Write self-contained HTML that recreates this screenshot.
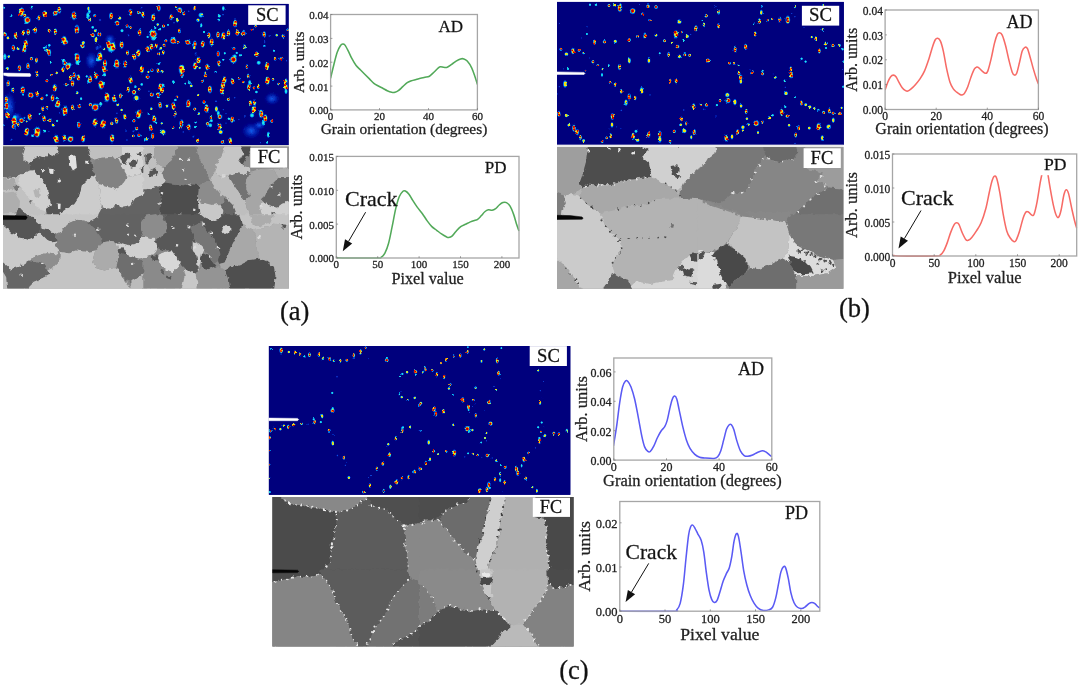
<!DOCTYPE html>
<html lang="en"><head><meta charset="utf-8"><title>Figure</title>
<style>html,body{margin:0;padding:0;background:#fff}body{width:1080px;height:686px;overflow:hidden}svg{display:block}text{font-family:'Liberation Serif', 'Times New Roman', serif;stroke:#222;stroke-width:.28px;stroke-linejoin:round}</style></head><body>
<svg width="1080" height="686" viewBox="0 0 1080 686">
<rect width="1080" height="686" fill="#fff"/>
<defs>
<radialGradient id="gh"><stop offset="0" stop-color="#960000"/><stop offset="0.28" stop-color="#e01000"/><stop offset="0.42" stop-color="#ff8000"/><stop offset="0.52" stop-color="#e8e820" stop-opacity="0.95"/><stop offset="0.66" stop-color="#30e8d8" stop-opacity="0.9"/><stop offset="0.82" stop-color="#0078ff" stop-opacity="0.7"/><stop offset="1" stop-color="#0010b0" stop-opacity="0"/></radialGradient>
<radialGradient id="gw"><stop offset="0" stop-color="#ff7000"/><stop offset="0.25" stop-color="#ffd800"/><stop offset="0.45" stop-color="#90ff60" stop-opacity="0.95"/><stop offset="0.65" stop-color="#00d0ff" stop-opacity="0.85"/><stop offset="0.82" stop-color="#0060f8" stop-opacity="0.6"/><stop offset="1" stop-color="#0010b0" stop-opacity="0"/></radialGradient>
<radialGradient id="gc"><stop offset="0" stop-color="#40f0d0"/><stop offset="0.35" stop-color="#00b8ff" stop-opacity="0.95"/><stop offset="0.7" stop-color="#0058f8" stop-opacity="0.65"/><stop offset="1" stop-color="#0010b0" stop-opacity="0"/></radialGradient>
<radialGradient id="ha"><stop offset="0" stop-color="#40ffd0"/><stop offset="0.45" stop-color="#10d8f0" stop-opacity="0.95"/><stop offset="0.7" stop-color="#0080ff" stop-opacity="0.75"/><stop offset="1" stop-color="#0010b0" stop-opacity="0"/></radialGradient>
<radialGradient id="yb"><stop offset="0" stop-color="#ffc000"/><stop offset="0.55" stop-color="#ffe400"/><stop offset="0.8" stop-color="#c8ff40" stop-opacity="0.9"/><stop offset="1" stop-color="#40ffc0" stop-opacity="0"/></radialGradient>
<radialGradient id="rd"><stop offset="0" stop-color="#900000"/><stop offset="0.55" stop-color="#e00800"/><stop offset="0.85" stop-color="#ff5000" stop-opacity="0.9"/><stop offset="1" stop-color="#ff9000" stop-opacity="0"/></radialGradient>
<radialGradient id="gb"><stop offset="0" stop-color="#1060f0" stop-opacity="0.95"/><stop offset="0.5" stop-color="#0838d0" stop-opacity="0.6"/><stop offset="1" stop-color="#0000a0" stop-opacity="0"/></radialGradient>
<filter id="bl" x="-5%" y="-5%" width="110%" height="110%"><feGaussianBlur stdDeviation="0.55"/></filter>
<filter id="bl2" x="-5%" y="-5%" width="110%" height="110%"><feGaussianBlur stdDeviation="0.35"/></filter>
<filter id="jag" x="-3%" y="-3%" width="106%" height="106%"><feTurbulence type="fractalNoise" baseFrequency="0.22" numOctaves="2" seed="7" result="n"/><feDisplacementMap in="SourceGraphic" in2="n" scale="4.5" xChannelSelector="R" yChannelSelector="G" result="d"/><feGaussianBlur in="d" stdDeviation="0.5"/></filter>
<filter id="dj" x="-2%" y="-2%" width="104%" height="104%"><feTurbulence type="fractalNoise" baseFrequency="0.35" numOctaves="2" seed="3" result="n"/><feDisplacementMap in="SourceGraphic" in2="n" scale="2.4" xChannelSelector="R" yChannelSelector="G" result="d"/><feGaussianBlur in="d" stdDeviation="0.55"/></filter>
</defs>
<clipPath id="ka1"><rect x="3.5" y="3.9" width="285.1" height="141.1"/></clipPath>
<rect x="3.5" y="3.9" width="285.1" height="141.1" fill="#00007d"/>
<g clip-path="url(#ka1)"><g filter="url(#dj)">
<rect x="0.5" y="0.9" width="291.1" height="147.1" fill="#00007d"/>
<ellipse cx="272.0" cy="98.7" rx="8.5" ry="7.0" fill="url(#gb)"/>
<ellipse cx="251.3" cy="130.7" rx="10.5" ry="9.0" fill="url(#gb)"/>
<ellipse cx="259.3" cy="125.3" rx="7.0" ry="5.0" fill="url(#gb)"/>
<ellipse cx="91.3" cy="60.7" rx="7.0" ry="10.0" fill="url(#gb)"/>
<ellipse cx="110.0" cy="39.3" rx="6.0" ry="6.0" fill="url(#gb)"/>
<ellipse cx="9.3" cy="106.0" rx="7.0" ry="16.0" fill="url(#gb)"/>
<ellipse cx="16.7" cy="116.7" rx="6.0" ry="5.0" fill="url(#gb)"/>
<ellipse cx="4.0" cy="7.6" rx="1.63" ry="1.63" fill="url(#ha)"/>
<ellipse cx="11.1" cy="15.6" rx="1.87" ry="1.87" fill="url(#ha)"/>
<ellipse cx="31.1" cy="7.1" rx="1.87" ry="1.87" fill="url(#ha)"/>
<ellipse cx="21.4" cy="11.9" rx="3.37" ry="5.75" fill="url(#ha)"/>
<ellipse cx="22.0" cy="10.0" rx="2.57" ry="2.57" fill="url(#ha)"/>
<ellipse cx="24.6" cy="15.4" rx="2.33" ry="2.33" fill="url(#ha)"/>
<ellipse cx="27.3" cy="19.9" rx="4.20" ry="4.20" fill="url(#ha)"/>
<ellipse cx="26.7" cy="22.0" rx="2.80" ry="2.80" fill="url(#ha)"/>
<ellipse cx="38.8" cy="17.9" rx="1.98" ry="3.38" fill="url(#ha)"/>
<ellipse cx="44.7" cy="14.2" rx="2.78" ry="4.74" fill="url(#ha)"/>
<ellipse cx="55.3" cy="13.2" rx="3.27" ry="3.27" fill="url(#ha)"/>
<ellipse cx="59.3" cy="10.0" rx="2.58" ry="4.40" fill="url(#ha)"/>
<ellipse cx="73.9" cy="15.6" rx="3.17" ry="5.41" fill="url(#ha)"/>
<ellipse cx="88.4" cy="8.6" rx="1.59" ry="2.71" fill="url(#ha)"/>
<ellipse cx="89.3" cy="11.6" rx="1.78" ry="3.04" fill="url(#ha)"/>
<ellipse cx="88.0" cy="15.3" rx="2.38" ry="4.06" fill="url(#ha)"/>
<ellipse cx="89.7" cy="20.2" rx="2.10" ry="2.10" fill="url(#ha)"/>
<ellipse cx="94.7" cy="15.6" rx="2.10" ry="2.10" fill="url(#ha)"/>
<ellipse cx="100.0" cy="20.0" rx="1.87" ry="1.87" fill="url(#gb)"/>
<ellipse cx="111.1" cy="15.9" rx="2.58" ry="4.40" fill="url(#ha)"/>
<ellipse cx="119.6" cy="18.2" rx="2.33" ry="2.33" fill="url(#ha)"/>
<ellipse cx="117.0" cy="23.2" rx="3.27" ry="3.27" fill="url(#ha)"/>
<ellipse cx="130.4" cy="12.3" rx="2.58" ry="4.40" fill="url(#ha)"/>
<ellipse cx="138.5" cy="12.7" rx="2.10" ry="2.10" fill="url(#ha)"/>
<ellipse cx="142.8" cy="14.4" rx="2.18" ry="3.72" fill="url(#ha)"/>
<ellipse cx="141.7" cy="7.6" rx="1.40" ry="1.40" fill="url(#gb)"/>
<ellipse cx="127.1" cy="26.3" rx="2.33" ry="2.33" fill="url(#ha)"/>
<ellipse cx="130.4" cy="27.5" rx="1.87" ry="1.87" fill="url(#ha)"/>
<ellipse cx="122.0" cy="30.7" rx="2.10" ry="2.10" fill="url(#ha)"/>
<ellipse cx="128.4" cy="35.3" rx="1.63" ry="1.63" fill="url(#gb)"/>
<ellipse cx="139.5" cy="32.3" rx="2.58" ry="4.40" fill="url(#ha)"/>
<ellipse cx="5.0" cy="34.4" rx="2.57" ry="2.57" fill="url(#ha)"/>
<ellipse cx="8.0" cy="37.9" rx="2.10" ry="2.10" fill="url(#ha)"/>
<ellipse cx="15.5" cy="35.7" rx="2.38" ry="4.06" fill="url(#ha)"/>
<ellipse cx="23.5" cy="33.0" rx="2.18" ry="3.72" fill="url(#ha)"/>
<ellipse cx="28.1" cy="32.0" rx="2.38" ry="4.06" fill="url(#ha)"/>
<ellipse cx="35.3" cy="30.2" rx="2.38" ry="4.06" fill="url(#ha)"/>
<ellipse cx="49.1" cy="30.5" rx="2.10" ry="2.10" fill="url(#ha)"/>
<ellipse cx="55.5" cy="31.4" rx="2.18" ry="3.72" fill="url(#ha)"/>
<ellipse cx="76.9" cy="29.2" rx="3.17" ry="5.41" fill="url(#ha)"/>
<ellipse cx="92.7" cy="27.3" rx="1.87" ry="1.87" fill="url(#ha)"/>
<ellipse cx="95.3" cy="30.7" rx="2.10" ry="2.10" fill="url(#ha)"/>
<ellipse cx="99.3" cy="34.2" rx="2.80" ry="2.80" fill="url(#ha)"/>
<ellipse cx="92.9" cy="35.3" rx="2.80" ry="2.80" fill="url(#ha)"/>
<ellipse cx="96.0" cy="39.7" rx="2.18" ry="3.72" fill="url(#ha)"/>
<ellipse cx="83.3" cy="42.7" rx="2.33" ry="2.33" fill="url(#ha)"/>
<ellipse cx="82.6" cy="46.2" rx="2.80" ry="2.80" fill="url(#ha)"/>
<ellipse cx="64.2" cy="40.5" rx="3.37" ry="5.75" fill="url(#ha)"/>
<ellipse cx="66.3" cy="42.0" rx="2.57" ry="2.57" fill="url(#ha)"/>
<ellipse cx="25.8" cy="43.5" rx="2.78" ry="4.74" fill="url(#ha)"/>
<ellipse cx="24.3" cy="50.1" rx="2.58" ry="4.40" fill="url(#ha)"/>
<ellipse cx="24.9" cy="46.6" rx="2.58" ry="4.40" fill="url(#ha)"/>
<ellipse cx="13.3" cy="48.0" rx="2.38" ry="4.06" fill="url(#ha)"/>
<ellipse cx="18.0" cy="48.6" rx="2.10" ry="2.10" fill="url(#ha)"/>
<ellipse cx="44.4" cy="47.3" rx="2.10" ry="2.10" fill="url(#ha)"/>
<ellipse cx="46.7" cy="50.4" rx="2.10" ry="2.10" fill="url(#ha)"/>
<ellipse cx="49.3" cy="45.3" rx="1.87" ry="1.87" fill="url(#ha)"/>
<ellipse cx="49.2" cy="52.4" rx="2.58" ry="4.40" fill="url(#ha)"/>
<ellipse cx="4.7" cy="56.7" rx="2.38" ry="4.06" fill="url(#ha)"/>
<ellipse cx="8.7" cy="56.5" rx="1.87" ry="1.87" fill="url(#ha)"/>
<ellipse cx="31.5" cy="58.7" rx="2.33" ry="2.33" fill="url(#ha)"/>
<ellipse cx="36.5" cy="60.3" rx="1.98" ry="3.38" fill="url(#ha)"/>
<ellipse cx="77.3" cy="57.7" rx="3.37" ry="5.75" fill="url(#ha)"/>
<ellipse cx="77.7" cy="62.7" rx="3.03" ry="3.03" fill="url(#ha)"/>
<ellipse cx="76.0" cy="54.7" rx="2.10" ry="2.10" fill="url(#ha)"/>
<ellipse cx="64.8" cy="62.8" rx="3.27" ry="3.27" fill="url(#ha)"/>
<ellipse cx="67.9" cy="66.4" rx="3.50" ry="3.50" fill="url(#ha)"/>
<ellipse cx="69.3" cy="64.7" rx="2.80" ry="2.80" fill="url(#ha)"/>
<ellipse cx="63.3" cy="60.7" rx="2.10" ry="2.10" fill="url(#ha)"/>
<ellipse cx="50.7" cy="62.7" rx="1.40" ry="1.40" fill="url(#ha)"/>
<ellipse cx="99.8" cy="56.5" rx="3.37" ry="5.75" fill="url(#ha)"/>
<ellipse cx="98.0" cy="59.3" rx="2.80" ry="2.80" fill="url(#ha)"/>
<ellipse cx="108.8" cy="44.4" rx="3.37" ry="5.75" fill="url(#ha)"/>
<ellipse cx="112.8" cy="46.7" rx="3.57" ry="6.09" fill="url(#ha)"/>
<ellipse cx="110.7" cy="49.3" rx="3.73" ry="3.73" fill="url(#ha)"/>
<ellipse cx="104.0" cy="49.0" rx="1.87" ry="1.87" fill="url(#ha)"/>
<ellipse cx="100.0" cy="46.7" rx="2.33" ry="2.33" fill="url(#gb)"/>
<ellipse cx="97.3" cy="48.0" rx="2.80" ry="2.80" fill="url(#gb)"/>
<ellipse cx="121.6" cy="44.9" rx="2.78" ry="4.74" fill="url(#ha)"/>
<ellipse cx="127.6" cy="52.7" rx="1.98" ry="3.38" fill="url(#ha)"/>
<ellipse cx="138.5" cy="53.1" rx="2.78" ry="4.74" fill="url(#ha)"/>
<ellipse cx="134.5" cy="57.0" rx="2.38" ry="4.06" fill="url(#ha)"/>
<ellipse cx="125.1" cy="63.9" rx="2.78" ry="4.74" fill="url(#ha)"/>
<ellipse cx="116.8" cy="63.7" rx="3.37" ry="5.75" fill="url(#ha)"/>
<ellipse cx="115.1" cy="64.7" rx="2.80" ry="2.80" fill="url(#ha)"/>
<ellipse cx="105.0" cy="63.4" rx="2.78" ry="4.74" fill="url(#ha)"/>
<ellipse cx="104.2" cy="69.3" rx="2.78" ry="4.74" fill="url(#ha)"/>
<ellipse cx="27.9" cy="66.0" rx="2.38" ry="4.06" fill="url(#ha)"/>
<ellipse cx="19.4" cy="68.1" rx="2.38" ry="4.06" fill="url(#ha)"/>
<ellipse cx="7.3" cy="68.5" rx="2.33" ry="2.33" fill="url(#ha)"/>
<ellipse cx="36.7" cy="72.2" rx="1.87" ry="1.87" fill="url(#ha)"/>
<ellipse cx="56.6" cy="72.9" rx="1.87" ry="1.87" fill="url(#ha)"/>
<ellipse cx="62.9" cy="69.7" rx="2.18" ry="3.72" fill="url(#ha)"/>
<ellipse cx="74.0" cy="73.2" rx="1.40" ry="1.40" fill="url(#ha)"/>
<ellipse cx="141.9" cy="69.4" rx="2.78" ry="4.74" fill="url(#ha)"/>
<ellipse cx="95.1" cy="72.5" rx="1.40" ry="1.40" fill="url(#ha)"/>
<ellipse cx="158.9" cy="8.2" rx="2.38" ry="4.06" fill="url(#ha)"/>
<ellipse cx="153.2" cy="17.4" rx="2.78" ry="4.74" fill="url(#ha)"/>
<ellipse cx="176.2" cy="7.0" rx="1.63" ry="1.63" fill="url(#ha)"/>
<ellipse cx="179.7" cy="9.9" rx="3.27" ry="3.27" fill="url(#ha)"/>
<ellipse cx="183.8" cy="13.9" rx="2.10" ry="2.10" fill="url(#ha)"/>
<ellipse cx="188.7" cy="11.3" rx="1.40" ry="1.40" fill="url(#gb)"/>
<ellipse cx="194.7" cy="8.2" rx="1.78" ry="3.04" fill="url(#ha)"/>
<ellipse cx="171.1" cy="17.2" rx="2.18" ry="3.72" fill="url(#ha)"/>
<ellipse cx="177.3" cy="20.1" rx="1.78" ry="3.04" fill="url(#ha)"/>
<ellipse cx="174.0" cy="22.7" rx="1.40" ry="1.40" fill="url(#gb)"/>
<ellipse cx="200.9" cy="15.1" rx="3.03" ry="3.03" fill="url(#ha)"/>
<ellipse cx="202.0" cy="14.4" rx="1.63" ry="1.63" fill="url(#ha)"/>
<ellipse cx="198.0" cy="20.2" rx="2.33" ry="2.33" fill="url(#ha)"/>
<ellipse cx="201.3" cy="25.3" rx="1.59" ry="2.71" fill="url(#ha)"/>
<ellipse cx="223.3" cy="8.4" rx="1.78" ry="3.04" fill="url(#ha)"/>
<ellipse cx="219.3" cy="16.0" rx="2.10" ry="2.10" fill="url(#ha)"/>
<ellipse cx="218.7" cy="20.0" rx="1.87" ry="1.87" fill="url(#ha)"/>
<ellipse cx="222.7" cy="14.7" rx="1.17" ry="1.17" fill="url(#gb)"/>
<ellipse cx="235.0" cy="23.3" rx="2.78" ry="4.74" fill="url(#ha)"/>
<ellipse cx="255.7" cy="26.1" rx="1.87" ry="1.87" fill="url(#ha)"/>
<ellipse cx="252.1" cy="29.4" rx="2.10" ry="2.10" fill="url(#ha)"/>
<ellipse cx="287.7" cy="29.8" rx="1.87" ry="1.87" fill="url(#ha)"/>
<ellipse cx="157.7" cy="24.4" rx="1.87" ry="1.87" fill="url(#ha)"/>
<ellipse cx="163.4" cy="26.3" rx="2.10" ry="2.10" fill="url(#ha)"/>
<ellipse cx="168.0" cy="24.9" rx="1.40" ry="1.40" fill="url(#ha)"/>
<ellipse cx="160.0" cy="29.3" rx="1.63" ry="1.63" fill="url(#ha)"/>
<ellipse cx="155.3" cy="28.0" rx="1.63" ry="1.63" fill="url(#ha)"/>
<ellipse cx="153.1" cy="33.8" rx="5.13" ry="5.13" fill="url(#ha)"/>
<ellipse cx="153.3" cy="38.0" rx="3.27" ry="3.27" fill="url(#ha)"/>
<ellipse cx="151.3" cy="32.0" rx="2.80" ry="2.80" fill="url(#ha)"/>
<ellipse cx="147.6" cy="36.9" rx="1.63" ry="1.63" fill="url(#ha)"/>
<ellipse cx="179.3" cy="31.0" rx="1.78" ry="3.04" fill="url(#ha)"/>
<ellipse cx="204.0" cy="32.0" rx="1.63" ry="1.63" fill="url(#ha)"/>
<ellipse cx="208.8" cy="35.3" rx="2.38" ry="4.06" fill="url(#ha)"/>
<ellipse cx="217.9" cy="34.9" rx="2.38" ry="4.06" fill="url(#ha)"/>
<ellipse cx="223.3" cy="35.8" rx="2.78" ry="4.74" fill="url(#ha)"/>
<ellipse cx="228.5" cy="33.1" rx="2.38" ry="4.06" fill="url(#ha)"/>
<ellipse cx="237.4" cy="32.7" rx="2.38" ry="4.06" fill="url(#ha)"/>
<ellipse cx="243.2" cy="33.4" rx="3.27" ry="3.27" fill="url(#ha)"/>
<ellipse cx="264.2" cy="34.5" rx="2.38" ry="4.06" fill="url(#ha)"/>
<ellipse cx="269.3" cy="36.0" rx="1.40" ry="1.40" fill="url(#gb)"/>
<ellipse cx="276.7" cy="35.2" rx="1.87" ry="1.87" fill="url(#ha)"/>
<ellipse cx="283.2" cy="35.9" rx="2.33" ry="2.33" fill="url(#ha)"/>
<ellipse cx="264.7" cy="42.0" rx="1.19" ry="2.03" fill="url(#gb)"/>
<ellipse cx="264.4" cy="46.0" rx="1.63" ry="1.63" fill="url(#ha)"/>
<ellipse cx="173.1" cy="40.8" rx="3.97" ry="3.97" fill="url(#ha)"/>
<ellipse cx="173.3" cy="38.7" rx="2.57" ry="2.57" fill="url(#ha)"/>
<ellipse cx="178.2" cy="42.6" rx="2.10" ry="2.10" fill="url(#ha)"/>
<ellipse cx="165.9" cy="40.7" rx="2.10" ry="2.10" fill="url(#ha)"/>
<ellipse cx="164.0" cy="45.1" rx="2.10" ry="2.10" fill="url(#ha)"/>
<ellipse cx="187.9" cy="42.3" rx="3.27" ry="3.27" fill="url(#ha)"/>
<ellipse cx="194.8" cy="43.8" rx="2.38" ry="4.06" fill="url(#ha)"/>
<ellipse cx="194.3" cy="47.9" rx="1.87" ry="1.87" fill="url(#ha)"/>
<ellipse cx="202.7" cy="44.1" rx="2.58" ry="4.40" fill="url(#ha)"/>
<ellipse cx="211.6" cy="42.1" rx="2.78" ry="4.74" fill="url(#ha)"/>
<ellipse cx="212.4" cy="43.6" rx="2.33" ry="2.33" fill="url(#ha)"/>
<ellipse cx="151.4" cy="47.0" rx="2.38" ry="4.06" fill="url(#ha)"/>
<ellipse cx="156.3" cy="45.7" rx="1.98" ry="3.38" fill="url(#ha)"/>
<ellipse cx="147.7" cy="49.1" rx="2.38" ry="4.06" fill="url(#ha)"/>
<ellipse cx="160.7" cy="48.4" rx="1.87" ry="1.87" fill="url(#ha)"/>
<ellipse cx="158.9" cy="53.8" rx="2.33" ry="2.33" fill="url(#ha)"/>
<ellipse cx="163.3" cy="52.4" rx="1.78" ry="3.04" fill="url(#ha)"/>
<ellipse cx="244.7" cy="46.8" rx="1.78" ry="3.04" fill="url(#ha)"/>
<ellipse cx="233.9" cy="48.5" rx="2.10" ry="2.10" fill="url(#ha)"/>
<ellipse cx="274.0" cy="50.7" rx="1.63" ry="1.63" fill="url(#ha)"/>
<ellipse cx="218.2" cy="53.8" rx="2.18" ry="3.72" fill="url(#ha)"/>
<ellipse cx="224.7" cy="53.3" rx="1.63" ry="1.63" fill="url(#ha)"/>
<ellipse cx="236.7" cy="52.9" rx="1.63" ry="1.63" fill="url(#ha)"/>
<ellipse cx="240.0" cy="55.3" rx="1.63" ry="1.63" fill="url(#ha)"/>
<ellipse cx="233.4" cy="59.7" rx="4.43" ry="4.43" fill="url(#ha)"/>
<ellipse cx="234.7" cy="56.4" rx="2.57" ry="2.57" fill="url(#ha)"/>
<ellipse cx="256.7" cy="54.3" rx="2.18" ry="3.72" fill="url(#ha)"/>
<ellipse cx="223.3" cy="59.6" rx="1.63" ry="1.63" fill="url(#ha)"/>
<ellipse cx="195.6" cy="54.0" rx="1.59" ry="2.71" fill="url(#gb)"/>
<ellipse cx="198.6" cy="60.4" rx="2.78" ry="4.74" fill="url(#ha)"/>
<ellipse cx="275.1" cy="59.2" rx="1.87" ry="1.87" fill="url(#ha)"/>
<ellipse cx="280.9" cy="58.8" rx="2.10" ry="2.10" fill="url(#ha)"/>
<ellipse cx="286.7" cy="60.7" rx="1.40" ry="1.40" fill="url(#gb)"/>
<ellipse cx="158.9" cy="63.6" rx="1.87" ry="1.87" fill="url(#ha)"/>
<ellipse cx="219.1" cy="63.3" rx="2.38" ry="4.06" fill="url(#ha)"/>
<ellipse cx="207.2" cy="67.0" rx="2.38" ry="4.06" fill="url(#ha)"/>
<ellipse cx="195.0" cy="65.9" rx="2.78" ry="4.74" fill="url(#ha)"/>
<ellipse cx="199.6" cy="67.9" rx="1.63" ry="1.63" fill="url(#ha)"/>
<ellipse cx="246.9" cy="66.7" rx="1.78" ry="3.04" fill="url(#ha)"/>
<ellipse cx="258.7" cy="62.7" rx="2.57" ry="2.57" fill="url(#ha)"/>
<ellipse cx="267.0" cy="66.0" rx="2.78" ry="4.74" fill="url(#ha)"/>
<ellipse cx="181.5" cy="69.6" rx="3.57" ry="6.09" fill="url(#ha)"/>
<ellipse cx="181.7" cy="67.3" rx="3.27" ry="3.27" fill="url(#ha)"/>
<ellipse cx="151.9" cy="70.4" rx="2.33" ry="2.33" fill="url(#ha)"/>
<ellipse cx="157.9" cy="70.5" rx="1.78" ry="3.04" fill="url(#ha)"/>
<ellipse cx="162.0" cy="71.7" rx="2.10" ry="2.10" fill="url(#ha)"/>
<ellipse cx="148.4" cy="71.9" rx="1.63" ry="1.63" fill="url(#ha)"/>
<ellipse cx="215.6" cy="72.0" rx="1.63" ry="1.63" fill="url(#ha)"/>
<ellipse cx="205.3" cy="72.7" rx="1.63" ry="1.63" fill="url(#ha)"/>
<ellipse cx="37.2" cy="75.4" rx="2.10" ry="2.10" fill="url(#ha)"/>
<ellipse cx="51.3" cy="75.1" rx="1.63" ry="1.63" fill="url(#ha)"/>
<ellipse cx="74.2" cy="75.3" rx="2.18" ry="3.72" fill="url(#ha)"/>
<ellipse cx="70.7" cy="78.0" rx="2.18" ry="3.72" fill="url(#ha)"/>
<ellipse cx="78.4" cy="77.5" rx="2.38" ry="4.06" fill="url(#ha)"/>
<ellipse cx="86.7" cy="76.4" rx="1.63" ry="1.63" fill="url(#ha)"/>
<ellipse cx="90.2" cy="79.2" rx="2.78" ry="4.74" fill="url(#ha)"/>
<ellipse cx="88.9" cy="81.3" rx="2.57" ry="2.57" fill="url(#ha)"/>
<ellipse cx="96.2" cy="76.1" rx="2.38" ry="4.06" fill="url(#ha)"/>
<ellipse cx="104.4" cy="74.7" rx="2.33" ry="2.33" fill="url(#ha)"/>
<ellipse cx="47.0" cy="80.8" rx="2.10" ry="2.10" fill="url(#ha)"/>
<ellipse cx="8.2" cy="83.4" rx="2.38" ry="4.06" fill="url(#ha)"/>
<ellipse cx="66.2" cy="84.8" rx="2.10" ry="2.10" fill="url(#ha)"/>
<ellipse cx="72.6" cy="83.5" rx="2.38" ry="4.06" fill="url(#ha)"/>
<ellipse cx="101.1" cy="84.8" rx="3.37" ry="5.75" fill="url(#ha)"/>
<ellipse cx="103.1" cy="83.6" rx="2.57" ry="2.57" fill="url(#ha)"/>
<ellipse cx="130.7" cy="80.2" rx="2.58" ry="4.40" fill="url(#ha)"/>
<ellipse cx="141.7" cy="84.4" rx="1.87" ry="1.87" fill="url(#ha)"/>
<ellipse cx="135.3" cy="86.7" rx="1.87" ry="1.87" fill="url(#ha)"/>
<ellipse cx="139.1" cy="89.2" rx="1.87" ry="1.87" fill="url(#ha)"/>
<ellipse cx="128.3" cy="89.7" rx="2.18" ry="3.72" fill="url(#ha)"/>
<ellipse cx="134.1" cy="92.4" rx="3.03" ry="3.03" fill="url(#ha)"/>
<ellipse cx="136.4" cy="98.1" rx="3.50" ry="3.50" fill="url(#ha)"/>
<ellipse cx="54.8" cy="87.8" rx="2.78" ry="4.74" fill="url(#ha)"/>
<ellipse cx="12.8" cy="90.1" rx="2.18" ry="3.72" fill="url(#ha)"/>
<ellipse cx="22.8" cy="90.0" rx="2.78" ry="4.74" fill="url(#ha)"/>
<ellipse cx="23.1" cy="94.7" rx="1.40" ry="1.40" fill="url(#ha)"/>
<ellipse cx="30.8" cy="95.3" rx="3.73" ry="3.73" fill="url(#ha)"/>
<ellipse cx="37.2" cy="94.4" rx="1.98" ry="3.38" fill="url(#ha)"/>
<ellipse cx="46.7" cy="95.3" rx="1.63" ry="1.63" fill="url(#ha)"/>
<ellipse cx="41.9" cy="98.5" rx="2.33" ry="2.33" fill="url(#ha)"/>
<ellipse cx="52.5" cy="97.9" rx="2.58" ry="4.40" fill="url(#ha)"/>
<ellipse cx="77.1" cy="92.7" rx="2.10" ry="2.10" fill="url(#ha)"/>
<ellipse cx="81.1" cy="98.7" rx="1.87" ry="1.87" fill="url(#ha)"/>
<ellipse cx="106.9" cy="97.3" rx="3.37" ry="5.75" fill="url(#ha)"/>
<ellipse cx="114.0" cy="98.4" rx="2.78" ry="4.74" fill="url(#ha)"/>
<ellipse cx="115.3" cy="100.7" rx="1.87" ry="1.87" fill="url(#ha)"/>
<ellipse cx="120.5" cy="95.9" rx="1.98" ry="3.38" fill="url(#ha)"/>
<ellipse cx="117.7" cy="104.7" rx="2.10" ry="2.10" fill="url(#ha)"/>
<ellipse cx="100.7" cy="104.0" rx="2.33" ry="2.33" fill="url(#ha)"/>
<ellipse cx="58.1" cy="103.9" rx="2.98" ry="5.08" fill="url(#ha)"/>
<ellipse cx="56.7" cy="105.3" rx="2.57" ry="2.57" fill="url(#ha)"/>
<ellipse cx="56.7" cy="98.0" rx="1.87" ry="1.87" fill="url(#ha)"/>
<ellipse cx="6.5" cy="99.5" rx="2.38" ry="4.06" fill="url(#ha)"/>
<ellipse cx="6.5" cy="105.8" rx="2.98" ry="5.08" fill="url(#ha)"/>
<ellipse cx="7.3" cy="115.4" rx="2.78" ry="4.74" fill="url(#ha)"/>
<ellipse cx="42.7" cy="108.6" rx="1.98" ry="3.38" fill="url(#ha)"/>
<ellipse cx="46.9" cy="107.4" rx="1.87" ry="1.87" fill="url(#ha)"/>
<ellipse cx="79.4" cy="106.1" rx="2.80" ry="2.80" fill="url(#ha)"/>
<ellipse cx="72.6" cy="107.4" rx="2.18" ry="3.72" fill="url(#ha)"/>
<ellipse cx="90.4" cy="104.5" rx="2.33" ry="2.33" fill="url(#ha)"/>
<ellipse cx="95.3" cy="107.2" rx="4.67" ry="4.67" fill="url(#ha)"/>
<ellipse cx="65.1" cy="110.7" rx="3.57" ry="6.09" fill="url(#ha)"/>
<ellipse cx="64.7" cy="114.0" rx="2.57" ry="2.57" fill="url(#ha)"/>
<ellipse cx="59.6" cy="112.9" rx="1.40" ry="1.40" fill="url(#gb)"/>
<ellipse cx="39.7" cy="114.0" rx="1.63" ry="1.63" fill="url(#ha)"/>
<ellipse cx="121.6" cy="110.0" rx="1.87" ry="1.87" fill="url(#ha)"/>
<ellipse cx="116.9" cy="113.3" rx="1.40" ry="1.40" fill="url(#gb)"/>
<ellipse cx="138.7" cy="114.2" rx="3.17" ry="5.41" fill="url(#ha)"/>
<ellipse cx="138.3" cy="116.7" rx="2.33" ry="2.33" fill="url(#ha)"/>
<ellipse cx="124.8" cy="116.8" rx="2.18" ry="3.72" fill="url(#ha)"/>
<ellipse cx="29.5" cy="117.0" rx="2.58" ry="4.40" fill="url(#ha)"/>
<ellipse cx="44.1" cy="118.6" rx="2.38" ry="4.06" fill="url(#ha)"/>
<ellipse cx="49.9" cy="120.3" rx="2.33" ry="2.33" fill="url(#ha)"/>
<ellipse cx="57.1" cy="120.9" rx="1.63" ry="1.63" fill="url(#ha)"/>
<ellipse cx="24.4" cy="117.7" rx="1.40" ry="1.40" fill="url(#ha)"/>
<ellipse cx="26.7" cy="121.5" rx="1.40" ry="1.40" fill="url(#ha)"/>
<ellipse cx="21.4" cy="120.3" rx="3.27" ry="3.27" fill="url(#ha)"/>
<ellipse cx="14.4" cy="121.3" rx="3.57" ry="6.09" fill="url(#ha)"/>
<ellipse cx="14.7" cy="117.3" rx="2.80" ry="2.80" fill="url(#ha)"/>
<ellipse cx="13.6" cy="126.6" rx="2.80" ry="2.80" fill="url(#ha)"/>
<ellipse cx="18.3" cy="124.3" rx="1.78" ry="3.04" fill="url(#ha)"/>
<ellipse cx="53.3" cy="125.0" rx="2.33" ry="2.33" fill="url(#ha)"/>
<ellipse cx="78.7" cy="125.0" rx="2.38" ry="4.06" fill="url(#ha)"/>
<ellipse cx="94.9" cy="122.5" rx="2.98" ry="5.08" fill="url(#ha)"/>
<ellipse cx="103.2" cy="124.0" rx="3.37" ry="5.75" fill="url(#ha)"/>
<ellipse cx="104.0" cy="125.3" rx="2.33" ry="2.33" fill="url(#ha)"/>
<ellipse cx="111.8" cy="123.4" rx="2.33" ry="2.33" fill="url(#ha)"/>
<ellipse cx="116.6" cy="120.7" rx="2.38" ry="4.06" fill="url(#ha)"/>
<ellipse cx="133.8" cy="120.7" rx="2.33" ry="2.33" fill="url(#ha)"/>
<ellipse cx="136.5" cy="128.7" rx="2.33" ry="2.33" fill="url(#ha)"/>
<ellipse cx="133.3" cy="131.3" rx="1.63" ry="1.63" fill="url(#gb)"/>
<ellipse cx="126.0" cy="131.1" rx="1.40" ry="1.40" fill="url(#gb)"/>
<ellipse cx="138.9" cy="135.4" rx="2.33" ry="2.33" fill="url(#ha)"/>
<ellipse cx="133.5" cy="135.9" rx="1.87" ry="1.87" fill="url(#ha)"/>
<ellipse cx="145.3" cy="139.3" rx="1.87" ry="1.87" fill="url(#ha)"/>
<ellipse cx="126.9" cy="140.0" rx="1.40" ry="1.40" fill="url(#gb)"/>
<ellipse cx="26.7" cy="131.9" rx="2.98" ry="5.08" fill="url(#ha)"/>
<ellipse cx="27.3" cy="130.0" rx="2.57" ry="2.57" fill="url(#ha)"/>
<ellipse cx="37.3" cy="132.0" rx="3.97" ry="6.77" fill="url(#ha)"/>
<ellipse cx="38.0" cy="130.0" rx="2.80" ry="2.80" fill="url(#ha)"/>
<ellipse cx="32.7" cy="135.6" rx="2.10" ry="2.10" fill="url(#ha)"/>
<ellipse cx="44.9" cy="131.1" rx="1.87" ry="1.87" fill="url(#ha)"/>
<ellipse cx="48.9" cy="131.6" rx="1.17" ry="1.17" fill="url(#gb)"/>
<ellipse cx="11.6" cy="139.6" rx="1.63" ry="1.63" fill="url(#gb)"/>
<ellipse cx="56.2" cy="139.0" rx="2.98" ry="5.08" fill="url(#ha)"/>
<ellipse cx="56.0" cy="137.3" rx="2.33" ry="2.33" fill="url(#ha)"/>
<ellipse cx="64.4" cy="137.9" rx="2.38" ry="4.06" fill="url(#ha)"/>
<ellipse cx="70.4" cy="139.1" rx="3.73" ry="3.73" fill="url(#ha)"/>
<ellipse cx="83.2" cy="138.9" rx="2.58" ry="4.40" fill="url(#ha)"/>
<ellipse cx="112.0" cy="138.2" rx="2.98" ry="5.08" fill="url(#ha)"/>
<ellipse cx="3.6" cy="125.3" rx="1.40" ry="1.40" fill="url(#ha)"/>
<ellipse cx="147.7" cy="76.6" rx="2.80" ry="2.80" fill="url(#ha)"/>
<ellipse cx="182.2" cy="75.1" rx="2.33" ry="2.33" fill="url(#ha)"/>
<ellipse cx="205.4" cy="75.4" rx="2.33" ry="2.33" fill="url(#ha)"/>
<ellipse cx="202.4" cy="81.4" rx="1.87" ry="1.87" fill="url(#ha)"/>
<ellipse cx="173.3" cy="81.7" rx="1.87" ry="1.87" fill="url(#ha)"/>
<ellipse cx="185.3" cy="83.6" rx="1.40" ry="1.40" fill="url(#ha)"/>
<ellipse cx="189.3" cy="82.7" rx="2.10" ry="2.10" fill="url(#ha)"/>
<ellipse cx="191.3" cy="86.0" rx="2.10" ry="2.10" fill="url(#ha)"/>
<ellipse cx="210.0" cy="89.5" rx="2.78" ry="4.74" fill="url(#ha)"/>
<ellipse cx="224.7" cy="80.0" rx="2.58" ry="4.40" fill="url(#ha)"/>
<ellipse cx="222.8" cy="85.2" rx="2.78" ry="4.74" fill="url(#ha)"/>
<ellipse cx="221.7" cy="90.8" rx="2.58" ry="4.40" fill="url(#ha)"/>
<ellipse cx="222.3" cy="92.7" rx="2.10" ry="2.10" fill="url(#ha)"/>
<ellipse cx="232.4" cy="81.4" rx="2.38" ry="4.06" fill="url(#ha)"/>
<ellipse cx="239.2" cy="78.4" rx="1.87" ry="1.87" fill="url(#ha)"/>
<ellipse cx="243.3" cy="81.9" rx="1.87" ry="1.87" fill="url(#ha)"/>
<ellipse cx="248.1" cy="76.0" rx="1.78" ry="3.04" fill="url(#ha)"/>
<ellipse cx="249.7" cy="82.7" rx="1.98" ry="3.38" fill="url(#ha)"/>
<ellipse cx="248.7" cy="87.0" rx="2.38" ry="4.06" fill="url(#ha)"/>
<ellipse cx="254.1" cy="87.9" rx="2.10" ry="2.10" fill="url(#ha)"/>
<ellipse cx="258.3" cy="86.5" rx="1.98" ry="3.38" fill="url(#ha)"/>
<ellipse cx="256.4" cy="92.0" rx="1.87" ry="1.87" fill="url(#ha)"/>
<ellipse cx="267.4" cy="80.8" rx="2.98" ry="5.08" fill="url(#ha)"/>
<ellipse cx="273.0" cy="79.4" rx="1.87" ry="1.87" fill="url(#ha)"/>
<ellipse cx="278.5" cy="84.0" rx="1.87" ry="1.87" fill="url(#ha)"/>
<ellipse cx="285.6" cy="81.7" rx="2.58" ry="4.40" fill="url(#ha)"/>
<ellipse cx="285.7" cy="86.4" rx="2.58" ry="4.40" fill="url(#ha)"/>
<ellipse cx="286.0" cy="91.3" rx="1.98" ry="3.38" fill="url(#ha)"/>
<ellipse cx="160.2" cy="86.6" rx="2.38" ry="4.06" fill="url(#ha)"/>
<ellipse cx="162.1" cy="90.0" rx="2.38" ry="4.06" fill="url(#ha)"/>
<ellipse cx="162.7" cy="85.3" rx="2.33" ry="2.33" fill="url(#ha)"/>
<ellipse cx="158.0" cy="94.5" rx="2.80" ry="2.80" fill="url(#ha)"/>
<ellipse cx="151.9" cy="94.6" rx="2.80" ry="2.80" fill="url(#ha)"/>
<ellipse cx="158.7" cy="97.3" rx="1.40" ry="1.40" fill="url(#ha)"/>
<ellipse cx="148.9" cy="91.3" rx="1.40" ry="1.40" fill="url(#gb)"/>
<ellipse cx="198.3" cy="95.0" rx="1.63" ry="1.63" fill="url(#ha)"/>
<ellipse cx="177.0" cy="96.9" rx="1.87" ry="1.87" fill="url(#ha)"/>
<ellipse cx="175.3" cy="100.0" rx="1.87" ry="1.87" fill="url(#ha)"/>
<ellipse cx="173.5" cy="105.8" rx="2.78" ry="4.74" fill="url(#ha)"/>
<ellipse cx="175.5" cy="114.2" rx="1.78" ry="3.04" fill="url(#ha)"/>
<ellipse cx="174.7" cy="116.9" rx="1.40" ry="1.40" fill="url(#gb)"/>
<ellipse cx="160.1" cy="105.1" rx="2.38" ry="4.06" fill="url(#ha)"/>
<ellipse cx="166.9" cy="106.1" rx="2.10" ry="2.10" fill="url(#ha)"/>
<ellipse cx="151.3" cy="108.7" rx="1.87" ry="1.87" fill="url(#ha)"/>
<ellipse cx="148.7" cy="114.0" rx="1.63" ry="1.63" fill="url(#ha)"/>
<ellipse cx="188.5" cy="103.5" rx="2.98" ry="5.08" fill="url(#ha)"/>
<ellipse cx="194.8" cy="109.0" rx="2.10" ry="2.10" fill="url(#ha)"/>
<ellipse cx="198.7" cy="113.6" rx="1.87" ry="1.87" fill="url(#ha)"/>
<ellipse cx="204.1" cy="102.3" rx="2.33" ry="2.33" fill="url(#ha)"/>
<ellipse cx="206.6" cy="108.7" rx="2.98" ry="5.08" fill="url(#ha)"/>
<ellipse cx="206.3" cy="106.0" rx="2.10" ry="2.10" fill="url(#ha)"/>
<ellipse cx="216.4" cy="101.3" rx="1.40" ry="1.40" fill="url(#gb)"/>
<ellipse cx="228.3" cy="99.6" rx="2.10" ry="2.10" fill="url(#ha)"/>
<ellipse cx="234.7" cy="97.7" rx="1.40" ry="1.40" fill="url(#gb)"/>
<ellipse cx="216.4" cy="109.0" rx="2.18" ry="3.72" fill="url(#ha)"/>
<ellipse cx="218.3" cy="113.3" rx="1.98" ry="3.38" fill="url(#ha)"/>
<ellipse cx="219.9" cy="116.7" rx="3.03" ry="3.03" fill="url(#ha)"/>
<ellipse cx="223.3" cy="109.7" rx="1.17" ry="1.17" fill="url(#gb)"/>
<ellipse cx="226.0" cy="113.7" rx="1.17" ry="1.17" fill="url(#gb)"/>
<ellipse cx="250.6" cy="103.0" rx="1.98" ry="3.38" fill="url(#ha)"/>
<ellipse cx="254.5" cy="102.4" rx="2.38" ry="4.06" fill="url(#ha)"/>
<ellipse cx="253.7" cy="109.7" rx="2.78" ry="4.74" fill="url(#ha)"/>
<ellipse cx="252.0" cy="115.3" rx="2.80" ry="2.80" fill="url(#ha)"/>
<ellipse cx="244.9" cy="116.9" rx="1.40" ry="1.40" fill="url(#gb)"/>
<ellipse cx="261.1" cy="113.9" rx="2.98" ry="5.08" fill="url(#ha)"/>
<ellipse cx="260.9" cy="111.3" rx="2.10" ry="2.10" fill="url(#ha)"/>
<ellipse cx="265.3" cy="118.1" rx="2.78" ry="4.74" fill="url(#ha)"/>
<ellipse cx="263.3" cy="122.7" rx="2.18" ry="3.72" fill="url(#ha)"/>
<ellipse cx="271.7" cy="121.2" rx="2.10" ry="2.10" fill="url(#ha)"/>
<ellipse cx="154.3" cy="118.9" rx="2.78" ry="4.74" fill="url(#ha)"/>
<ellipse cx="156.0" cy="123.1" rx="1.87" ry="1.87" fill="url(#ha)"/>
<ellipse cx="161.7" cy="123.3" rx="1.63" ry="1.63" fill="url(#ha)"/>
<ellipse cx="150.6" cy="127.5" rx="2.38" ry="4.06" fill="url(#ha)"/>
<ellipse cx="181.5" cy="123.3" rx="2.78" ry="4.74" fill="url(#ha)"/>
<ellipse cx="180.2" cy="127.8" rx="1.87" ry="1.87" fill="url(#ha)"/>
<ellipse cx="173.1" cy="127.6" rx="1.87" ry="1.87" fill="url(#ha)"/>
<ellipse cx="188.9" cy="127.0" rx="2.38" ry="4.06" fill="url(#ha)"/>
<ellipse cx="195.1" cy="127.1" rx="1.63" ry="1.63" fill="url(#ha)"/>
<ellipse cx="195.6" cy="122.3" rx="1.63" ry="1.63" fill="url(#ha)"/>
<ellipse cx="183.3" cy="132.0" rx="1.40" ry="1.40" fill="url(#gb)"/>
<ellipse cx="163.1" cy="132.1" rx="3.27" ry="3.27" fill="url(#ha)"/>
<ellipse cx="160.4" cy="129.7" rx="1.40" ry="1.40" fill="url(#ha)"/>
<ellipse cx="152.6" cy="135.8" rx="2.18" ry="3.72" fill="url(#ha)"/>
<ellipse cx="146.7" cy="139.4" rx="1.87" ry="1.87" fill="url(#ha)"/>
<ellipse cx="207.5" cy="123.8" rx="2.33" ry="2.33" fill="url(#ha)"/>
<ellipse cx="210.3" cy="125.3" rx="2.57" ry="2.57" fill="url(#ha)"/>
<ellipse cx="211.3" cy="120.7" rx="2.10" ry="2.10" fill="url(#ha)"/>
<ellipse cx="210.8" cy="117.2" rx="1.63" ry="1.63" fill="url(#ha)"/>
<ellipse cx="232.0" cy="119.7" rx="2.38" ry="4.06" fill="url(#ha)"/>
<ellipse cx="228.7" cy="118.7" rx="1.63" ry="1.63" fill="url(#ha)"/>
<ellipse cx="226.0" cy="123.1" rx="1.17" ry="1.17" fill="url(#gb)"/>
<ellipse cx="238.9" cy="119.6" rx="1.17" ry="1.17" fill="url(#gb)"/>
<ellipse cx="219.4" cy="126.7" rx="2.78" ry="4.74" fill="url(#ha)"/>
<ellipse cx="220.7" cy="132.1" rx="2.80" ry="2.80" fill="url(#ha)"/>
<ellipse cx="193.3" cy="136.7" rx="1.63" ry="1.63" fill="url(#gb)"/>
<ellipse cx="197.6" cy="140.7" rx="1.78" ry="3.04" fill="url(#ha)"/>
<ellipse cx="222.3" cy="142.1" rx="2.33" ry="2.33" fill="url(#ha)"/>
<ellipse cx="230.3" cy="140.6" rx="2.38" ry="4.06" fill="url(#ha)"/>
<ellipse cx="268.4" cy="134.7" rx="2.18" ry="3.72" fill="url(#ha)"/>
<ellipse cx="267.1" cy="142.7" rx="1.40" ry="1.40" fill="url(#ha)"/>
<ellipse cx="260.4" cy="142.7" rx="1.17" ry="1.17" fill="url(#gb)"/>
<ellipse cx="21.3" cy="12.0" rx="2.23" ry="4.03" fill="url(#yb)"/>
<ellipse cx="24.7" cy="15.3" rx="1.54" ry="1.63" fill="url(#yb)"/>
<ellipse cx="27.6" cy="20.0" rx="2.77" ry="2.94" fill="url(#yb)"/>
<ellipse cx="39.1" cy="17.7" rx="1.31" ry="2.37" fill="url(#yb)"/>
<ellipse cx="44.7" cy="14.3" rx="1.83" ry="3.32" fill="url(#yb)"/>
<ellipse cx="55.3" cy="12.9" rx="2.16" ry="2.29" fill="url(#yb)"/>
<ellipse cx="59.1" cy="9.7" rx="1.70" ry="3.08" fill="url(#yb)"/>
<ellipse cx="74.0" cy="15.3" rx="2.09" ry="3.79" fill="url(#yb)"/>
<ellipse cx="88.4" cy="8.4" rx="0.98" ry="1.68" fill="url(#yb)"/>
<ellipse cx="89.6" cy="20.0" rx="1.39" ry="1.47" fill="url(#yb)"/>
<ellipse cx="94.9" cy="16.0" rx="1.39" ry="1.47" fill="url(#yb)"/>
<ellipse cx="111.3" cy="16.0" rx="1.70" ry="3.08" fill="url(#yb)"/>
<ellipse cx="119.6" cy="18.0" rx="1.45" ry="1.45" fill="url(#yb)"/>
<ellipse cx="117.3" cy="23.3" rx="2.16" ry="2.29" fill="url(#yb)"/>
<ellipse cx="130.7" cy="12.7" rx="1.70" ry="3.08" fill="url(#yb)"/>
<ellipse cx="138.3" cy="12.4" rx="1.39" ry="1.47" fill="url(#yb)"/>
<ellipse cx="142.9" cy="14.3" rx="1.44" ry="2.61" fill="url(#yb)"/>
<ellipse cx="126.9" cy="26.0" rx="1.54" ry="1.63" fill="url(#yb)"/>
<ellipse cx="130.7" cy="27.6" rx="1.23" ry="1.31" fill="url(#yb)"/>
<ellipse cx="139.6" cy="32.7" rx="1.70" ry="3.08" fill="url(#yb)"/>
<ellipse cx="4.9" cy="34.7" rx="1.69" ry="1.80" fill="url(#yb)"/>
<ellipse cx="8.0" cy="37.7" rx="1.30" ry="1.30" fill="url(#yb)"/>
<ellipse cx="15.7" cy="35.3" rx="1.57" ry="2.84" fill="url(#yb)"/>
<ellipse cx="23.3" cy="32.7" rx="1.44" ry="2.61" fill="url(#yb)"/>
<ellipse cx="28.3" cy="32.0" rx="1.57" ry="2.84" fill="url(#yb)"/>
<ellipse cx="35.3" cy="30.0" rx="1.57" ry="2.84" fill="url(#yb)"/>
<ellipse cx="49.3" cy="30.7" rx="1.39" ry="1.47" fill="url(#yb)"/>
<ellipse cx="55.3" cy="31.6" rx="1.44" ry="2.61" fill="url(#yb)"/>
<ellipse cx="76.7" cy="29.3" rx="2.09" ry="3.79" fill="url(#yb)"/>
<ellipse cx="95.3" cy="30.7" rx="1.30" ry="1.30" fill="url(#yb)"/>
<ellipse cx="99.3" cy="34.0" rx="1.85" ry="1.96" fill="url(#yb)"/>
<ellipse cx="92.7" cy="35.1" rx="1.85" ry="1.96" fill="url(#yb)"/>
<ellipse cx="96.0" cy="40.0" rx="1.35" ry="2.31" fill="url(#yb)"/>
<ellipse cx="83.3" cy="42.7" rx="1.45" ry="1.45" fill="url(#yb)"/>
<ellipse cx="82.7" cy="46.0" rx="1.85" ry="1.96" fill="url(#yb)"/>
<ellipse cx="64.4" cy="40.7" rx="2.23" ry="4.03" fill="url(#yb)"/>
<ellipse cx="25.7" cy="43.3" rx="1.83" ry="3.32" fill="url(#yb)"/>
<ellipse cx="24.0" cy="50.0" rx="1.70" ry="3.08" fill="url(#yb)"/>
<ellipse cx="24.9" cy="46.7" rx="1.60" ry="2.73" fill="url(#yb)"/>
<ellipse cx="13.3" cy="48.0" rx="1.57" ry="2.84" fill="url(#yb)"/>
<ellipse cx="18.0" cy="48.4" rx="1.30" ry="1.30" fill="url(#yb)"/>
<ellipse cx="46.7" cy="50.3" rx="1.30" ry="1.30" fill="url(#yb)"/>
<ellipse cx="48.9" cy="52.7" rx="1.70" ry="3.08" fill="url(#yb)"/>
<ellipse cx="8.7" cy="56.7" rx="1.16" ry="1.16" fill="url(#yb)"/>
<ellipse cx="31.3" cy="58.7" rx="1.54" ry="1.63" fill="url(#yb)"/>
<ellipse cx="36.4" cy="60.0" rx="1.31" ry="2.37" fill="url(#yb)"/>
<ellipse cx="77.3" cy="58.0" rx="2.23" ry="4.03" fill="url(#yb)"/>
<ellipse cx="64.7" cy="62.7" rx="2.16" ry="2.29" fill="url(#yb)"/>
<ellipse cx="68.0" cy="66.7" rx="2.31" ry="2.45" fill="url(#yb)"/>
<ellipse cx="100.0" cy="56.7" rx="2.23" ry="4.03" fill="url(#yb)"/>
<ellipse cx="108.7" cy="44.7" rx="2.23" ry="4.03" fill="url(#yb)"/>
<ellipse cx="112.7" cy="46.7" rx="2.36" ry="4.26" fill="url(#yb)"/>
<ellipse cx="104.0" cy="48.7" rx="1.16" ry="1.16" fill="url(#yb)"/>
<ellipse cx="121.7" cy="44.7" rx="1.83" ry="3.32" fill="url(#yb)"/>
<ellipse cx="127.3" cy="52.7" rx="1.31" ry="2.37" fill="url(#yb)"/>
<ellipse cx="138.3" cy="53.3" rx="1.83" ry="3.32" fill="url(#yb)"/>
<ellipse cx="134.3" cy="56.7" rx="1.57" ry="2.84" fill="url(#yb)"/>
<ellipse cx="125.3" cy="64.0" rx="1.83" ry="3.32" fill="url(#yb)"/>
<ellipse cx="116.7" cy="63.3" rx="2.23" ry="4.03" fill="url(#yb)"/>
<ellipse cx="104.9" cy="63.3" rx="1.83" ry="3.32" fill="url(#yb)"/>
<ellipse cx="104.0" cy="69.3" rx="1.83" ry="3.32" fill="url(#yb)"/>
<ellipse cx="28.0" cy="66.0" rx="1.57" ry="2.84" fill="url(#yb)"/>
<ellipse cx="19.3" cy="68.3" rx="1.57" ry="2.84" fill="url(#yb)"/>
<ellipse cx="7.3" cy="68.7" rx="1.45" ry="1.45" fill="url(#yb)"/>
<ellipse cx="36.9" cy="72.0" rx="1.23" ry="1.31" fill="url(#yb)"/>
<ellipse cx="56.7" cy="72.7" rx="1.23" ry="1.31" fill="url(#yb)"/>
<ellipse cx="62.7" cy="70.0" rx="1.44" ry="2.61" fill="url(#yb)"/>
<ellipse cx="74.0" cy="73.3" rx="0.87" ry="0.87" fill="url(#yb)"/>
<ellipse cx="141.7" cy="69.3" rx="1.83" ry="3.32" fill="url(#yb)"/>
<ellipse cx="95.3" cy="72.7" rx="0.92" ry="0.98" fill="url(#yb)"/>
<ellipse cx="158.7" cy="8.0" rx="1.57" ry="2.84" fill="url(#yb)"/>
<ellipse cx="153.3" cy="17.7" rx="1.83" ry="3.32" fill="url(#yb)"/>
<ellipse cx="176.0" cy="6.7" rx="1.08" ry="1.14" fill="url(#yb)"/>
<ellipse cx="179.6" cy="10.3" rx="2.16" ry="2.29" fill="url(#yb)"/>
<ellipse cx="184.0" cy="13.7" rx="1.39" ry="1.47" fill="url(#yb)"/>
<ellipse cx="194.7" cy="8.0" rx="1.18" ry="2.13" fill="url(#yb)"/>
<ellipse cx="171.3" cy="16.9" rx="1.44" ry="2.61" fill="url(#yb)"/>
<ellipse cx="177.3" cy="20.0" rx="1.11" ry="1.89" fill="url(#yb)"/>
<ellipse cx="202.0" cy="14.3" rx="1.01" ry="1.01" fill="url(#yb)"/>
<ellipse cx="198.0" cy="20.0" rx="1.45" ry="1.45" fill="url(#yb)"/>
<ellipse cx="235.1" cy="23.3" rx="1.83" ry="3.32" fill="url(#yb)"/>
<ellipse cx="255.6" cy="26.3" rx="1.23" ry="1.31" fill="url(#yb)"/>
<ellipse cx="252.0" cy="29.7" rx="1.39" ry="1.47" fill="url(#yb)"/>
<ellipse cx="287.6" cy="30.0" rx="1.23" ry="1.31" fill="url(#yb)"/>
<ellipse cx="157.7" cy="24.7" rx="1.16" ry="1.16" fill="url(#yb)"/>
<ellipse cx="163.6" cy="26.0" rx="1.39" ry="1.47" fill="url(#yb)"/>
<ellipse cx="153.3" cy="34.0" rx="3.39" ry="3.59" fill="url(#yb)"/>
<ellipse cx="179.1" cy="30.7" rx="1.18" ry="2.13" fill="url(#yb)"/>
<ellipse cx="208.7" cy="35.3" rx="1.57" ry="2.84" fill="url(#yb)"/>
<ellipse cx="218.0" cy="34.7" rx="1.57" ry="2.84" fill="url(#yb)"/>
<ellipse cx="223.3" cy="36.0" rx="1.83" ry="3.32" fill="url(#yb)"/>
<ellipse cx="228.4" cy="33.3" rx="1.57" ry="2.84" fill="url(#yb)"/>
<ellipse cx="237.3" cy="32.7" rx="1.57" ry="2.84" fill="url(#yb)"/>
<ellipse cx="243.1" cy="33.7" rx="2.16" ry="2.29" fill="url(#yb)"/>
<ellipse cx="264.0" cy="34.7" rx="1.57" ry="2.84" fill="url(#yb)"/>
<ellipse cx="276.7" cy="35.3" rx="1.16" ry="1.16" fill="url(#yb)"/>
<ellipse cx="283.3" cy="36.0" rx="1.54" ry="1.63" fill="url(#yb)"/>
<ellipse cx="173.3" cy="40.9" rx="2.62" ry="2.78" fill="url(#yb)"/>
<ellipse cx="178.0" cy="42.3" rx="1.39" ry="1.47" fill="url(#yb)"/>
<ellipse cx="165.7" cy="40.9" rx="1.39" ry="1.47" fill="url(#yb)"/>
<ellipse cx="164.0" cy="45.3" rx="1.39" ry="1.47" fill="url(#yb)"/>
<ellipse cx="187.6" cy="42.3" rx="2.16" ry="2.29" fill="url(#yb)"/>
<ellipse cx="195.1" cy="44.0" rx="1.57" ry="2.84" fill="url(#yb)"/>
<ellipse cx="194.3" cy="48.0" rx="1.16" ry="1.16" fill="url(#yb)"/>
<ellipse cx="202.7" cy="44.0" rx="1.70" ry="3.08" fill="url(#yb)"/>
<ellipse cx="211.6" cy="42.0" rx="1.83" ry="3.32" fill="url(#yb)"/>
<ellipse cx="151.3" cy="46.7" rx="1.57" ry="2.84" fill="url(#yb)"/>
<ellipse cx="156.0" cy="45.7" rx="1.31" ry="2.37" fill="url(#yb)"/>
<ellipse cx="147.6" cy="49.3" rx="1.57" ry="2.84" fill="url(#yb)"/>
<ellipse cx="160.7" cy="48.4" rx="1.16" ry="1.16" fill="url(#yb)"/>
<ellipse cx="158.7" cy="53.7" rx="1.54" ry="1.63" fill="url(#yb)"/>
<ellipse cx="163.1" cy="52.4" rx="1.18" ry="2.13" fill="url(#yb)"/>
<ellipse cx="244.7" cy="46.7" rx="1.11" ry="1.89" fill="url(#yb)"/>
<ellipse cx="234.0" cy="48.9" rx="1.39" ry="1.47" fill="url(#yb)"/>
<ellipse cx="218.0" cy="54.0" rx="1.44" ry="2.61" fill="url(#yb)"/>
<ellipse cx="233.3" cy="59.6" rx="2.93" ry="3.10" fill="url(#yb)"/>
<ellipse cx="256.7" cy="54.3" rx="1.44" ry="2.61" fill="url(#yb)"/>
<ellipse cx="198.3" cy="60.4" rx="1.83" ry="3.32" fill="url(#yb)"/>
<ellipse cx="275.1" cy="59.3" rx="1.23" ry="1.31" fill="url(#yb)"/>
<ellipse cx="280.9" cy="59.1" rx="1.39" ry="1.47" fill="url(#yb)"/>
<ellipse cx="219.1" cy="63.3" rx="1.57" ry="2.84" fill="url(#yb)"/>
<ellipse cx="207.1" cy="67.1" rx="1.57" ry="2.84" fill="url(#yb)"/>
<ellipse cx="195.1" cy="66.0" rx="1.83" ry="3.32" fill="url(#yb)"/>
<ellipse cx="199.6" cy="67.6" rx="1.01" ry="1.01" fill="url(#yb)"/>
<ellipse cx="246.7" cy="66.7" rx="1.18" ry="2.13" fill="url(#yb)"/>
<ellipse cx="267.1" cy="66.0" rx="1.83" ry="3.32" fill="url(#yb)"/>
<ellipse cx="181.7" cy="69.3" rx="2.36" ry="4.26" fill="url(#yb)"/>
<ellipse cx="152.0" cy="70.0" rx="1.54" ry="1.63" fill="url(#yb)"/>
<ellipse cx="158.0" cy="70.7" rx="1.18" ry="2.13" fill="url(#yb)"/>
<ellipse cx="162.3" cy="71.3" rx="1.39" ry="1.47" fill="url(#yb)"/>
<ellipse cx="148.4" cy="72.0" rx="1.01" ry="1.01" fill="url(#yb)"/>
<ellipse cx="205.3" cy="72.7" rx="1.01" ry="1.01" fill="url(#yb)"/>
<ellipse cx="36.9" cy="75.3" rx="1.39" ry="1.47" fill="url(#yb)"/>
<ellipse cx="51.3" cy="75.1" rx="1.08" ry="1.14" fill="url(#yb)"/>
<ellipse cx="74.0" cy="75.3" rx="1.44" ry="2.61" fill="url(#yb)"/>
<ellipse cx="70.4" cy="77.7" rx="1.44" ry="2.61" fill="url(#yb)"/>
<ellipse cx="78.3" cy="77.7" rx="1.57" ry="2.84" fill="url(#yb)"/>
<ellipse cx="90.0" cy="79.3" rx="1.83" ry="3.32" fill="url(#yb)"/>
<ellipse cx="96.0" cy="76.0" rx="1.57" ry="2.84" fill="url(#yb)"/>
<ellipse cx="47.1" cy="80.7" rx="1.39" ry="1.47" fill="url(#yb)"/>
<ellipse cx="8.0" cy="83.1" rx="1.57" ry="2.84" fill="url(#yb)"/>
<ellipse cx="66.3" cy="84.4" rx="1.39" ry="1.47" fill="url(#yb)"/>
<ellipse cx="72.4" cy="83.6" rx="1.57" ry="2.84" fill="url(#yb)"/>
<ellipse cx="101.3" cy="84.7" rx="2.23" ry="4.03" fill="url(#yb)"/>
<ellipse cx="130.7" cy="80.0" rx="1.70" ry="3.08" fill="url(#yb)"/>
<ellipse cx="139.3" cy="89.3" rx="1.23" ry="1.31" fill="url(#yb)"/>
<ellipse cx="128.0" cy="89.3" rx="1.44" ry="2.61" fill="url(#yb)"/>
<ellipse cx="134.0" cy="92.0" rx="2.00" ry="2.12" fill="url(#yb)"/>
<ellipse cx="136.4" cy="98.0" rx="2.17" ry="2.17" fill="url(#yb)"/>
<ellipse cx="54.9" cy="88.0" rx="1.83" ry="3.32" fill="url(#yb)"/>
<ellipse cx="12.9" cy="90.3" rx="1.44" ry="2.61" fill="url(#yb)"/>
<ellipse cx="22.9" cy="90.3" rx="1.83" ry="3.32" fill="url(#yb)"/>
<ellipse cx="30.7" cy="95.1" rx="2.46" ry="2.61" fill="url(#yb)"/>
<ellipse cx="36.9" cy="94.0" rx="1.31" ry="2.37" fill="url(#yb)"/>
<ellipse cx="41.6" cy="98.3" rx="1.54" ry="1.63" fill="url(#yb)"/>
<ellipse cx="52.7" cy="98.0" rx="1.70" ry="3.08" fill="url(#yb)"/>
<ellipse cx="77.1" cy="92.7" rx="1.30" ry="1.30" fill="url(#yb)"/>
<ellipse cx="107.1" cy="96.9" rx="2.23" ry="4.03" fill="url(#yb)"/>
<ellipse cx="114.0" cy="98.0" rx="1.83" ry="3.32" fill="url(#yb)"/>
<ellipse cx="120.4" cy="96.0" rx="1.31" ry="2.37" fill="url(#yb)"/>
<ellipse cx="117.7" cy="104.7" rx="1.30" ry="1.30" fill="url(#yb)"/>
<ellipse cx="58.0" cy="103.6" rx="1.96" ry="3.55" fill="url(#yb)"/>
<ellipse cx="6.3" cy="99.3" rx="1.57" ry="2.84" fill="url(#yb)"/>
<ellipse cx="6.7" cy="106.0" rx="1.96" ry="3.55" fill="url(#yb)"/>
<ellipse cx="7.6" cy="115.3" rx="1.83" ry="3.32" fill="url(#yb)"/>
<ellipse cx="42.7" cy="108.7" rx="1.31" ry="2.37" fill="url(#yb)"/>
<ellipse cx="47.1" cy="107.3" rx="1.23" ry="1.31" fill="url(#yb)"/>
<ellipse cx="79.3" cy="106.0" rx="1.85" ry="1.96" fill="url(#yb)"/>
<ellipse cx="72.4" cy="107.6" rx="1.44" ry="2.61" fill="url(#yb)"/>
<ellipse cx="90.4" cy="104.9" rx="1.54" ry="1.63" fill="url(#yb)"/>
<ellipse cx="95.1" cy="107.6" rx="3.08" ry="3.27" fill="url(#yb)"/>
<ellipse cx="64.9" cy="111.1" rx="2.36" ry="4.26" fill="url(#yb)"/>
<ellipse cx="121.6" cy="110.0" rx="1.16" ry="1.16" fill="url(#yb)"/>
<ellipse cx="138.7" cy="114.0" rx="2.09" ry="3.79" fill="url(#yb)"/>
<ellipse cx="124.9" cy="116.7" rx="1.44" ry="2.61" fill="url(#yb)"/>
<ellipse cx="29.7" cy="116.7" rx="1.70" ry="3.08" fill="url(#yb)"/>
<ellipse cx="44.0" cy="118.7" rx="1.57" ry="2.84" fill="url(#yb)"/>
<ellipse cx="49.7" cy="120.7" rx="1.54" ry="1.63" fill="url(#yb)"/>
<ellipse cx="26.7" cy="121.3" rx="0.87" ry="0.87" fill="url(#yb)"/>
<ellipse cx="21.6" cy="120.7" rx="2.16" ry="2.29" fill="url(#yb)"/>
<ellipse cx="14.3" cy="121.3" rx="2.36" ry="4.26" fill="url(#yb)"/>
<ellipse cx="13.3" cy="126.7" rx="1.85" ry="1.96" fill="url(#yb)"/>
<ellipse cx="18.3" cy="124.7" rx="1.18" ry="2.13" fill="url(#yb)"/>
<ellipse cx="53.3" cy="124.9" rx="1.45" ry="1.45" fill="url(#yb)"/>
<ellipse cx="78.9" cy="124.9" rx="1.57" ry="2.84" fill="url(#yb)"/>
<ellipse cx="94.9" cy="122.3" rx="1.96" ry="3.55" fill="url(#yb)"/>
<ellipse cx="102.9" cy="124.0" rx="2.23" ry="4.03" fill="url(#yb)"/>
<ellipse cx="111.6" cy="123.6" rx="1.54" ry="1.63" fill="url(#yb)"/>
<ellipse cx="116.7" cy="120.4" rx="1.57" ry="2.84" fill="url(#yb)"/>
<ellipse cx="134.0" cy="120.9" rx="1.54" ry="1.63" fill="url(#yb)"/>
<ellipse cx="136.7" cy="128.4" rx="1.54" ry="1.63" fill="url(#yb)"/>
<ellipse cx="139.1" cy="135.1" rx="1.54" ry="1.63" fill="url(#yb)"/>
<ellipse cx="133.3" cy="136.0" rx="1.23" ry="1.31" fill="url(#yb)"/>
<ellipse cx="26.4" cy="132.0" rx="1.96" ry="3.55" fill="url(#yb)"/>
<ellipse cx="37.3" cy="132.4" rx="2.62" ry="4.74" fill="url(#yb)"/>
<ellipse cx="56.0" cy="139.3" rx="1.96" ry="3.55" fill="url(#yb)"/>
<ellipse cx="64.3" cy="138.0" rx="1.57" ry="2.84" fill="url(#yb)"/>
<ellipse cx="70.4" cy="139.3" rx="2.46" ry="2.61" fill="url(#yb)"/>
<ellipse cx="82.9" cy="138.7" rx="1.70" ry="3.08" fill="url(#yb)"/>
<ellipse cx="112.0" cy="138.3" rx="1.96" ry="3.55" fill="url(#yb)"/>
<ellipse cx="147.6" cy="76.9" rx="1.85" ry="1.96" fill="url(#yb)"/>
<ellipse cx="182.0" cy="75.1" rx="1.54" ry="1.63" fill="url(#yb)"/>
<ellipse cx="205.3" cy="75.6" rx="1.54" ry="1.63" fill="url(#yb)"/>
<ellipse cx="202.3" cy="81.3" rx="1.23" ry="1.31" fill="url(#yb)"/>
<ellipse cx="191.3" cy="85.7" rx="1.30" ry="1.30" fill="url(#yb)"/>
<ellipse cx="209.7" cy="89.3" rx="1.83" ry="3.32" fill="url(#yb)"/>
<ellipse cx="224.4" cy="80.0" rx="1.70" ry="3.08" fill="url(#yb)"/>
<ellipse cx="223.1" cy="85.3" rx="1.83" ry="3.32" fill="url(#yb)"/>
<ellipse cx="221.5" cy="90.7" rx="1.70" ry="3.08" fill="url(#yb)"/>
<ellipse cx="232.7" cy="81.7" rx="1.57" ry="2.84" fill="url(#yb)"/>
<ellipse cx="239.3" cy="78.0" rx="1.23" ry="1.31" fill="url(#yb)"/>
<ellipse cx="243.1" cy="81.7" rx="1.23" ry="1.31" fill="url(#yb)"/>
<ellipse cx="248.4" cy="76.4" rx="1.18" ry="2.13" fill="url(#yb)"/>
<ellipse cx="248.9" cy="87.3" rx="1.57" ry="2.84" fill="url(#yb)"/>
<ellipse cx="254.3" cy="88.0" rx="1.39" ry="1.47" fill="url(#yb)"/>
<ellipse cx="258.3" cy="86.3" rx="1.31" ry="2.37" fill="url(#yb)"/>
<ellipse cx="267.6" cy="80.7" rx="1.96" ry="3.55" fill="url(#yb)"/>
<ellipse cx="272.7" cy="79.1" rx="1.23" ry="1.31" fill="url(#yb)"/>
<ellipse cx="278.7" cy="84.0" rx="1.23" ry="1.31" fill="url(#yb)"/>
<ellipse cx="285.3" cy="82.0" rx="1.70" ry="3.08" fill="url(#yb)"/>
<ellipse cx="285.7" cy="86.7" rx="1.70" ry="3.08" fill="url(#yb)"/>
<ellipse cx="160.0" cy="86.7" rx="1.57" ry="2.84" fill="url(#yb)"/>
<ellipse cx="162.3" cy="90.3" rx="1.57" ry="2.84" fill="url(#yb)"/>
<ellipse cx="157.7" cy="94.7" rx="1.85" ry="1.96" fill="url(#yb)"/>
<ellipse cx="151.6" cy="94.7" rx="1.85" ry="1.96" fill="url(#yb)"/>
<ellipse cx="198.3" cy="95.1" rx="1.01" ry="1.01" fill="url(#yb)"/>
<ellipse cx="176.9" cy="96.9" rx="1.23" ry="1.31" fill="url(#yb)"/>
<ellipse cx="173.3" cy="106.0" rx="1.83" ry="3.32" fill="url(#yb)"/>
<ellipse cx="175.3" cy="114.0" rx="1.18" ry="2.13" fill="url(#yb)"/>
<ellipse cx="160.0" cy="104.9" rx="1.57" ry="2.84" fill="url(#yb)"/>
<ellipse cx="166.9" cy="106.3" rx="1.30" ry="1.30" fill="url(#yb)"/>
<ellipse cx="151.3" cy="108.9" rx="1.16" ry="1.16" fill="url(#yb)"/>
<ellipse cx="188.3" cy="103.6" rx="1.96" ry="3.55" fill="url(#yb)"/>
<ellipse cx="194.7" cy="109.3" rx="1.39" ry="1.47" fill="url(#yb)"/>
<ellipse cx="198.7" cy="113.7" rx="1.16" ry="1.16" fill="url(#yb)"/>
<ellipse cx="204.0" cy="102.0" rx="1.54" ry="1.63" fill="url(#yb)"/>
<ellipse cx="206.7" cy="108.4" rx="1.96" ry="3.55" fill="url(#yb)"/>
<ellipse cx="228.4" cy="99.3" rx="1.39" ry="1.47" fill="url(#yb)"/>
<ellipse cx="216.4" cy="108.9" rx="1.35" ry="2.31" fill="url(#yb)"/>
<ellipse cx="219.6" cy="116.9" rx="2.00" ry="2.12" fill="url(#yb)"/>
<ellipse cx="250.3" cy="103.1" rx="1.31" ry="2.37" fill="url(#yb)"/>
<ellipse cx="254.3" cy="102.3" rx="1.57" ry="2.84" fill="url(#yb)"/>
<ellipse cx="254.0" cy="110.0" rx="1.83" ry="3.32" fill="url(#yb)"/>
<ellipse cx="261.3" cy="114.0" rx="1.96" ry="3.55" fill="url(#yb)"/>
<ellipse cx="265.3" cy="118.3" rx="1.83" ry="3.32" fill="url(#yb)"/>
<ellipse cx="272.0" cy="121.3" rx="1.39" ry="1.47" fill="url(#yb)"/>
<ellipse cx="154.3" cy="118.7" rx="1.83" ry="3.32" fill="url(#yb)"/>
<ellipse cx="161.7" cy="123.6" rx="1.01" ry="1.01" fill="url(#yb)"/>
<ellipse cx="150.7" cy="127.6" rx="1.57" ry="2.84" fill="url(#yb)"/>
<ellipse cx="181.3" cy="123.3" rx="1.83" ry="3.32" fill="url(#yb)"/>
<ellipse cx="180.4" cy="127.6" rx="1.23" ry="1.31" fill="url(#yb)"/>
<ellipse cx="173.3" cy="127.3" rx="1.23" ry="1.31" fill="url(#yb)"/>
<ellipse cx="188.7" cy="127.3" rx="1.57" ry="2.84" fill="url(#yb)"/>
<ellipse cx="163.1" cy="132.0" rx="2.03" ry="2.03" fill="url(#yb)"/>
<ellipse cx="152.9" cy="136.0" rx="1.44" ry="2.61" fill="url(#yb)"/>
<ellipse cx="146.7" cy="139.3" rx="1.16" ry="1.16" fill="url(#yb)"/>
<ellipse cx="207.6" cy="123.6" rx="1.54" ry="1.63" fill="url(#yb)"/>
<ellipse cx="210.9" cy="117.3" rx="1.08" ry="1.14" fill="url(#yb)"/>
<ellipse cx="232.0" cy="119.3" rx="1.57" ry="2.84" fill="url(#yb)"/>
<ellipse cx="219.3" cy="126.7" rx="1.83" ry="3.32" fill="url(#yb)"/>
<ellipse cx="220.7" cy="132.0" rx="1.74" ry="1.74" fill="url(#yb)"/>
<ellipse cx="197.3" cy="140.7" rx="1.18" ry="2.13" fill="url(#yb)"/>
<ellipse cx="222.3" cy="142.0" rx="1.54" ry="1.63" fill="url(#yb)"/>
<ellipse cx="230.3" cy="140.9" rx="1.57" ry="2.84" fill="url(#yb)"/>
<ellipse cx="22.4" cy="10.2" rx="2.12" ry="1.52" fill="url(#rd)"/>
<ellipse cx="20.2" cy="14.0" rx="1.61" ry="1.55" fill="url(#rd)"/>
<ellipse cx="24.4" cy="15.2" rx="1.31" ry="1.31" fill="url(#rd)"/>
<ellipse cx="27.6" cy="20.0" rx="2.35" ry="2.35" fill="url(#rd)"/>
<ellipse cx="39.5" cy="16.6" rx="1.25" ry="0.97" fill="url(#rd)"/>
<ellipse cx="38.7" cy="18.9" rx="1.17" ry="0.87" fill="url(#rd)"/>
<ellipse cx="43.9" cy="13.0" rx="1.69" ry="1.44" fill="url(#rd)"/>
<ellipse cx="45.5" cy="15.7" rx="1.70" ry="1.57" fill="url(#rd)"/>
<ellipse cx="55.2" cy="12.9" rx="1.83" ry="1.83" fill="url(#rd)"/>
<ellipse cx="58.8" cy="8.4" rx="1.30" ry="1.15" fill="url(#rd)"/>
<ellipse cx="59.4" cy="10.9" rx="1.30" ry="1.22" fill="url(#rd)"/>
<ellipse cx="73.6" cy="13.7" rx="1.68" ry="1.62" fill="url(#rd)"/>
<ellipse cx="74.4" cy="16.8" rx="1.53" ry="1.68" fill="url(#rd)"/>
<ellipse cx="89.4" cy="20.1" rx="1.18" ry="1.18" fill="url(#rd)"/>
<ellipse cx="94.9" cy="15.9" rx="1.18" ry="1.18" fill="url(#rd)"/>
<ellipse cx="111.8" cy="14.8" rx="1.57" ry="1.20" fill="url(#rd)"/>
<ellipse cx="110.9" cy="17.5" rx="1.39" ry="1.27" fill="url(#rd)"/>
<ellipse cx="117.3" cy="23.3" rx="1.83" ry="1.83" fill="url(#rd)"/>
<ellipse cx="130.0" cy="11.3" rx="1.31" ry="1.45" fill="url(#rd)"/>
<ellipse cx="131.4" cy="14.2" rx="1.52" ry="1.30" fill="url(#rd)"/>
<ellipse cx="138.4" cy="12.3" rx="1.18" ry="1.18" fill="url(#rd)"/>
<ellipse cx="142.0" cy="13.3" rx="1.28" ry="0.93" fill="url(#rd)"/>
<ellipse cx="143.9" cy="15.3" rx="1.03" ry="0.94" fill="url(#rd)"/>
<ellipse cx="127.0" cy="25.8" rx="1.31" ry="1.31" fill="url(#rd)"/>
<ellipse cx="130.8" cy="27.4" rx="1.05" ry="1.05" fill="url(#rd)"/>
<ellipse cx="139.4" cy="31.5" rx="1.55" ry="1.40" fill="url(#rd)"/>
<ellipse cx="139.8" cy="34.2" rx="1.40" ry="1.37" fill="url(#rd)"/>
<ellipse cx="4.8" cy="34.8" rx="1.44" ry="1.44" fill="url(#rd)"/>
<ellipse cx="15.0" cy="33.9" rx="1.36" ry="1.13" fill="url(#rd)"/>
<ellipse cx="16.5" cy="36.6" rx="1.15" ry="1.37" fill="url(#rd)"/>
<ellipse cx="24.2" cy="31.6" rx="1.08" ry="0.94" fill="url(#rd)"/>
<ellipse cx="22.4" cy="33.7" rx="1.17" ry="1.23" fill="url(#rd)"/>
<ellipse cx="28.1" cy="30.7" rx="1.27" ry="1.27" fill="url(#rd)"/>
<ellipse cx="28.4" cy="33.3" rx="1.17" ry="1.27" fill="url(#rd)"/>
<ellipse cx="35.7" cy="28.8" rx="1.18" ry="1.34" fill="url(#rd)"/>
<ellipse cx="35.0" cy="31.4" rx="1.15" ry="1.11" fill="url(#rd)"/>
<ellipse cx="49.5" cy="30.8" rx="1.18" ry="1.18" fill="url(#rd)"/>
<ellipse cx="54.9" cy="30.4" rx="1.11" ry="0.94" fill="url(#rd)"/>
<ellipse cx="55.8" cy="32.7" rx="1.35" ry="0.97" fill="url(#rd)"/>
<ellipse cx="76.4" cy="28.1" rx="1.95" ry="1.75" fill="url(#rd)"/>
<ellipse cx="76.9" cy="31.2" rx="1.80" ry="1.52" fill="url(#rd)"/>
<ellipse cx="99.4" cy="34.2" rx="1.57" ry="1.57" fill="url(#rd)"/>
<ellipse cx="92.6" cy="34.9" rx="1.57" ry="1.57" fill="url(#rd)"/>
<ellipse cx="82.8" cy="45.9" rx="1.57" ry="1.57" fill="url(#rd)"/>
<ellipse cx="63.2" cy="39.4" rx="1.72" ry="1.63" fill="url(#rd)"/>
<ellipse cx="65.6" cy="42.7" rx="1.70" ry="1.44" fill="url(#rd)"/>
<ellipse cx="24.8" cy="41.8" rx="1.41" ry="1.27" fill="url(#rd)"/>
<ellipse cx="26.7" cy="44.4" rx="1.60" ry="1.30" fill="url(#rd)"/>
<ellipse cx="24.7" cy="48.9" rx="1.44" ry="1.13" fill="url(#rd)"/>
<ellipse cx="23.3" cy="51.5" rx="1.45" ry="1.07" fill="url(#rd)"/>
<ellipse cx="13.1" cy="46.9" rx="1.41" ry="1.28" fill="url(#rd)"/>
<ellipse cx="13.5" cy="49.2" rx="1.42" ry="1.26" fill="url(#rd)"/>
<ellipse cx="48.6" cy="51.7" rx="1.38" ry="1.47" fill="url(#rd)"/>
<ellipse cx="49.3" cy="54.1" rx="1.27" ry="1.41" fill="url(#rd)"/>
<ellipse cx="31.4" cy="58.9" rx="1.31" ry="1.31" fill="url(#rd)"/>
<ellipse cx="36.9" cy="58.9" rx="1.05" ry="1.02" fill="url(#rd)"/>
<ellipse cx="35.9" cy="60.8" rx="1.00" ry="0.97" fill="url(#rd)"/>
<ellipse cx="77.4" cy="56.1" rx="1.95" ry="1.94" fill="url(#rd)"/>
<ellipse cx="77.3" cy="59.4" rx="1.91" ry="1.45" fill="url(#rd)"/>
<ellipse cx="64.8" cy="62.8" rx="1.83" ry="1.83" fill="url(#rd)"/>
<ellipse cx="67.8" cy="66.8" rx="1.96" ry="1.96" fill="url(#rd)"/>
<ellipse cx="99.1" cy="55.0" rx="1.62" ry="1.59" fill="url(#rd)"/>
<ellipse cx="100.9" cy="58.3" rx="1.69" ry="1.49" fill="url(#rd)"/>
<ellipse cx="108.0" cy="43.1" rx="1.97" ry="1.85" fill="url(#rd)"/>
<ellipse cx="109.4" cy="46.0" rx="2.12" ry="1.80" fill="url(#rd)"/>
<ellipse cx="111.8" cy="45.0" rx="1.80" ry="1.60" fill="url(#rd)"/>
<ellipse cx="113.6" cy="48.2" rx="2.23" ry="1.74" fill="url(#rd)"/>
<ellipse cx="121.6" cy="43.3" rx="1.35" ry="1.31" fill="url(#rd)"/>
<ellipse cx="121.8" cy="45.8" rx="1.49" ry="1.41" fill="url(#rd)"/>
<ellipse cx="127.1" cy="51.6" rx="1.15" ry="0.92" fill="url(#rd)"/>
<ellipse cx="127.6" cy="53.8" rx="1.10" ry="1.09" fill="url(#rd)"/>
<ellipse cx="138.9" cy="52.2" rx="1.45" ry="1.47" fill="url(#rd)"/>
<ellipse cx="137.6" cy="54.5" rx="1.37" ry="1.53" fill="url(#rd)"/>
<ellipse cx="134.1" cy="55.6" rx="1.22" ry="1.03" fill="url(#rd)"/>
<ellipse cx="134.4" cy="57.8" rx="1.50" ry="1.19" fill="url(#rd)"/>
<ellipse cx="125.1" cy="62.7" rx="1.52" ry="1.57" fill="url(#rd)"/>
<ellipse cx="125.6" cy="65.5" rx="1.50" ry="1.18" fill="url(#rd)"/>
<ellipse cx="116.5" cy="61.8" rx="1.68" ry="1.69" fill="url(#rd)"/>
<ellipse cx="116.8" cy="65.3" rx="2.06" ry="1.58" fill="url(#rd)"/>
<ellipse cx="104.8" cy="62.0" rx="1.41" ry="1.47" fill="url(#rd)"/>
<ellipse cx="105.0" cy="64.8" rx="1.43" ry="1.33" fill="url(#rd)"/>
<ellipse cx="103.0" cy="67.9" rx="1.66" ry="1.44" fill="url(#rd)"/>
<ellipse cx="105.0" cy="70.6" rx="1.73" ry="1.35" fill="url(#rd)"/>
<ellipse cx="27.7" cy="64.7" rx="1.14" ry="0.99" fill="url(#rd)"/>
<ellipse cx="28.3" cy="67.2" rx="1.44" ry="0.99" fill="url(#rd)"/>
<ellipse cx="19.5" cy="67.1" rx="1.50" ry="1.00" fill="url(#rd)"/>
<ellipse cx="19.1" cy="69.3" rx="1.19" ry="1.29" fill="url(#rd)"/>
<ellipse cx="36.8" cy="71.8" rx="1.05" ry="1.05" fill="url(#rd)"/>
<ellipse cx="56.5" cy="72.5" rx="1.05" ry="1.05" fill="url(#rd)"/>
<ellipse cx="63.6" cy="68.9" rx="1.09" ry="1.17" fill="url(#rd)"/>
<ellipse cx="61.7" cy="71.0" rx="1.06" ry="1.21" fill="url(#rd)"/>
<ellipse cx="142.9" cy="67.8" rx="1.42" ry="1.18" fill="url(#rd)"/>
<ellipse cx="140.6" cy="70.6" rx="1.52" ry="1.29" fill="url(#rd)"/>
<ellipse cx="95.3" cy="72.5" rx="0.78" ry="0.78" fill="url(#rd)"/>
<ellipse cx="158.6" cy="6.9" rx="1.39" ry="1.27" fill="url(#rd)"/>
<ellipse cx="158.8" cy="8.9" rx="1.22" ry="1.22" fill="url(#rd)"/>
<ellipse cx="153.8" cy="16.5" rx="1.43" ry="1.22" fill="url(#rd)"/>
<ellipse cx="152.8" cy="19.2" rx="1.54" ry="1.32" fill="url(#rd)"/>
<ellipse cx="176.2" cy="6.4" rx="0.91" ry="0.91" fill="url(#rd)"/>
<ellipse cx="179.4" cy="10.3" rx="1.83" ry="1.83" fill="url(#rd)"/>
<ellipse cx="184.1" cy="13.6" rx="1.18" ry="1.18" fill="url(#rd)"/>
<ellipse cx="195.4" cy="7.1" rx="0.96" ry="0.82" fill="url(#rd)"/>
<ellipse cx="194.0" cy="9.0" rx="1.01" ry="0.86" fill="url(#rd)"/>
<ellipse cx="172.2" cy="15.8" rx="1.27" ry="1.23" fill="url(#rd)"/>
<ellipse cx="170.5" cy="18.1" rx="1.31" ry="1.15" fill="url(#rd)"/>
<ellipse cx="235.6" cy="21.9" rx="1.49" ry="1.45" fill="url(#rd)"/>
<ellipse cx="234.6" cy="25.0" rx="1.59" ry="1.49" fill="url(#rd)"/>
<ellipse cx="255.8" cy="26.5" rx="1.05" ry="1.05" fill="url(#rd)"/>
<ellipse cx="251.9" cy="30.0" rx="1.18" ry="1.18" fill="url(#rd)"/>
<ellipse cx="287.6" cy="29.8" rx="1.05" ry="1.05" fill="url(#rd)"/>
<ellipse cx="163.6" cy="25.9" rx="1.18" ry="1.18" fill="url(#rd)"/>
<ellipse cx="153.2" cy="34.1" rx="2.87" ry="2.87" fill="url(#rd)"/>
<ellipse cx="179.0" cy="29.8" rx="0.88" ry="1.02" fill="url(#rd)"/>
<ellipse cx="179.2" cy="31.7" rx="0.86" ry="1.03" fill="url(#rd)"/>
<ellipse cx="208.7" cy="34.1" rx="1.15" ry="1.16" fill="url(#rd)"/>
<ellipse cx="208.7" cy="36.3" rx="1.27" ry="1.04" fill="url(#rd)"/>
<ellipse cx="218.3" cy="33.8" rx="1.48" ry="1.33" fill="url(#rd)"/>
<ellipse cx="217.7" cy="35.6" rx="1.39" ry="1.04" fill="url(#rd)"/>
<ellipse cx="224.1" cy="34.3" rx="1.44" ry="1.44" fill="url(#rd)"/>
<ellipse cx="222.5" cy="37.2" rx="1.60" ry="1.18" fill="url(#rd)"/>
<ellipse cx="228.6" cy="32.3" rx="1.38" ry="1.08" fill="url(#rd)"/>
<ellipse cx="228.2" cy="34.4" rx="1.39" ry="1.00" fill="url(#rd)"/>
<ellipse cx="237.5" cy="31.4" rx="1.23" ry="1.11" fill="url(#rd)"/>
<ellipse cx="237.1" cy="33.9" rx="1.15" ry="1.37" fill="url(#rd)"/>
<ellipse cx="243.2" cy="33.7" rx="1.83" ry="1.83" fill="url(#rd)"/>
<ellipse cx="263.8" cy="33.4" rx="1.12" ry="1.17" fill="url(#rd)"/>
<ellipse cx="264.2" cy="35.9" rx="1.12" ry="0.99" fill="url(#rd)"/>
<ellipse cx="283.6" cy="35.9" rx="1.31" ry="1.31" fill="url(#rd)"/>
<ellipse cx="173.2" cy="41.1" rx="2.22" ry="2.22" fill="url(#rd)"/>
<ellipse cx="178.0" cy="42.4" rx="1.18" ry="1.18" fill="url(#rd)"/>
<ellipse cx="165.8" cy="41.1" rx="1.18" ry="1.18" fill="url(#rd)"/>
<ellipse cx="164.1" cy="45.4" rx="1.18" ry="1.18" fill="url(#rd)"/>
<ellipse cx="187.6" cy="42.4" rx="1.83" ry="1.83" fill="url(#rd)"/>
<ellipse cx="195.1" cy="42.7" rx="1.32" ry="1.14" fill="url(#rd)"/>
<ellipse cx="195.0" cy="45.2" rx="1.22" ry="0.99" fill="url(#rd)"/>
<ellipse cx="203.3" cy="42.7" rx="1.45" ry="1.20" fill="url(#rd)"/>
<ellipse cx="202.1" cy="45.0" rx="1.59" ry="1.35" fill="url(#rd)"/>
<ellipse cx="211.8" cy="40.4" rx="1.52" ry="1.52" fill="url(#rd)"/>
<ellipse cx="211.4" cy="43.3" rx="1.48" ry="1.22" fill="url(#rd)"/>
<ellipse cx="150.5" cy="45.7" rx="1.41" ry="1.06" fill="url(#rd)"/>
<ellipse cx="152.2" cy="47.9" rx="1.48" ry="1.37" fill="url(#rd)"/>
<ellipse cx="156.9" cy="44.6" rx="1.16" ry="1.13" fill="url(#rd)"/>
<ellipse cx="155.1" cy="46.7" rx="1.12" ry="0.85" fill="url(#rd)"/>
<ellipse cx="146.6" cy="48.3" rx="1.40" ry="1.36" fill="url(#rd)"/>
<ellipse cx="148.6" cy="50.4" rx="1.44" ry="1.00" fill="url(#rd)"/>
<ellipse cx="158.4" cy="54.0" rx="1.31" ry="1.31" fill="url(#rd)"/>
<ellipse cx="163.6" cy="51.5" rx="1.06" ry="0.86" fill="url(#rd)"/>
<ellipse cx="162.5" cy="53.1" rx="1.04" ry="0.97" fill="url(#rd)"/>
<ellipse cx="233.9" cy="49.0" rx="1.18" ry="1.18" fill="url(#rd)"/>
<ellipse cx="218.0" cy="52.8" rx="1.15" ry="1.17" fill="url(#rd)"/>
<ellipse cx="218.0" cy="54.9" rx="1.17" ry="1.13" fill="url(#rd)"/>
<ellipse cx="233.4" cy="59.5" rx="2.48" ry="2.48" fill="url(#rd)"/>
<ellipse cx="256.0" cy="53.0" rx="1.33" ry="0.95" fill="url(#rd)"/>
<ellipse cx="257.3" cy="55.4" rx="1.37" ry="1.02" fill="url(#rd)"/>
<ellipse cx="199.5" cy="59.2" rx="1.56" ry="1.15" fill="url(#rd)"/>
<ellipse cx="197.1" cy="61.5" rx="1.46" ry="1.18" fill="url(#rd)"/>
<ellipse cx="275.3" cy="59.3" rx="1.05" ry="1.05" fill="url(#rd)"/>
<ellipse cx="281.1" cy="59.3" rx="1.18" ry="1.18" fill="url(#rd)"/>
<ellipse cx="218.5" cy="62.3" rx="1.45" ry="1.37" fill="url(#rd)"/>
<ellipse cx="219.7" cy="64.2" rx="1.23" ry="1.07" fill="url(#rd)"/>
<ellipse cx="206.3" cy="65.9" rx="1.15" ry="1.02" fill="url(#rd)"/>
<ellipse cx="207.9" cy="68.1" rx="1.21" ry="1.11" fill="url(#rd)"/>
<ellipse cx="196.1" cy="64.7" rx="1.30" ry="1.54" fill="url(#rd)"/>
<ellipse cx="194.0" cy="67.1" rx="1.33" ry="1.48" fill="url(#rd)"/>
<ellipse cx="246.4" cy="65.8" rx="0.87" ry="0.77" fill="url(#rd)"/>
<ellipse cx="246.9" cy="67.4" rx="1.07" ry="0.90" fill="url(#rd)"/>
<ellipse cx="268.0" cy="64.4" rx="1.56" ry="1.58" fill="url(#rd)"/>
<ellipse cx="266.1" cy="67.6" rx="1.33" ry="1.31" fill="url(#rd)"/>
<ellipse cx="180.4" cy="67.7" rx="1.96" ry="1.55" fill="url(#rd)"/>
<ellipse cx="183.1" cy="71.3" rx="1.74" ry="1.80" fill="url(#rd)"/>
<ellipse cx="151.8" cy="70.2" rx="1.31" ry="1.31" fill="url(#rd)"/>
<ellipse cx="157.2" cy="69.9" rx="0.96" ry="0.96" fill="url(#rd)"/>
<ellipse cx="158.8" cy="71.4" rx="1.03" ry="0.97" fill="url(#rd)"/>
<ellipse cx="162.4" cy="71.4" rx="1.18" ry="1.18" fill="url(#rd)"/>
<ellipse cx="37.0" cy="75.5" rx="1.18" ry="1.18" fill="url(#rd)"/>
<ellipse cx="51.4" cy="75.2" rx="0.91" ry="0.91" fill="url(#rd)"/>
<ellipse cx="74.4" cy="74.0" rx="1.12" ry="1.22" fill="url(#rd)"/>
<ellipse cx="73.6" cy="76.3" rx="1.36" ry="1.19" fill="url(#rd)"/>
<ellipse cx="70.9" cy="76.5" rx="1.17" ry="0.94" fill="url(#rd)"/>
<ellipse cx="69.9" cy="78.8" rx="1.25" ry="1.08" fill="url(#rd)"/>
<ellipse cx="77.5" cy="76.8" rx="1.15" ry="0.98" fill="url(#rd)"/>
<ellipse cx="79.0" cy="78.8" rx="1.26" ry="1.37" fill="url(#rd)"/>
<ellipse cx="89.7" cy="78.2" rx="1.33" ry="1.33" fill="url(#rd)"/>
<ellipse cx="90.3" cy="80.8" rx="1.75" ry="1.24" fill="url(#rd)"/>
<ellipse cx="97.0" cy="74.9" rx="1.29" ry="1.33" fill="url(#rd)"/>
<ellipse cx="95.0" cy="77.2" rx="1.48" ry="1.13" fill="url(#rd)"/>
<ellipse cx="47.0" cy="80.8" rx="1.18" ry="1.18" fill="url(#rd)"/>
<ellipse cx="8.2" cy="81.9" rx="1.15" ry="1.01" fill="url(#rd)"/>
<ellipse cx="7.8" cy="84.5" rx="1.31" ry="1.34" fill="url(#rd)"/>
<ellipse cx="66.3" cy="84.3" rx="1.18" ry="1.18" fill="url(#rd)"/>
<ellipse cx="72.3" cy="82.2" rx="1.50" ry="1.34" fill="url(#rd)"/>
<ellipse cx="72.5" cy="84.9" rx="1.23" ry="1.34" fill="url(#rd)"/>
<ellipse cx="100.5" cy="82.8" rx="1.81" ry="1.75" fill="url(#rd)"/>
<ellipse cx="102.2" cy="86.5" rx="1.68" ry="1.87" fill="url(#rd)"/>
<ellipse cx="129.5" cy="78.8" rx="1.32" ry="1.39" fill="url(#rd)"/>
<ellipse cx="131.8" cy="81.3" rx="1.40" ry="1.26" fill="url(#rd)"/>
<ellipse cx="139.5" cy="89.4" rx="1.05" ry="1.05" fill="url(#rd)"/>
<ellipse cx="128.4" cy="88.4" rx="1.07" ry="1.00" fill="url(#rd)"/>
<ellipse cx="127.6" cy="90.6" rx="1.35" ry="1.03" fill="url(#rd)"/>
<ellipse cx="133.8" cy="92.1" rx="1.70" ry="1.70" fill="url(#rd)"/>
<ellipse cx="56.0" cy="86.7" rx="1.56" ry="1.26" fill="url(#rd)"/>
<ellipse cx="53.9" cy="89.3" rx="1.33" ry="1.56" fill="url(#rd)"/>
<ellipse cx="13.0" cy="89.4" rx="1.38" ry="0.96" fill="url(#rd)"/>
<ellipse cx="12.9" cy="91.3" rx="1.30" ry="0.90" fill="url(#rd)"/>
<ellipse cx="23.1" cy="89.0" rx="1.35" ry="1.53" fill="url(#rd)"/>
<ellipse cx="22.8" cy="91.7" rx="1.49" ry="1.25" fill="url(#rd)"/>
<ellipse cx="30.8" cy="95.1" rx="2.09" ry="2.09" fill="url(#rd)"/>
<ellipse cx="36.1" cy="93.0" rx="0.95" ry="1.14" fill="url(#rd)"/>
<ellipse cx="37.7" cy="95.1" rx="0.99" ry="0.88" fill="url(#rd)"/>
<ellipse cx="41.6" cy="98.3" rx="1.31" ry="1.31" fill="url(#rd)"/>
<ellipse cx="52.9" cy="96.5" rx="1.25" ry="1.45" fill="url(#rd)"/>
<ellipse cx="52.4" cy="99.2" rx="1.36" ry="1.11" fill="url(#rd)"/>
<ellipse cx="106.3" cy="95.0" rx="1.70" ry="1.57" fill="url(#rd)"/>
<ellipse cx="107.8" cy="98.4" rx="1.58" ry="1.67" fill="url(#rd)"/>
<ellipse cx="113.7" cy="96.6" rx="1.40" ry="1.21" fill="url(#rd)"/>
<ellipse cx="114.3" cy="99.7" rx="1.36" ry="1.19" fill="url(#rd)"/>
<ellipse cx="120.6" cy="95.1" rx="1.16" ry="0.87" fill="url(#rd)"/>
<ellipse cx="120.2" cy="96.9" rx="1.13" ry="0.91" fill="url(#rd)"/>
<ellipse cx="58.7" cy="102.0" rx="1.41" ry="1.60" fill="url(#rd)"/>
<ellipse cx="57.3" cy="104.8" rx="1.85" ry="1.27" fill="url(#rd)"/>
<ellipse cx="6.6" cy="98.3" rx="1.41" ry="1.02" fill="url(#rd)"/>
<ellipse cx="5.9" cy="100.7" rx="1.14" ry="1.32" fill="url(#rd)"/>
<ellipse cx="6.8" cy="104.8" rx="1.73" ry="1.60" fill="url(#rd)"/>
<ellipse cx="6.5" cy="107.1" rx="1.70" ry="1.58" fill="url(#rd)"/>
<ellipse cx="6.5" cy="113.9" rx="1.46" ry="1.17" fill="url(#rd)"/>
<ellipse cx="8.7" cy="116.8" rx="1.61" ry="1.26" fill="url(#rd)"/>
<ellipse cx="43.0" cy="107.8" rx="1.11" ry="0.83" fill="url(#rd)"/>
<ellipse cx="42.4" cy="109.7" rx="1.20" ry="0.96" fill="url(#rd)"/>
<ellipse cx="46.8" cy="107.4" rx="1.05" ry="1.05" fill="url(#rd)"/>
<ellipse cx="79.4" cy="106.2" rx="1.57" ry="1.57" fill="url(#rd)"/>
<ellipse cx="72.2" cy="106.3" rx="1.06" ry="1.21" fill="url(#rd)"/>
<ellipse cx="72.6" cy="108.5" rx="1.16" ry="0.99" fill="url(#rd)"/>
<ellipse cx="90.5" cy="105.0" rx="1.31" ry="1.31" fill="url(#rd)"/>
<ellipse cx="95.3" cy="107.5" rx="2.61" ry="2.61" fill="url(#rd)"/>
<ellipse cx="64.6" cy="109.4" rx="1.71" ry="1.89" fill="url(#rd)"/>
<ellipse cx="65.3" cy="113.0" rx="2.14" ry="1.65" fill="url(#rd)"/>
<ellipse cx="139.9" cy="112.1" rx="1.79" ry="1.83" fill="url(#rd)"/>
<ellipse cx="137.4" cy="115.6" rx="1.56" ry="1.66" fill="url(#rd)"/>
<ellipse cx="124.0" cy="115.5" rx="1.20" ry="1.17" fill="url(#rd)"/>
<ellipse cx="125.9" cy="117.5" rx="1.32" ry="0.93" fill="url(#rd)"/>
<ellipse cx="29.0" cy="115.4" rx="1.59" ry="1.38" fill="url(#rd)"/>
<ellipse cx="30.4" cy="117.8" rx="1.48" ry="1.40" fill="url(#rd)"/>
<ellipse cx="43.1" cy="117.3" rx="1.27" ry="1.31" fill="url(#rd)"/>
<ellipse cx="44.9" cy="119.6" rx="1.20" ry="1.33" fill="url(#rd)"/>
<ellipse cx="49.8" cy="120.5" rx="1.31" ry="1.31" fill="url(#rd)"/>
<ellipse cx="21.7" cy="120.7" rx="1.83" ry="1.83" fill="url(#rd)"/>
<ellipse cx="13.7" cy="119.7" rx="2.21" ry="1.78" fill="url(#rd)"/>
<ellipse cx="14.8" cy="123.3" rx="2.25" ry="1.54" fill="url(#rd)"/>
<ellipse cx="13.5" cy="126.6" rx="1.57" ry="1.57" fill="url(#rd)"/>
<ellipse cx="18.0" cy="123.7" rx="1.04" ry="0.90" fill="url(#rd)"/>
<ellipse cx="18.6" cy="125.4" rx="0.90" ry="0.86" fill="url(#rd)"/>
<ellipse cx="79.0" cy="124.0" rx="1.24" ry="1.22" fill="url(#rd)"/>
<ellipse cx="78.9" cy="126.1" rx="1.29" ry="0.98" fill="url(#rd)"/>
<ellipse cx="96.0" cy="121.1" rx="1.83" ry="1.27" fill="url(#rd)"/>
<ellipse cx="93.8" cy="123.6" rx="1.70" ry="1.32" fill="url(#rd)"/>
<ellipse cx="104.1" cy="122.2" rx="1.98" ry="1.87" fill="url(#rd)"/>
<ellipse cx="101.7" cy="125.6" rx="2.04" ry="1.48" fill="url(#rd)"/>
<ellipse cx="111.7" cy="123.4" rx="1.31" ry="1.31" fill="url(#rd)"/>
<ellipse cx="116.8" cy="119.3" rx="1.31" ry="1.26" fill="url(#rd)"/>
<ellipse cx="116.5" cy="121.7" rx="1.19" ry="1.05" fill="url(#rd)"/>
<ellipse cx="133.8" cy="120.8" rx="1.31" ry="1.31" fill="url(#rd)"/>
<ellipse cx="136.7" cy="128.2" rx="1.31" ry="1.31" fill="url(#rd)"/>
<ellipse cx="139.1" cy="135.0" rx="1.31" ry="1.31" fill="url(#rd)"/>
<ellipse cx="133.5" cy="136.0" rx="1.05" ry="1.05" fill="url(#rd)"/>
<ellipse cx="27.3" cy="130.6" rx="1.49" ry="1.28" fill="url(#rd)"/>
<ellipse cx="25.5" cy="133.6" rx="1.77" ry="1.47" fill="url(#rd)"/>
<ellipse cx="38.1" cy="130.4" rx="2.22" ry="1.78" fill="url(#rd)"/>
<ellipse cx="36.6" cy="134.6" rx="1.92" ry="1.88" fill="url(#rd)"/>
<ellipse cx="54.7" cy="138.2" rx="1.69" ry="1.44" fill="url(#rd)"/>
<ellipse cx="57.3" cy="140.7" rx="1.67" ry="1.39" fill="url(#rd)"/>
<ellipse cx="63.3" cy="136.5" rx="1.30" ry="1.04" fill="url(#rd)"/>
<ellipse cx="65.3" cy="139.5" rx="1.50" ry="1.12" fill="url(#rd)"/>
<ellipse cx="70.6" cy="139.5" rx="2.09" ry="2.09" fill="url(#rd)"/>
<ellipse cx="84.0" cy="137.3" rx="1.54" ry="1.08" fill="url(#rd)"/>
<ellipse cx="81.9" cy="140.2" rx="1.28" ry="1.19" fill="url(#rd)"/>
<ellipse cx="111.4" cy="136.5" rx="1.57" ry="1.43" fill="url(#rd)"/>
<ellipse cx="112.6" cy="139.6" rx="1.60" ry="1.38" fill="url(#rd)"/>
<ellipse cx="147.8" cy="77.0" rx="1.57" ry="1.57" fill="url(#rd)"/>
<ellipse cx="182.0" cy="74.9" rx="1.31" ry="1.31" fill="url(#rd)"/>
<ellipse cx="205.6" cy="75.4" rx="1.31" ry="1.31" fill="url(#rd)"/>
<ellipse cx="202.3" cy="81.2" rx="1.05" ry="1.05" fill="url(#rd)"/>
<ellipse cx="209.5" cy="88.1" rx="1.45" ry="1.24" fill="url(#rd)"/>
<ellipse cx="209.9" cy="91.0" rx="1.69" ry="1.15" fill="url(#rd)"/>
<ellipse cx="225.5" cy="78.5" rx="1.31" ry="1.42" fill="url(#rd)"/>
<ellipse cx="223.3" cy="81.4" rx="1.39" ry="1.16" fill="url(#rd)"/>
<ellipse cx="222.6" cy="83.7" rx="1.55" ry="1.33" fill="url(#rd)"/>
<ellipse cx="223.6" cy="86.5" rx="1.32" ry="1.18" fill="url(#rd)"/>
<ellipse cx="221.8" cy="89.3" rx="1.40" ry="1.30" fill="url(#rd)"/>
<ellipse cx="221.2" cy="91.9" rx="1.62" ry="1.39" fill="url(#rd)"/>
<ellipse cx="232.0" cy="80.6" rx="1.38" ry="1.24" fill="url(#rd)"/>
<ellipse cx="233.3" cy="82.7" rx="1.46" ry="1.20" fill="url(#rd)"/>
<ellipse cx="239.3" cy="78.2" rx="1.05" ry="1.05" fill="url(#rd)"/>
<ellipse cx="242.9" cy="81.8" rx="1.05" ry="1.05" fill="url(#rd)"/>
<ellipse cx="248.1" cy="75.7" rx="0.87" ry="0.93" fill="url(#rd)"/>
<ellipse cx="248.7" cy="77.2" rx="1.08" ry="0.80" fill="url(#rd)"/>
<ellipse cx="249.6" cy="85.9" rx="1.36" ry="1.12" fill="url(#rd)"/>
<ellipse cx="248.3" cy="88.5" rx="1.13" ry="0.98" fill="url(#rd)"/>
<ellipse cx="254.2" cy="87.9" rx="1.18" ry="1.18" fill="url(#rd)"/>
<ellipse cx="257.5" cy="85.5" rx="0.97" ry="1.01" fill="url(#rd)"/>
<ellipse cx="259.0" cy="87.4" rx="1.18" ry="0.89" fill="url(#rd)"/>
<ellipse cx="268.6" cy="78.9" rx="1.78" ry="1.71" fill="url(#rd)"/>
<ellipse cx="266.6" cy="81.9" rx="1.80" ry="1.31" fill="url(#rd)"/>
<ellipse cx="272.7" cy="79.3" rx="1.05" ry="1.05" fill="url(#rd)"/>
<ellipse cx="278.6" cy="84.0" rx="1.05" ry="1.05" fill="url(#rd)"/>
<ellipse cx="284.6" cy="80.6" rx="1.60" ry="1.44" fill="url(#rd)"/>
<ellipse cx="286.1" cy="83.5" rx="1.36" ry="1.09" fill="url(#rd)"/>
<ellipse cx="284.9" cy="85.2" rx="1.26" ry="1.34" fill="url(#rd)"/>
<ellipse cx="286.6" cy="88.1" rx="1.37" ry="1.43" fill="url(#rd)"/>
<ellipse cx="161.0" cy="85.2" rx="1.42" ry="1.00" fill="url(#rd)"/>
<ellipse cx="159.0" cy="87.7" rx="1.13" ry="1.28" fill="url(#rd)"/>
<ellipse cx="162.8" cy="89.2" rx="1.34" ry="1.26" fill="url(#rd)"/>
<ellipse cx="161.7" cy="91.6" rx="1.50" ry="1.19" fill="url(#rd)"/>
<ellipse cx="157.9" cy="94.9" rx="1.57" ry="1.57" fill="url(#rd)"/>
<ellipse cx="151.6" cy="94.6" rx="1.57" ry="1.57" fill="url(#rd)"/>
<ellipse cx="176.8" cy="96.9" rx="1.05" ry="1.05" fill="url(#rd)"/>
<ellipse cx="172.7" cy="104.4" rx="1.67" ry="1.37" fill="url(#rd)"/>
<ellipse cx="174.0" cy="107.5" rx="1.52" ry="1.18" fill="url(#rd)"/>
<ellipse cx="176.1" cy="112.9" rx="0.95" ry="0.77" fill="url(#rd)"/>
<ellipse cx="174.6" cy="114.7" rx="1.08" ry="0.98" fill="url(#rd)"/>
<ellipse cx="159.6" cy="103.5" rx="1.33" ry="1.06" fill="url(#rd)"/>
<ellipse cx="160.4" cy="105.8" rx="1.24" ry="1.01" fill="url(#rd)"/>
<ellipse cx="188.4" cy="102.0" rx="1.46" ry="1.71" fill="url(#rd)"/>
<ellipse cx="188.2" cy="105.0" rx="1.61" ry="1.58" fill="url(#rd)"/>
<ellipse cx="194.6" cy="109.2" rx="1.18" ry="1.18" fill="url(#rd)"/>
<ellipse cx="204.1" cy="101.8" rx="1.31" ry="1.31" fill="url(#rd)"/>
<ellipse cx="207.8" cy="106.9" rx="1.85" ry="1.39" fill="url(#rd)"/>
<ellipse cx="205.5" cy="110.0" rx="1.83" ry="1.31" fill="url(#rd)"/>
<ellipse cx="228.6" cy="99.4" rx="1.18" ry="1.18" fill="url(#rd)"/>
<ellipse cx="219.7" cy="116.8" rx="1.70" ry="1.70" fill="url(#rd)"/>
<ellipse cx="249.5" cy="102.1" rx="1.19" ry="1.03" fill="url(#rd)"/>
<ellipse cx="251.0" cy="104.3" rx="1.12" ry="1.08" fill="url(#rd)"/>
<ellipse cx="254.3" cy="100.9" rx="1.49" ry="1.33" fill="url(#rd)"/>
<ellipse cx="254.2" cy="103.3" rx="1.22" ry="1.09" fill="url(#rd)"/>
<ellipse cx="255.0" cy="108.6" rx="1.39" ry="1.60" fill="url(#rd)"/>
<ellipse cx="253.0" cy="111.3" rx="1.53" ry="1.20" fill="url(#rd)"/>
<ellipse cx="261.1" cy="112.5" rx="1.71" ry="1.26" fill="url(#rd)"/>
<ellipse cx="261.6" cy="115.5" rx="1.53" ry="1.42" fill="url(#rd)"/>
<ellipse cx="265.0" cy="116.8" rx="1.44" ry="1.39" fill="url(#rd)"/>
<ellipse cx="265.6" cy="119.9" rx="1.48" ry="1.59" fill="url(#rd)"/>
<ellipse cx="272.0" cy="121.1" rx="1.18" ry="1.18" fill="url(#rd)"/>
<ellipse cx="154.7" cy="117.6" rx="1.35" ry="1.15" fill="url(#rd)"/>
<ellipse cx="153.8" cy="120.0" rx="1.74" ry="1.58" fill="url(#rd)"/>
<ellipse cx="150.3" cy="126.6" rx="1.28" ry="1.27" fill="url(#rd)"/>
<ellipse cx="151.1" cy="128.9" rx="1.49" ry="1.00" fill="url(#rd)"/>
<ellipse cx="181.3" cy="122.0" rx="1.31" ry="1.60" fill="url(#rd)"/>
<ellipse cx="181.4" cy="124.4" rx="1.49" ry="1.44" fill="url(#rd)"/>
<ellipse cx="180.6" cy="127.6" rx="1.05" ry="1.05" fill="url(#rd)"/>
<ellipse cx="173.5" cy="127.1" rx="1.05" ry="1.05" fill="url(#rd)"/>
<ellipse cx="188.2" cy="126.3" rx="1.21" ry="1.06" fill="url(#rd)"/>
<ellipse cx="189.2" cy="128.8" rx="1.40" ry="1.12" fill="url(#rd)"/>
<ellipse cx="153.0" cy="134.7" rx="1.31" ry="1.21" fill="url(#rd)"/>
<ellipse cx="152.9" cy="137.0" rx="1.03" ry="0.95" fill="url(#rd)"/>
<ellipse cx="207.7" cy="123.7" rx="1.31" ry="1.31" fill="url(#rd)"/>
<ellipse cx="210.8" cy="117.6" rx="0.91" ry="0.91" fill="url(#rd)"/>
<ellipse cx="232.5" cy="117.9" rx="1.42" ry="1.36" fill="url(#rd)"/>
<ellipse cx="231.5" cy="120.5" rx="1.15" ry="1.21" fill="url(#rd)"/>
<ellipse cx="219.7" cy="125.4" rx="1.37" ry="1.32" fill="url(#rd)"/>
<ellipse cx="219.0" cy="128.3" rx="1.44" ry="1.53" fill="url(#rd)"/>
<ellipse cx="196.8" cy="139.7" rx="0.94" ry="0.88" fill="url(#rd)"/>
<ellipse cx="197.9" cy="141.5" rx="1.10" ry="0.96" fill="url(#rd)"/>
<ellipse cx="222.4" cy="142.1" rx="1.31" ry="1.31" fill="url(#rd)"/>
<ellipse cx="229.4" cy="139.8" rx="1.16" ry="1.34" fill="url(#rd)"/>
<ellipse cx="231.1" cy="142.4" rx="1.38" ry="1.04" fill="url(#rd)"/>
</g></g>
<polygon points="3.6,73.0 30.0,73.6 30.9,75.0 30.2,76.4 8.0,76.2 3.6,75.3" fill="#fff" stroke="#fff" stroke-width="0.5" stroke-linejoin="round"/>
<rect x="3.0" y="145.0" width="285.9" height="2.0" fill="#d2d2d2"/>
<clipPath id="ka2"><rect x="3.0" y="146.6" width="285.9" height="142.0"/></clipPath>
<g clip-path="url(#ka2)">
<rect x="1.0" y="144.6" width="289.9" height="146.0" fill="#8a8a8a"/>
<g filter="url(#jag)">
<polygon points="2.0,175.7 10.0,177.7 18.0,175.7 26.0,171.7 31.3,169.0 39.3,175.7 46.0,185.0 48.7,195.7 51.3,203.7 46.0,211.7 44.7,219.7 2.0,219.7" fill="#c2c2c2"/>
<polygon points="2.0,178.3 14.0,179.0 16.7,185.0 12.7,190.3 2.0,189.7" fill="#a8a8a8"/>
<polygon points="2.0,193.0 14.0,191.7 20.0,201.0 19.3,207.7 15.3,213.0 2.0,213.7" fill="#aeaeae"/>
<polygon points="20.7,175.0 31.3,169.7 39.3,175.9 46.0,185.0 48.7,195.7 50.7,203.7 46.0,211.7 36.7,207.7 28.7,198.3 22.0,189.0 18.0,182.3" fill="#d0d0d0"/>
<polygon points="33.3,190.3 40.0,189.0 40.7,195.7 35.3,197.7" fill="#b4b4b4"/>
<polygon points="14.0,185.0 19.6,186.3 18.0,190.6 14.7,189.7" fill="#777777"/>
<polygon points="28.4,199.4 32.9,200.7 30.3,203.9" fill="#6a6a6a"/>
<polygon points="2.0,145.0 26.0,145.0 22.0,157.0 28.7,163.7 31.3,169.0 26.0,171.7 18.0,175.7 10.0,177.7 2.0,177.0" fill="#6a6a6a"/>
<polygon points="26.0,145.0 55.3,145.0 59.3,153.0 55.3,155.7 48.7,154.3 44.7,158.3 38.0,157.0 32.7,159.7 28.7,163.7 22.0,157.0" fill="#c8c8c8"/>
<polygon points="55.3,145.0 88.0,145.0 90.0,155.7 92.7,169.0 95.3,174.6 87.3,179.9 82.0,185.0 79.3,195.7 74.0,203.7 66.0,209.0 60.7,213.0 55.3,216.7 48.7,215.9 46.0,211.7 51.3,203.7 48.7,195.7 46.0,185.0 39.3,175.7 31.3,169.0 28.7,163.7 32.7,159.7 38.0,157.0 44.7,158.3 48.7,154.3 55.3,155.7 59.3,153.0" fill="#555555"/>
<polygon points="69.7,155.7 75.6,155.4 76.9,167.7 72.9,170.6 70.0,165.0" fill="#e2e2e2"/>
<polygon points="41.7,168.7 44.9,169.1 44.7,172.6 42.1,172.3" fill="#e4e4e4"/>
<polygon points="49.1,168.7 53.6,169.1 53.3,173.9 49.5,173.7" fill="#e4e4e4"/>
<polygon points="57.7,179.4 60.9,179.8 60.7,182.6 58.1,182.3" fill="#e4e4e4"/>
<polygon points="85.1,160.7 88.3,161.1 88.0,163.9 85.5,163.7" fill="#e4e4e4"/>
<polygon points="57.7,203.4 60.7,203.8 60.4,209.3 58.1,209.0" fill="#e4e4e4"/>
<polygon points="87.3,145.0 125.3,145.0 122.0,155.7 118.0,158.3 108.7,157.0 99.3,158.3 94.0,159.9 90.0,155.7" fill="#c0c0c0"/>
<polygon points="94.0,159.9 99.3,158.3 108.7,157.0 118.0,158.3 122.0,167.7 127.6,177.0 122.0,185.0 116.7,189.3 106.0,186.6 98.0,183.9 95.3,174.6 92.7,169.0" fill="#828282"/>
<polygon points="122.0,145.0 148.7,145.0 148.7,173.7 146.0,173.3 127.3,177.0 122.0,167.7 118.0,158.3 122.0,155.7" fill="#d4d4d4"/>
<polygon points="119.3,157.3 127.3,151.4 130.3,155.7 124.9,165.3" fill="#555555"/>
<polygon points="128.7,162.3 136.9,159.4 135.6,166.3 130.0,167.9" fill="#555555"/>
<polygon points="136.4,153.0 142.3,151.4 140.9,158.3" fill="#555555"/>
<polygon points="140.7,167.7 146.7,162.1 146.7,173.3 142.0,174.6" fill="#555555"/>
<polygon points="95.3,174.6 98.0,183.9 100.7,190.3 99.3,198.3 102.0,205.0 100.7,210.3 95.3,219.7 42.0,219.7 48.7,215.9 55.3,216.7 60.7,213.0 66.0,209.0 74.0,203.7 79.3,195.7 82.0,185.0 87.3,179.9" fill="#cccccc"/>
<polygon points="98.0,183.9 106.0,186.6 116.7,189.3 122.0,185.0 127.6,177.0 146.0,173.3 148.7,173.7 148.7,192.3 135.3,198.3 130.0,206.3 122.0,207.7 116.7,205.0 111.3,209.0 103.3,207.7 102.0,205.0 99.3,198.3 100.7,190.3" fill="#d0d0d0"/>
<polygon points="148.7,192.3 135.3,198.3 130.0,206.3 122.0,207.7 116.7,205.0 111.3,209.0 103.3,207.7 100.7,210.3 95.3,219.7 148.7,219.7" fill="#646464"/>
<polygon points="19.3,207.7 29.3,219.7 15.3,219.7 15.3,213.0" fill="#5a5a5a"/>
<polygon points="143.3,145.0 155.3,145.0 154.0,158.3 158.0,165.0 163.3,167.9 162.0,171.7 152.7,171.7 146.0,163.7 143.3,163.7" fill="#c0c0c0"/>
<polygon points="145.3,154.3 150.7,153.0 152.0,158.3 147.3,163.7 145.3,162.3" fill="#585858"/>
<polygon points="154.0,145.0 178.7,145.0 175.3,153.0 170.0,162.3 163.3,167.9 158.0,165.0 154.0,158.3" fill="#a2a2a2"/>
<polygon points="178.0,145.0 197.3,145.0 196.7,149.0 199.3,158.3 204.7,169.0 210.0,179.9 199.3,185.3 190.0,183.9 183.3,185.3 175.3,183.9 164.7,182.6 162.0,171.7 163.3,167.9 170.0,162.3 175.3,153.0" fill="#7a7a7a"/>
<polygon points="196.7,145.0 226.7,145.0 222.0,154.3 218.0,162.3 214.0,171.7 210.0,179.9 204.7,169.0 199.3,158.3 196.7,149.0" fill="#9a9a9a"/>
<polygon points="226.0,145.0 242.0,145.0 244.7,154.3 239.3,158.3 242.0,165.0 250.0,167.7 250.3,171.7 244.7,174.6 236.7,173.3 228.7,175.9 222.0,177.3 214.0,171.7 218.0,162.3 222.0,154.3" fill="#c6c6c6"/>
<polygon points="239.3,145.0 250.7,145.0 250.3,153.0 246.0,158.3 242.3,165.0 238.0,159.9 244.7,155.7" fill="#505050"/>
<polygon points="143.3,163.7 146.0,163.7 152.7,171.7 162.0,171.7 164.7,182.6 159.3,186.6 146.0,189.3 143.3,189.3" fill="#c8c8c8"/>
<polygon points="149.7,170.3 155.6,167.4 158.3,174.3 148.9,177.3" fill="#555555"/>
<polygon points="164.7,182.6 175.3,183.9 183.3,185.3 190.0,183.9 199.3,185.3 198.0,198.3 198.7,209.0 200.7,219.7 159.3,219.7 160.7,202.3 159.3,189.0 159.3,186.6" fill="#4e4e4e"/>
<polygon points="143.3,189.3 146.0,189.3 159.3,186.6 159.3,189.0 160.7,202.3 159.3,219.7 143.3,219.7" fill="#646464"/>
<polygon points="199.3,185.3 210.0,179.9 215.3,187.7 222.0,195.7 226.0,198.3 220.7,205.0 212.7,210.3 207.3,209.0 202.0,203.7 198.0,198.3" fill="#8c8c8c"/>
<polygon points="210.0,179.9 214.0,171.7 222.0,177.3 228.7,175.9 234.0,185.0 239.3,193.0 244.7,201.0 247.3,209.0 250.7,219.7 236.7,219.7 232.7,205.0 226.0,198.3 222.0,195.7 215.3,187.7" fill="#bebebe"/>
<polygon points="228.7,175.9 236.7,173.3 244.7,174.6 250.3,171.7 247.3,179.7 246.0,187.7 250.0,195.7 244.7,201.0 239.3,193.0 234.0,185.0" fill="#727272"/>
<polygon points="250.3,171.7 260.7,169.0 274.0,170.3 279.3,177.0 271.3,185.0 266.0,193.0 262.0,201.0 259.3,207.7 264.0,219.7 250.7,219.7 247.3,209.0 244.7,201.0 250.0,195.7 246.0,187.7 247.3,179.7" fill="#a6a6a6"/>
<polygon points="260.7,169.0 292.7,167.9 292.7,177.3 279.3,177.0 274.0,170.3" fill="#b0b0b0"/>
<polygon points="279.3,177.0 292.7,177.3 292.7,200.3 282.0,203.7 276.7,207.7 268.7,205.0 262.0,201.0 266.0,193.0 271.3,185.0" fill="#666666"/>
<polygon points="262.0,201.0 268.7,205.0 276.7,207.7 282.0,203.7 292.7,200.3 292.7,219.7 264.0,219.7 259.3,207.7" fill="#d0d0d0"/>
<polygon points="220.7,205.0 226.0,198.3 232.7,205.0 236.7,219.7 220.0,219.7 223.3,211.7" fill="#666666"/>
<polygon points="198.0,198.3 202.0,203.7 207.3,209.0 212.7,210.3 220.7,205.0 223.3,211.7 220.7,219.7 200.7,219.7 198.7,209.0" fill="#c8c8c8"/>
<polygon points="271.3,211.7 276.9,214.3 272.7,217.7" fill="#585858"/>
<polygon points="179.7,158.7 182.1,159.0 181.9,161.1 179.9,161.0" fill="#dcdcdc"/>
<polygon points="187.7,158.5 190.1,158.7 189.9,160.9 187.9,160.7" fill="#dcdcdc"/>
<polygon points="181.9,168.1 184.3,168.3 184.0,170.5 182.0,170.3" fill="#dcdcdc"/>
<polygon points="183.5,178.7 185.9,179.0 185.6,181.1 183.6,181.0" fill="#dcdcdc"/>
<polygon points="189.1,183.3 191.5,183.5 191.2,185.7 189.2,185.5" fill="#dcdcdc"/>
<polygon points="160.8,192.1 163.2,192.3 162.9,194.5 160.9,194.3" fill="#dcdcdc"/>
<polygon points="158.1,202.5 160.5,202.7 160.3,204.9 158.3,204.7" fill="#dcdcdc"/>
<polygon points="193.1,208.6 195.5,208.9 195.2,211.0 193.2,210.9" fill="#dcdcdc"/>
<polygon points="179.2,213.4 181.6,213.7 181.3,215.8 179.3,215.7" fill="#dcdcdc"/>
<polygon points="270.4,186.2 272.8,186.5 272.5,188.6 270.5,188.5" fill="#dcdcdc"/>
<polygon points="278.1,193.4 280.5,193.7 280.3,195.8 278.3,195.7" fill="#dcdcdc"/>
<polygon points="259.7,205.4 262.1,205.7 261.9,207.8 259.9,207.7" fill="#dcdcdc"/>
<polygon points="222.1,175.3 224.5,175.5 224.3,177.7 222.3,177.5" fill="#dcdcdc"/>
<polygon points="2.0,224.3 6.0,227.7 11.3,233.0 19.3,237.0 27.3,239.7 34.0,237.0 39.3,231.7 42.0,234.3 47.3,239.7 52.7,242.3 56.7,241.0 55.3,245.0 60.7,251.7 55.3,254.6 46.0,253.3 36.7,255.9 28.7,259.9 19.3,266.6 11.3,269.3 2.0,261.7" fill="#cacaca"/>
<polygon points="2.0,218.1 15.3,218.1 15.3,214.3 28.7,214.3 32.7,218.1 40.7,225.0 39.3,231.7 34.0,237.0 27.3,239.7 19.3,237.0 11.3,233.0 6.0,227.7 2.0,224.3" fill="#555555"/>
<polygon points="32.0,214.3 98.7,214.3 98.0,217.0 90.0,221.0 76.7,219.7 67.3,223.7 60.7,231.7 55.3,234.3 48.7,230.3 42.0,229.0 40.7,225.0 32.7,218.1" fill="#c6c6c6"/>
<polygon points="40.7,225.0 42.0,229.0 48.7,230.3 55.3,234.3 56.7,241.0 52.7,242.3 47.3,239.7 42.0,234.3 39.3,231.7" fill="#5a5a5a"/>
<polygon points="60.7,231.7 67.3,223.7 76.7,219.7 87.3,222.3 95.3,229.0 100.7,237.0 102.0,242.6 95.3,250.6 87.3,251.9 76.7,250.6 68.7,253.3 60.7,251.9 55.3,245.0 56.7,241.0 55.3,234.3" fill="#7e7e7e"/>
<polygon points="90.0,221.0 98.0,217.0 98.7,214.3 148.7,214.3 148.7,230.3 142.0,237.0 136.7,243.7 128.7,245.3 119.3,242.6 108.7,241.3 102.0,242.6 100.7,237.0 95.3,229.0 87.3,222.3" fill="#626262"/>
<polygon points="28.7,259.9 36.7,255.9 46.0,253.3 55.3,254.6 60.7,251.9 60.7,257.0 58.0,262.3 52.7,267.7 47.3,270.6 42.0,262.6 35.3,261.3" fill="#8e8e8e"/>
<polygon points="2.0,261.7 11.3,269.3 19.3,266.6 28.7,259.9 35.3,261.3 42.0,262.6 47.3,270.6 50.0,274.3 42.0,278.3 32.7,282.3 28.0,289.7 7.3,289.7 6.0,277.0 2.0,270.3" fill="#666666"/>
<polygon points="60.7,251.9 68.7,253.3 76.7,250.6 87.3,251.9 95.3,250.6 92.7,259.7 95.3,267.7 103.3,270.6 114.0,267.9 119.3,270.3 122.0,277.0 127.3,283.7 130.7,289.7 28.0,289.7 32.7,282.3 42.0,278.3 50.0,274.3 47.3,270.6 52.7,267.7 58.0,262.3 60.7,257.0" fill="#c4c4c4"/>
<polygon points="2.0,270.3 6.0,277.0 7.3,289.7 2.0,289.7" fill="#c2c2c2"/>
<polygon points="95.3,250.6 102.0,242.6 108.7,241.3 116.7,243.7 119.3,251.7 118.0,259.7 116.7,266.6 114.0,267.9 103.3,270.6 95.3,267.7 92.7,259.7" fill="#ababab"/>
<polygon points="119.3,242.6 128.7,245.3 136.7,243.7 142.0,237.0 148.7,235.0 148.7,257.3 138.0,258.6 130.0,255.9 124.7,254.6 119.3,251.7 116.7,243.7" fill="#d0d0d0"/>
<polygon points="118.0,249.0 123.6,248.2 126.3,253.0 122.0,255.9 119.3,253.0" fill="#555555"/>
<polygon points="119.3,251.7 124.7,254.6 130.0,255.9 138.0,258.6 143.3,261.3 148.7,269.7 140.7,275.7 135.3,279.7 130.0,282.3 126.0,279.7 122.0,277.0 119.3,270.3 116.7,266.6 118.0,259.7" fill="#6e6e6e"/>
<polygon points="148.7,269.7 140.7,275.7 135.3,279.7 130.0,282.3 130.7,289.7 148.7,289.7" fill="#bbbbbb"/>
<polygon points="97.1,227.5 99.5,227.8 99.2,229.9 97.2,229.8" fill="#dcdcdc"/>
<polygon points="72.8,233.4 75.2,233.7 74.9,235.8 72.9,235.7" fill="#dcdcdc"/>
<polygon points="126.9,223.5 129.3,223.8 129.1,225.9 127.1,225.8" fill="#dcdcdc"/>
<polygon points="127.7,233.4 130.1,233.7 129.9,235.8 127.9,235.7" fill="#dcdcdc"/>
<polygon points="134.1,234.5 136.5,234.7 136.3,236.9 134.3,236.7" fill="#dcdcdc"/>
<polygon points="20.5,274.5 22.9,274.7 22.7,276.9 20.7,276.7" fill="#dcdcdc"/>
<polygon points="41.1,262.7 43.5,263.0 43.2,265.1 41.2,265.0" fill="#dcdcdc"/>
<polygon points="130.9,262.7 133.3,263.0 133.1,265.1 131.1,265.0" fill="#dcdcdc"/>
<polygon points="14.7,232.6 17.1,232.9 16.8,235.0 14.8,234.9" fill="#dcdcdc"/>
<polygon points="143.3,214.3 166.0,214.3 166.0,225.0 160.7,233.0 154.0,237.0 146.0,237.3 143.3,237.0" fill="#626262"/>
<polygon points="166.0,214.3 205.3,214.3 202.0,222.3 190.0,226.3 192.7,234.3 195.3,241.0 192.7,249.0 196.7,257.0 198.0,270.3 195.3,274.6 186.0,269.3 179.3,262.3 175.3,255.7 171.3,250.3 163.3,250.3 156.7,247.7 155.3,241.0 160.7,233.0 166.0,225.0" fill="#585858"/>
<polygon points="190.0,226.3 202.0,222.3 204.7,229.0 210.0,233.0 215.3,239.7 218.0,247.7 219.3,254.3 218.0,261.0 214.0,263.9 210.0,257.0 204.7,250.3 199.3,243.7 195.3,241.0 192.7,234.3" fill="#767676"/>
<polygon points="204.7,214.3 239.3,214.3 242.3,225.0 238.0,234.3 232.7,243.7 228.7,253.0 224.7,262.6 219.3,263.9 218.0,261.0 219.3,254.3 218.0,247.7 215.3,239.7 210.0,233.0 204.7,229.0 202.0,222.3" fill="#525252"/>
<polygon points="222.0,227.7 226.0,224.7 230.3,227.0 230.3,231.7 224.7,233.9 221.1,231.0" fill="#d2d2d2"/>
<polygon points="209.7,215.7 216.9,215.7 215.3,219.9 211.3,219.9" fill="#c8c8c8"/>
<polygon points="202.0,253.0 208.7,255.7 212.7,262.3 215.6,266.3 208.7,269.3 203.3,267.9 200.7,261.0" fill="#505050"/>
<polygon points="192.7,241.0 199.3,243.7 204.7,250.3 202.0,253.0 200.7,261.0 199.3,267.7 198.0,270.3 196.7,257.0 192.7,249.0" fill="#cfcfcf"/>
<polygon points="143.3,238.1 146.0,238.1 154.0,237.0 156.7,247.7 154.0,254.6 146.0,257.3 143.3,257.3" fill="#d0d0d0"/>
<polygon points="159.3,254.3 171.3,250.3 175.3,255.7 179.3,262.3 178.0,267.9 172.7,273.3 166.0,270.6 160.7,263.7 158.0,258.3" fill="#d8d8d8"/>
<polygon points="143.3,257.3 146.0,257.3 154.0,254.6 158.0,258.3 160.7,263.7 166.0,270.6 172.7,273.3 178.0,267.9 183.3,270.3 184.7,275.7 182.0,283.7 179.3,289.7 143.3,289.7" fill="#8a8a8a"/>
<polygon points="151.3,254.6 157.7,255.7 158.3,261.3 152.7,261.0" fill="#555555"/>
<polygon points="166.0,275.7 171.6,276.3 170.0,279.4 166.3,278.6" fill="#555555"/>
<polygon points="160.7,269.7 164.7,271.0 163.1,273.7 160.0,272.3" fill="#606060"/>
<polygon points="183.3,270.3 186.0,269.3 195.3,274.6 198.0,278.3 196.7,289.7 181.7,289.7 184.7,275.7" fill="#c8c8c8"/>
<polygon points="198.0,270.3 203.3,267.9 208.7,269.3 215.6,266.3 220.7,267.9 224.7,270.6 228.7,279.7 230.3,289.7 196.4,289.7 198.0,278.3 195.3,274.6" fill="#949494"/>
<polygon points="224.7,270.6 231.3,266.6 239.3,265.3 250.0,259.9 259.3,258.6 266.0,261.3 274.0,267.7 275.6,275.7 274.3,289.7 230.3,289.7 228.7,279.7" fill="#505050"/>
<polygon points="242.3,225.0 247.3,227.7 252.7,230.3 256.7,238.3 256.7,249.0 259.3,258.6 250.0,259.9 239.3,265.3 231.3,266.6 224.7,270.6 220.7,267.9 219.3,263.9 224.7,262.6 228.7,253.0 232.7,243.7 238.0,234.3" fill="#a8a8a8"/>
<polygon points="252.7,230.3 260.7,229.0 274.0,223.7 292.7,225.0 292.7,289.7 274.3,289.7 275.6,275.7 274.0,267.7 266.0,261.3 259.3,258.6 256.7,249.0 256.7,238.3" fill="#b4b4b4"/>
<polygon points="239.3,214.3 292.7,214.3 292.7,225.0 274.0,223.7 260.7,229.0 252.7,230.3 247.3,227.7 242.3,225.0" fill="#c4c4c4"/>
<polygon points="250.0,214.3 272.7,214.3 271.3,222.3 260.7,226.3 252.7,225.0" fill="#acacac"/>
<polygon points="280.4,224.3 287.6,225.0 284.7,228.7" fill="#555555"/>
<polygon points="172.0,226.3 174.7,226.6 174.4,229.0 172.1,228.9" fill="#dcdcdc"/>
<polygon points="187.6,225.8 190.3,226.1 190.0,228.5 187.7,228.3" fill="#dcdcdc"/>
<polygon points="202.3,222.6 204.9,222.9 204.7,225.3 202.4,225.1" fill="#dcdcdc"/>
<polygon points="209.7,231.4 212.4,231.7 212.1,234.1 209.9,233.9" fill="#dcdcdc"/>
<polygon points="163.6,229.0 166.3,229.3 166.0,231.7 163.7,231.5" fill="#dcdcdc"/>
<polygon points="175.6,243.9 178.3,244.2 178.0,246.6 175.7,246.5" fill="#dcdcdc"/>
<polygon points="216.7,246.6 219.3,246.9 219.1,249.3 216.8,249.1" fill="#dcdcdc"/>
<polygon points="208.9,255.1 211.6,255.4 211.3,257.8 209.1,257.7" fill="#dcdcdc"/>
<polygon points="258.3,235.9 260.9,236.2 260.7,238.6 258.4,238.5" fill="#dcdcdc"/>
<polygon points="192.9,246.1 195.6,246.3 195.3,248.7 193.1,248.6" fill="#dcdcdc"/>
<polygon points="141.0,222.0 146.0,215.5 155.0,214.0 163.0,217.0 167.0,224.0 166.0,232.0 160.0,238.0 150.0,239.0 143.0,236.0 141.0,229.0" fill="#8c8c8c"/>
<polygon points="199.0,206.0 204.0,203.0 212.0,205.0 219.0,204.0 222.0,210.0 221.0,218.0 214.0,221.0 206.0,219.0 200.0,214.0" fill="#c8c8c8"/>
</g>
<polygon points="3.0,215.4 26.0,215.9 27.2,217.6 26.0,219.4 3.0,219.6" fill="#060606" stroke="#060606" stroke-width="0.5" stroke-linejoin="round"/>
</g>
<rect x="248.2" y="5.3" width="37.4" height="19.6" fill="#fff"/>
<text x="256.0" y="20.8" font-size="18.5" fill="#111">SC</text>
<rect x="250.3" y="147.8" width="36.9" height="19.8" fill="#fff"/>
<text x="257.8" y="162.9" font-size="18.5" fill="#111">FC</text>
<clipPath id="kb1"><rect x="557.0" y="1.9" width="286.8" height="142.8"/></clipPath>
<rect x="557.0" y="1.9" width="286.8" height="142.8" fill="#00007d"/>
<g clip-path="url(#kb1)"><g filter="url(#dj)">
<rect x="554.0" y="-1.1" width="292.8" height="148.8" fill="#00007d"/>
<ellipse cx="590.0" cy="4.7" rx="1.65" ry="1.65" fill="url(#ha)"/>
<ellipse cx="596.0" cy="4.7" rx="1.86" ry="1.86" fill="url(#ha)"/>
<ellipse cx="609.0" cy="5.4" rx="2.07" ry="2.07" fill="url(#ha)"/>
<ellipse cx="614.3" cy="5.2" rx="1.86" ry="1.86" fill="url(#ha)"/>
<ellipse cx="619.9" cy="7.9" rx="2.99" ry="5.09" fill="url(#ha)"/>
<ellipse cx="632.7" cy="11.1" rx="3.72" ry="3.72" fill="url(#ha)"/>
<ellipse cx="639.7" cy="4.4" rx="1.24" ry="1.24" fill="url(#gb)"/>
<ellipse cx="648.0" cy="6.3" rx="2.48" ry="2.48" fill="url(#ha)"/>
<ellipse cx="656.1" cy="7.1" rx="2.48" ry="2.48" fill="url(#ha)"/>
<ellipse cx="642.7" cy="14.0" rx="2.07" ry="2.07" fill="url(#ha)"/>
<ellipse cx="649.5" cy="20.1" rx="1.65" ry="1.65" fill="url(#ha)"/>
<ellipse cx="679.3" cy="21.7" rx="2.89" ry="2.89" fill="url(#ha)"/>
<ellipse cx="696.0" cy="28.3" rx="2.28" ry="3.90" fill="url(#ha)"/>
<ellipse cx="676.0" cy="34.4" rx="2.99" ry="5.09" fill="url(#ha)"/>
<ellipse cx="681.8" cy="32.3" rx="1.45" ry="1.45" fill="url(#ha)"/>
<ellipse cx="687.3" cy="36.3" rx="2.27" ry="2.27" fill="url(#ha)"/>
<ellipse cx="683.7" cy="40.0" rx="1.86" ry="1.86" fill="url(#ha)"/>
<ellipse cx="690.7" cy="34.4" rx="1.24" ry="1.24" fill="url(#gb)"/>
<ellipse cx="586.7" cy="27.1" rx="1.24" ry="1.24" fill="url(#gb)"/>
<ellipse cx="586.9" cy="34.0" rx="1.45" ry="1.45" fill="url(#ha)"/>
<ellipse cx="581.3" cy="38.0" rx="1.03" ry="1.03" fill="url(#gb)"/>
<ellipse cx="594.5" cy="42.2" rx="1.93" ry="3.30" fill="url(#ha)"/>
<ellipse cx="604.4" cy="41.8" rx="2.27" ry="2.27" fill="url(#ha)"/>
<ellipse cx="615.3" cy="41.4" rx="2.27" ry="2.27" fill="url(#ha)"/>
<ellipse cx="629.3" cy="39.9" rx="2.27" ry="2.27" fill="url(#ha)"/>
<ellipse cx="637.4" cy="36.6" rx="2.07" ry="2.07" fill="url(#ha)"/>
<ellipse cx="644.9" cy="35.4" rx="2.11" ry="3.60" fill="url(#ha)"/>
<ellipse cx="656.0" cy="35.2" rx="2.07" ry="2.07" fill="url(#ha)"/>
<ellipse cx="664.4" cy="40.8" rx="2.07" ry="2.07" fill="url(#ha)"/>
<ellipse cx="672.0" cy="42.9" rx="1.65" ry="1.65" fill="url(#ha)"/>
<ellipse cx="677.5" cy="46.5" rx="2.48" ry="2.48" fill="url(#ha)"/>
<ellipse cx="560.9" cy="49.3" rx="2.07" ry="2.07" fill="url(#ha)"/>
<ellipse cx="566.4" cy="54.2" rx="2.48" ry="2.48" fill="url(#ha)"/>
<ellipse cx="572.8" cy="51.0" rx="2.28" ry="3.90" fill="url(#ha)"/>
<ellipse cx="579.1" cy="50.4" rx="2.07" ry="2.07" fill="url(#ha)"/>
<ellipse cx="583.7" cy="53.0" rx="1.86" ry="1.86" fill="url(#ha)"/>
<ellipse cx="592.9" cy="61.9" rx="2.07" ry="2.07" fill="url(#ha)"/>
<ellipse cx="597.8" cy="65.5" rx="1.86" ry="1.86" fill="url(#ha)"/>
<ellipse cx="602.7" cy="69.2" rx="1.65" ry="1.65" fill="url(#ha)"/>
<ellipse cx="608.7" cy="65.3" rx="1.45" ry="1.45" fill="url(#ha)"/>
<ellipse cx="619.5" cy="67.0" rx="2.28" ry="3.90" fill="url(#ha)"/>
<ellipse cx="629.3" cy="60.6" rx="2.11" ry="3.60" fill="url(#ha)"/>
<ellipse cx="648.9" cy="60.7" rx="1.93" ry="3.30" fill="url(#ha)"/>
<ellipse cx="659.7" cy="53.3" rx="1.45" ry="1.45" fill="url(#ha)"/>
<ellipse cx="668.7" cy="54.5" rx="1.93" ry="3.30" fill="url(#ha)"/>
<ellipse cx="679.3" cy="56.5" rx="2.48" ry="2.48" fill="url(#ha)"/>
<ellipse cx="684.8" cy="54.7" rx="2.07" ry="2.07" fill="url(#ha)"/>
<ellipse cx="689.6" cy="55.3" rx="2.07" ry="2.07" fill="url(#ha)"/>
<ellipse cx="568.0" cy="68.9" rx="1.65" ry="1.65" fill="url(#ha)"/>
<ellipse cx="563.3" cy="68.9" rx="1.03" ry="1.03" fill="url(#gb)"/>
<ellipse cx="559.3" cy="23.3" rx="1.03" ry="1.03" fill="url(#gb)"/>
<ellipse cx="585.5" cy="70.6" rx="1.24" ry="1.24" fill="url(#ha)"/>
<ellipse cx="589.3" cy="58.0" rx="1.03" ry="1.03" fill="url(#gb)"/>
<ellipse cx="714.9" cy="6.9" rx="1.45" ry="1.45" fill="url(#gb)"/>
<ellipse cx="718.7" cy="12.0" rx="1.93" ry="3.30" fill="url(#ha)"/>
<ellipse cx="706.1" cy="15.9" rx="2.27" ry="2.27" fill="url(#ha)"/>
<ellipse cx="702.0" cy="20.7" rx="1.24" ry="1.24" fill="url(#ha)"/>
<ellipse cx="703.7" cy="24.5" rx="1.58" ry="2.70" fill="url(#ha)"/>
<ellipse cx="718.5" cy="25.8" rx="1.93" ry="3.30" fill="url(#ha)"/>
<ellipse cx="761.6" cy="6.4" rx="1.65" ry="1.65" fill="url(#ha)"/>
<ellipse cx="761.3" cy="12.4" rx="1.93" ry="3.30" fill="url(#ha)"/>
<ellipse cx="759.4" cy="21.1" rx="2.11" ry="3.60" fill="url(#ha)"/>
<ellipse cx="754.0" cy="24.3" rx="1.24" ry="1.24" fill="url(#ha)"/>
<ellipse cx="767.7" cy="20.4" rx="1.65" ry="1.65" fill="url(#ha)"/>
<ellipse cx="772.1" cy="19.0" rx="1.65" ry="1.65" fill="url(#ha)"/>
<ellipse cx="779.9" cy="19.6" rx="2.11" ry="3.60" fill="url(#ha)"/>
<ellipse cx="787.8" cy="19.7" rx="2.99" ry="5.09" fill="url(#ha)"/>
<ellipse cx="791.7" cy="13.3" rx="1.24" ry="1.24" fill="url(#gb)"/>
<ellipse cx="794.9" cy="16.7" rx="1.24" ry="1.24" fill="url(#gb)"/>
<ellipse cx="794.9" cy="6.5" rx="1.41" ry="2.40" fill="url(#ha)"/>
<ellipse cx="755.2" cy="34.0" rx="1.93" ry="3.30" fill="url(#ha)"/>
<ellipse cx="745.6" cy="46.9" rx="2.28" ry="3.90" fill="url(#ha)"/>
<ellipse cx="735.1" cy="49.5" rx="2.11" ry="3.60" fill="url(#ha)"/>
<ellipse cx="708.0" cy="60.5" rx="2.69" ry="2.69" fill="url(#ha)"/>
<ellipse cx="729.6" cy="63.3" rx="1.86" ry="1.86" fill="url(#ha)"/>
<ellipse cx="734.0" cy="63.3" rx="1.86" ry="1.86" fill="url(#ha)"/>
<ellipse cx="738.7" cy="64.9" rx="1.65" ry="1.65" fill="url(#ha)"/>
<ellipse cx="750.0" cy="70.0" rx="1.24" ry="1.24" fill="url(#gb)"/>
<ellipse cx="752.8" cy="71.2" rx="1.24" ry="1.24" fill="url(#ha)"/>
<ellipse cx="762.7" cy="70.7" rx="1.45" ry="1.45" fill="url(#ha)"/>
<ellipse cx="790.8" cy="69.0" rx="1.93" ry="3.30" fill="url(#ha)"/>
<ellipse cx="801.6" cy="58.7" rx="1.65" ry="1.65" fill="url(#ha)"/>
<ellipse cx="805.6" cy="61.6" rx="1.65" ry="1.65" fill="url(#ha)"/>
<ellipse cx="811.7" cy="37.1" rx="1.65" ry="1.65" fill="url(#ha)"/>
<ellipse cx="815.7" cy="38.6" rx="1.76" ry="3.00" fill="url(#ha)"/>
<ellipse cx="822.9" cy="29.6" rx="1.86" ry="1.86" fill="url(#ha)"/>
<ellipse cx="825.6" cy="43.6" rx="1.58" ry="2.70" fill="url(#ha)"/>
<ellipse cx="826.0" cy="48.0" rx="1.45" ry="1.45" fill="url(#ha)"/>
<ellipse cx="833.2" cy="45.4" rx="2.27" ry="2.27" fill="url(#ha)"/>
<ellipse cx="839.3" cy="45.4" rx="2.07" ry="2.07" fill="url(#ha)"/>
<ellipse cx="819.3" cy="51.0" rx="1.93" ry="3.30" fill="url(#ha)"/>
<ellipse cx="842.7" cy="49.3" rx="1.65" ry="1.65" fill="url(#ha)"/>
<ellipse cx="843.3" cy="61.3" rx="1.24" ry="1.24" fill="url(#ha)"/>
<ellipse cx="842.7" cy="69.3" rx="1.03" ry="1.03" fill="url(#gb)"/>
<ellipse cx="823.3" cy="5.0" rx="1.45" ry="1.45" fill="url(#ha)"/>
<ellipse cx="804.0" cy="27.3" rx="1.03" ry="1.03" fill="url(#gb)"/>
<ellipse cx="738.7" cy="71.6" rx="1.03" ry="1.03" fill="url(#ha)"/>
<ellipse cx="602.0" cy="74.9" rx="1.41" ry="2.40" fill="url(#ha)"/>
<ellipse cx="565.1" cy="84.0" rx="2.63" ry="4.50" fill="url(#ha)"/>
<ellipse cx="559.3" cy="86.7" rx="1.24" ry="1.24" fill="url(#gb)"/>
<ellipse cx="557.6" cy="94.0" rx="1.03" ry="1.03" fill="url(#gb)"/>
<ellipse cx="610.2" cy="82.6" rx="1.86" ry="1.86" fill="url(#ha)"/>
<ellipse cx="615.0" cy="84.5" rx="1.76" ry="3.00" fill="url(#ha)"/>
<ellipse cx="621.1" cy="91.3" rx="1.76" ry="3.00" fill="url(#ha)"/>
<ellipse cx="629.2" cy="96.5" rx="2.28" ry="3.90" fill="url(#ha)"/>
<ellipse cx="626.0" cy="102.7" rx="2.28" ry="3.90" fill="url(#ha)"/>
<ellipse cx="635.2" cy="97.9" rx="1.76" ry="3.00" fill="url(#ha)"/>
<ellipse cx="641.6" cy="90.4" rx="2.46" ry="4.20" fill="url(#ha)"/>
<ellipse cx="650.0" cy="94.9" rx="1.24" ry="1.24" fill="url(#gb)"/>
<ellipse cx="670.2" cy="81.0" rx="1.76" ry="3.00" fill="url(#ha)"/>
<ellipse cx="676.0" cy="80.8" rx="1.93" ry="3.30" fill="url(#ha)"/>
<ellipse cx="693.7" cy="106.4" rx="2.28" ry="3.90" fill="url(#ha)"/>
<ellipse cx="699.3" cy="104.0" rx="1.03" ry="1.03" fill="url(#gb)"/>
<ellipse cx="683.7" cy="110.0" rx="1.45" ry="1.45" fill="url(#gb)"/>
<ellipse cx="558.9" cy="113.9" rx="2.11" ry="3.60" fill="url(#ha)"/>
<ellipse cx="566.4" cy="115.5" rx="2.27" ry="2.27" fill="url(#ha)"/>
<ellipse cx="612.4" cy="116.5" rx="2.46" ry="4.20" fill="url(#ha)"/>
<ellipse cx="612.0" cy="124.9" rx="1.93" ry="3.30" fill="url(#ha)"/>
<ellipse cx="621.3" cy="110.4" rx="1.45" ry="1.45" fill="url(#gb)"/>
<ellipse cx="616.7" cy="126.9" rx="1.03" ry="1.03" fill="url(#gb)"/>
<ellipse cx="620.9" cy="128.7" rx="1.03" ry="1.03" fill="url(#gb)"/>
<ellipse cx="609.3" cy="128.7" rx="1.24" ry="1.24" fill="url(#gb)"/>
<ellipse cx="568.9" cy="125.2" rx="2.07" ry="2.07" fill="url(#ha)"/>
<ellipse cx="574.0" cy="128.3" rx="2.46" ry="4.20" fill="url(#ha)"/>
<ellipse cx="577.3" cy="132.1" rx="2.28" ry="3.90" fill="url(#ha)"/>
<ellipse cx="580.4" cy="137.6" rx="1.93" ry="3.30" fill="url(#ha)"/>
<ellipse cx="583.6" cy="140.6" rx="2.07" ry="2.07" fill="url(#ha)"/>
<ellipse cx="602.2" cy="141.5" rx="2.07" ry="2.07" fill="url(#ha)"/>
<ellipse cx="606.6" cy="137.9" rx="1.86" ry="1.86" fill="url(#ha)"/>
<ellipse cx="610.5" cy="135.7" rx="1.93" ry="3.30" fill="url(#ha)"/>
<ellipse cx="633.2" cy="136.3" rx="2.46" ry="4.20" fill="url(#ha)"/>
<ellipse cx="636.0" cy="131.3" rx="2.07" ry="2.07" fill="url(#ha)"/>
<ellipse cx="637.6" cy="140.2" rx="2.48" ry="2.48" fill="url(#ha)"/>
<ellipse cx="648.7" cy="134.7" rx="2.28" ry="3.90" fill="url(#ha)"/>
<ellipse cx="659.7" cy="134.0" rx="2.46" ry="4.20" fill="url(#ha)"/>
<ellipse cx="659.7" cy="139.4" rx="2.46" ry="4.20" fill="url(#ha)"/>
<ellipse cx="670.0" cy="141.7" rx="1.86" ry="1.86" fill="url(#ha)"/>
<ellipse cx="674.3" cy="131.3" rx="2.27" ry="2.27" fill="url(#ha)"/>
<ellipse cx="681.4" cy="118.9" rx="1.76" ry="3.00" fill="url(#ha)"/>
<ellipse cx="680.7" cy="124.9" rx="2.07" ry="2.07" fill="url(#ha)"/>
<ellipse cx="686.2" cy="123.5" rx="1.58" ry="2.70" fill="url(#ha)"/>
<ellipse cx="684.3" cy="130.9" rx="2.89" ry="2.89" fill="url(#ha)"/>
<ellipse cx="694.2" cy="132.1" rx="2.28" ry="3.90" fill="url(#ha)"/>
<ellipse cx="691.3" cy="137.2" rx="1.58" ry="2.70" fill="url(#ha)"/>
<ellipse cx="738.9" cy="73.6" rx="2.07" ry="2.07" fill="url(#ha)"/>
<ellipse cx="740.6" cy="77.7" rx="2.28" ry="3.90" fill="url(#ha)"/>
<ellipse cx="740.8" cy="81.4" rx="1.93" ry="3.30" fill="url(#ha)"/>
<ellipse cx="751.6" cy="73.2" rx="1.86" ry="1.86" fill="url(#ha)"/>
<ellipse cx="762.6" cy="73.9" rx="2.07" ry="2.07" fill="url(#ha)"/>
<ellipse cx="775.3" cy="77.5" rx="2.07" ry="2.07" fill="url(#ha)"/>
<ellipse cx="773.1" cy="74.0" rx="1.03" ry="1.03" fill="url(#gb)"/>
<ellipse cx="791.1" cy="74.9" rx="2.46" ry="4.20" fill="url(#ha)"/>
<ellipse cx="784.7" cy="80.7" rx="1.65" ry="1.65" fill="url(#ha)"/>
<ellipse cx="785.3" cy="87.3" rx="1.24" ry="1.24" fill="url(#gb)"/>
<ellipse cx="786.0" cy="93.4" rx="2.69" ry="2.69" fill="url(#ha)"/>
<ellipse cx="794.9" cy="97.1" rx="1.45" ry="1.45" fill="url(#ha)"/>
<ellipse cx="727.3" cy="95.0" rx="2.89" ry="2.89" fill="url(#ha)"/>
<ellipse cx="728.0" cy="100.6" rx="3.31" ry="3.31" fill="url(#ha)"/>
<ellipse cx="720.3" cy="100.6" rx="2.27" ry="2.27" fill="url(#ha)"/>
<ellipse cx="734.9" cy="102.1" rx="2.28" ry="3.90" fill="url(#ha)"/>
<ellipse cx="741.1" cy="105.5" rx="1.93" ry="3.30" fill="url(#ha)"/>
<ellipse cx="706.5" cy="105.1" rx="2.27" ry="2.27" fill="url(#ha)"/>
<ellipse cx="716.9" cy="105.1" rx="1.65" ry="1.65" fill="url(#ha)"/>
<ellipse cx="701.0" cy="105.0" rx="1.65" ry="1.65" fill="url(#ha)"/>
<ellipse cx="703.7" cy="109.3" rx="1.45" ry="1.45" fill="url(#gb)"/>
<ellipse cx="714.0" cy="109.3" rx="1.03" ry="1.03" fill="url(#gb)"/>
<ellipse cx="716.0" cy="116.0" rx="1.24" ry="1.24" fill="url(#gb)"/>
<ellipse cx="746.1" cy="111.6" rx="1.93" ry="3.30" fill="url(#ha)"/>
<ellipse cx="746.9" cy="118.7" rx="1.86" ry="1.86" fill="url(#ha)"/>
<ellipse cx="748.7" cy="124.5" rx="1.65" ry="1.65" fill="url(#ha)"/>
<ellipse cx="756.2" cy="123.2" rx="3.72" ry="3.72" fill="url(#ha)"/>
<ellipse cx="762.5" cy="121.8" rx="1.65" ry="1.65" fill="url(#ha)"/>
<ellipse cx="769.1" cy="117.8" rx="2.07" ry="2.07" fill="url(#ha)"/>
<ellipse cx="772.7" cy="115.3" rx="1.65" ry="1.65" fill="url(#ha)"/>
<ellipse cx="781.6" cy="112.1" rx="2.46" ry="4.20" fill="url(#ha)"/>
<ellipse cx="787.2" cy="116.2" rx="2.27" ry="2.27" fill="url(#ha)"/>
<ellipse cx="785.3" cy="106.9" rx="1.65" ry="1.65" fill="url(#ha)"/>
<ellipse cx="789.1" cy="125.3" rx="1.86" ry="1.86" fill="url(#ha)"/>
<ellipse cx="798.6" cy="127.7" rx="1.93" ry="3.30" fill="url(#ha)"/>
<ellipse cx="809.3" cy="128.1" rx="2.07" ry="2.07" fill="url(#ha)"/>
<ellipse cx="818.6" cy="126.6" rx="2.81" ry="4.79" fill="url(#ha)"/>
<ellipse cx="828.7" cy="126.8" rx="3.10" ry="3.10" fill="url(#ha)"/>
<ellipse cx="833.3" cy="120.2" rx="1.93" ry="3.30" fill="url(#ha)"/>
<ellipse cx="801.3" cy="103.0" rx="1.93" ry="3.30" fill="url(#ha)"/>
<ellipse cx="805.7" cy="104.7" rx="2.07" ry="2.07" fill="url(#ha)"/>
<ellipse cx="810.0" cy="106.9" rx="2.07" ry="2.07" fill="url(#ha)"/>
<ellipse cx="814.3" cy="108.5" rx="1.86" ry="1.86" fill="url(#ha)"/>
<ellipse cx="818.4" cy="110.0" rx="1.65" ry="1.65" fill="url(#ha)"/>
<ellipse cx="823.6" cy="112.3" rx="2.07" ry="2.07" fill="url(#ha)"/>
<ellipse cx="829.2" cy="110.9" rx="1.93" ry="3.30" fill="url(#ha)"/>
<ellipse cx="833.1" cy="113.2" rx="2.07" ry="2.07" fill="url(#ha)"/>
<ellipse cx="840.6" cy="113.7" rx="1.86" ry="1.86" fill="url(#ha)"/>
<ellipse cx="841.6" cy="107.8" rx="1.65" ry="1.65" fill="url(#ha)"/>
<ellipse cx="843.3" cy="86.7" rx="1.65" ry="1.65" fill="url(#ha)"/>
<ellipse cx="742.9" cy="127.2" rx="2.48" ry="2.48" fill="url(#ha)"/>
<ellipse cx="742.9" cy="130.5" rx="1.65" ry="1.65" fill="url(#ha)"/>
<ellipse cx="737.7" cy="132.1" rx="2.11" ry="3.60" fill="url(#ha)"/>
<ellipse cx="732.0" cy="136.8" rx="1.93" ry="3.30" fill="url(#ha)"/>
<ellipse cx="726.2" cy="138.1" rx="2.46" ry="4.20" fill="url(#ha)"/>
<ellipse cx="758.0" cy="132.4" rx="1.86" ry="1.86" fill="url(#ha)"/>
<ellipse cx="795.7" cy="135.0" rx="1.93" ry="3.30" fill="url(#ha)"/>
<ellipse cx="822.3" cy="138.1" rx="2.11" ry="3.60" fill="url(#ha)"/>
<ellipse cx="724.0" cy="134.7" rx="1.03" ry="1.03" fill="url(#gb)"/>
<ellipse cx="795.3" cy="143.3" rx="1.03" ry="1.03" fill="url(#gb)"/>
<ellipse cx="609.1" cy="5.6" rx="1.36" ry="1.45" fill="url(#yb)"/>
<ellipse cx="614.3" cy="5.1" rx="1.15" ry="1.15" fill="url(#yb)"/>
<ellipse cx="619.7" cy="8.0" rx="1.97" ry="3.57" fill="url(#yb)"/>
<ellipse cx="632.7" cy="10.9" rx="2.46" ry="2.60" fill="url(#yb)"/>
<ellipse cx="648.0" cy="6.7" rx="1.64" ry="1.74" fill="url(#yb)"/>
<ellipse cx="656.0" cy="6.9" rx="1.64" ry="1.74" fill="url(#yb)"/>
<ellipse cx="642.7" cy="14.0" rx="1.36" ry="1.45" fill="url(#yb)"/>
<ellipse cx="649.7" cy="20.3" rx="1.09" ry="1.16" fill="url(#yb)"/>
<ellipse cx="679.3" cy="21.7" rx="1.79" ry="1.79" fill="url(#yb)"/>
<ellipse cx="695.7" cy="28.7" rx="1.51" ry="2.73" fill="url(#yb)"/>
<ellipse cx="676.0" cy="34.0" rx="1.97" ry="3.57" fill="url(#yb)"/>
<ellipse cx="681.6" cy="32.3" rx="0.95" ry="1.01" fill="url(#yb)"/>
<ellipse cx="687.3" cy="36.3" rx="1.41" ry="1.41" fill="url(#yb)"/>
<ellipse cx="594.7" cy="42.0" rx="1.28" ry="2.31" fill="url(#yb)"/>
<ellipse cx="604.7" cy="42.0" rx="1.50" ry="1.59" fill="url(#yb)"/>
<ellipse cx="615.3" cy="41.3" rx="1.41" ry="1.41" fill="url(#yb)"/>
<ellipse cx="629.1" cy="40.3" rx="1.50" ry="1.59" fill="url(#yb)"/>
<ellipse cx="637.6" cy="36.3" rx="1.36" ry="1.45" fill="url(#yb)"/>
<ellipse cx="645.1" cy="35.7" rx="1.39" ry="2.52" fill="url(#yb)"/>
<ellipse cx="656.0" cy="34.9" rx="1.28" ry="1.28" fill="url(#yb)"/>
<ellipse cx="664.7" cy="40.7" rx="1.36" ry="1.45" fill="url(#yb)"/>
<ellipse cx="672.0" cy="42.9" rx="1.03" ry="1.03" fill="url(#yb)"/>
<ellipse cx="677.3" cy="46.7" rx="1.64" ry="1.74" fill="url(#yb)"/>
<ellipse cx="561.1" cy="49.1" rx="1.36" ry="1.45" fill="url(#yb)"/>
<ellipse cx="566.4" cy="54.0" rx="1.54" ry="1.54" fill="url(#yb)"/>
<ellipse cx="573.1" cy="51.3" rx="1.51" ry="2.73" fill="url(#yb)"/>
<ellipse cx="579.3" cy="50.0" rx="1.36" ry="1.45" fill="url(#yb)"/>
<ellipse cx="583.7" cy="52.7" rx="1.15" ry="1.15" fill="url(#yb)"/>
<ellipse cx="593.1" cy="61.6" rx="1.36" ry="1.45" fill="url(#yb)"/>
<ellipse cx="598.0" cy="65.6" rx="1.23" ry="1.30" fill="url(#yb)"/>
<ellipse cx="602.7" cy="69.3" rx="1.03" ry="1.03" fill="url(#yb)"/>
<ellipse cx="619.7" cy="66.7" rx="1.51" ry="2.73" fill="url(#yb)"/>
<ellipse cx="629.3" cy="60.7" rx="1.31" ry="2.23" fill="url(#yb)"/>
<ellipse cx="648.9" cy="60.7" rx="1.20" ry="2.04" fill="url(#yb)"/>
<ellipse cx="668.7" cy="54.7" rx="1.28" ry="2.31" fill="url(#yb)"/>
<ellipse cx="679.3" cy="56.3" rx="1.54" ry="1.54" fill="url(#yb)"/>
<ellipse cx="684.7" cy="54.9" rx="1.36" ry="1.45" fill="url(#yb)"/>
<ellipse cx="689.7" cy="55.3" rx="1.36" ry="1.45" fill="url(#yb)"/>
<ellipse cx="585.3" cy="70.7" rx="0.82" ry="0.87" fill="url(#yb)"/>
<ellipse cx="718.4" cy="11.7" rx="1.28" ry="2.31" fill="url(#yb)"/>
<ellipse cx="706.4" cy="15.7" rx="1.50" ry="1.59" fill="url(#yb)"/>
<ellipse cx="703.7" cy="24.7" rx="0.98" ry="1.67" fill="url(#yb)"/>
<ellipse cx="718.7" cy="26.0" rx="1.28" ry="2.31" fill="url(#yb)"/>
<ellipse cx="761.3" cy="12.7" rx="1.20" ry="2.04" fill="url(#yb)"/>
<ellipse cx="759.6" cy="21.3" rx="1.39" ry="2.52" fill="url(#yb)"/>
<ellipse cx="767.7" cy="20.0" rx="1.09" ry="1.16" fill="url(#yb)"/>
<ellipse cx="772.3" cy="18.9" rx="1.09" ry="1.16" fill="url(#yb)"/>
<ellipse cx="780.0" cy="19.7" rx="1.39" ry="2.52" fill="url(#yb)"/>
<ellipse cx="787.7" cy="20.0" rx="1.97" ry="3.57" fill="url(#yb)"/>
<ellipse cx="794.9" cy="6.4" rx="0.87" ry="1.49" fill="url(#yb)"/>
<ellipse cx="754.9" cy="34.0" rx="1.28" ry="2.31" fill="url(#yb)"/>
<ellipse cx="745.7" cy="46.9" rx="1.51" ry="2.73" fill="url(#yb)"/>
<ellipse cx="735.1" cy="49.6" rx="1.39" ry="2.52" fill="url(#yb)"/>
<ellipse cx="707.7" cy="60.3" rx="1.77" ry="1.88" fill="url(#yb)"/>
<ellipse cx="729.3" cy="62.9" rx="1.23" ry="1.30" fill="url(#yb)"/>
<ellipse cx="734.0" cy="63.3" rx="1.23" ry="1.30" fill="url(#yb)"/>
<ellipse cx="738.7" cy="64.7" rx="1.03" ry="1.03" fill="url(#yb)"/>
<ellipse cx="752.7" cy="71.3" rx="0.82" ry="0.87" fill="url(#yb)"/>
<ellipse cx="790.7" cy="69.3" rx="1.28" ry="2.31" fill="url(#yb)"/>
<ellipse cx="811.7" cy="37.1" rx="1.03" ry="1.03" fill="url(#yb)"/>
<ellipse cx="816.0" cy="38.4" rx="1.16" ry="2.10" fill="url(#yb)"/>
<ellipse cx="822.9" cy="29.3" rx="1.15" ry="1.15" fill="url(#yb)"/>
<ellipse cx="825.6" cy="43.7" rx="0.98" ry="1.67" fill="url(#yb)"/>
<ellipse cx="832.9" cy="45.3" rx="1.50" ry="1.59" fill="url(#yb)"/>
<ellipse cx="839.3" cy="45.6" rx="1.28" ry="1.28" fill="url(#yb)"/>
<ellipse cx="819.3" cy="50.7" rx="1.28" ry="2.31" fill="url(#yb)"/>
<ellipse cx="823.3" cy="5.1" rx="0.90" ry="0.90" fill="url(#yb)"/>
<ellipse cx="738.7" cy="71.3" rx="0.64" ry="0.64" fill="url(#yb)"/>
<ellipse cx="565.1" cy="84.0" rx="1.63" ry="2.79" fill="url(#yb)"/>
<ellipse cx="610.3" cy="82.4" rx="1.23" ry="1.30" fill="url(#yb)"/>
<ellipse cx="615.3" cy="84.7" rx="1.16" ry="2.10" fill="url(#yb)"/>
<ellipse cx="621.3" cy="91.3" rx="1.16" ry="2.10" fill="url(#yb)"/>
<ellipse cx="629.1" cy="96.7" rx="1.51" ry="2.73" fill="url(#yb)"/>
<ellipse cx="626.0" cy="102.4" rx="1.42" ry="2.42" fill="url(#yb)"/>
<ellipse cx="634.9" cy="98.0" rx="1.16" ry="2.10" fill="url(#yb)"/>
<ellipse cx="641.6" cy="90.7" rx="1.52" ry="2.60" fill="url(#yb)"/>
<ellipse cx="670.0" cy="81.1" rx="1.16" ry="2.10" fill="url(#yb)"/>
<ellipse cx="676.3" cy="80.7" rx="1.28" ry="2.31" fill="url(#yb)"/>
<ellipse cx="693.6" cy="106.7" rx="1.51" ry="2.73" fill="url(#yb)"/>
<ellipse cx="558.9" cy="114.0" rx="1.39" ry="2.52" fill="url(#yb)"/>
<ellipse cx="566.4" cy="115.7" rx="1.41" ry="1.41" fill="url(#yb)"/>
<ellipse cx="612.7" cy="116.7" rx="1.62" ry="2.94" fill="url(#yb)"/>
<ellipse cx="612.0" cy="124.7" rx="1.20" ry="2.04" fill="url(#yb)"/>
<ellipse cx="568.9" cy="125.3" rx="1.28" ry="1.28" fill="url(#yb)"/>
<ellipse cx="574.0" cy="128.0" rx="1.62" ry="2.94" fill="url(#yb)"/>
<ellipse cx="577.1" cy="132.0" rx="1.51" ry="2.73" fill="url(#yb)"/>
<ellipse cx="580.4" cy="137.3" rx="1.28" ry="2.31" fill="url(#yb)"/>
<ellipse cx="583.6" cy="140.7" rx="1.28" ry="1.28" fill="url(#yb)"/>
<ellipse cx="602.4" cy="141.3" rx="1.36" ry="1.45" fill="url(#yb)"/>
<ellipse cx="606.9" cy="137.6" rx="1.23" ry="1.30" fill="url(#yb)"/>
<ellipse cx="610.7" cy="136.0" rx="1.28" ry="2.31" fill="url(#yb)"/>
<ellipse cx="633.3" cy="136.0" rx="1.62" ry="2.94" fill="url(#yb)"/>
<ellipse cx="637.6" cy="140.0" rx="1.54" ry="1.54" fill="url(#yb)"/>
<ellipse cx="648.7" cy="134.7" rx="1.51" ry="2.73" fill="url(#yb)"/>
<ellipse cx="659.7" cy="134.4" rx="1.62" ry="2.94" fill="url(#yb)"/>
<ellipse cx="659.7" cy="139.3" rx="1.52" ry="2.60" fill="url(#yb)"/>
<ellipse cx="670.0" cy="141.3" rx="1.23" ry="1.30" fill="url(#yb)"/>
<ellipse cx="674.0" cy="131.3" rx="1.50" ry="1.59" fill="url(#yb)"/>
<ellipse cx="681.3" cy="118.9" rx="1.16" ry="2.10" fill="url(#yb)"/>
<ellipse cx="680.7" cy="124.7" rx="1.28" ry="1.28" fill="url(#yb)"/>
<ellipse cx="686.4" cy="123.3" rx="1.04" ry="1.89" fill="url(#yb)"/>
<ellipse cx="684.3" cy="130.9" rx="1.79" ry="1.79" fill="url(#yb)"/>
<ellipse cx="694.0" cy="132.3" rx="1.51" ry="2.73" fill="url(#yb)"/>
<ellipse cx="691.3" cy="137.1" rx="0.98" ry="1.67" fill="url(#yb)"/>
<ellipse cx="738.9" cy="73.3" rx="1.36" ry="1.45" fill="url(#yb)"/>
<ellipse cx="740.4" cy="78.0" rx="1.51" ry="2.73" fill="url(#yb)"/>
<ellipse cx="740.8" cy="81.6" rx="1.20" ry="2.04" fill="url(#yb)"/>
<ellipse cx="751.7" cy="73.1" rx="1.23" ry="1.30" fill="url(#yb)"/>
<ellipse cx="762.4" cy="73.6" rx="1.36" ry="1.45" fill="url(#yb)"/>
<ellipse cx="775.3" cy="77.6" rx="1.28" ry="1.28" fill="url(#yb)"/>
<ellipse cx="791.1" cy="74.7" rx="1.62" ry="2.94" fill="url(#yb)"/>
<ellipse cx="786.0" cy="93.3" rx="1.67" ry="1.67" fill="url(#yb)"/>
<ellipse cx="727.3" cy="94.9" rx="1.79" ry="1.79" fill="url(#yb)"/>
<ellipse cx="728.3" cy="100.3" rx="2.18" ry="2.31" fill="url(#yb)"/>
<ellipse cx="720.0" cy="100.7" rx="1.50" ry="1.59" fill="url(#yb)"/>
<ellipse cx="734.9" cy="102.0" rx="1.42" ry="2.42" fill="url(#yb)"/>
<ellipse cx="741.1" cy="105.6" rx="1.20" ry="2.04" fill="url(#yb)"/>
<ellipse cx="706.7" cy="104.7" rx="1.50" ry="1.59" fill="url(#yb)"/>
<ellipse cx="701.1" cy="105.3" rx="1.09" ry="1.16" fill="url(#yb)"/>
<ellipse cx="746.3" cy="111.3" rx="1.28" ry="2.31" fill="url(#yb)"/>
<ellipse cx="746.9" cy="118.7" rx="1.15" ry="1.15" fill="url(#yb)"/>
<ellipse cx="748.7" cy="124.7" rx="1.03" ry="1.03" fill="url(#yb)"/>
<ellipse cx="756.0" cy="123.3" rx="2.46" ry="2.60" fill="url(#yb)"/>
<ellipse cx="762.3" cy="121.7" rx="1.09" ry="1.16" fill="url(#yb)"/>
<ellipse cx="769.1" cy="118.0" rx="1.28" ry="1.28" fill="url(#yb)"/>
<ellipse cx="781.6" cy="112.0" rx="1.62" ry="2.94" fill="url(#yb)"/>
<ellipse cx="787.3" cy="116.0" rx="1.50" ry="1.59" fill="url(#yb)"/>
<ellipse cx="789.1" cy="125.1" rx="1.15" ry="1.15" fill="url(#yb)"/>
<ellipse cx="798.9" cy="128.0" rx="1.28" ry="2.31" fill="url(#yb)"/>
<ellipse cx="809.3" cy="128.0" rx="1.28" ry="1.28" fill="url(#yb)"/>
<ellipse cx="818.4" cy="126.9" rx="1.86" ry="3.36" fill="url(#yb)"/>
<ellipse cx="828.7" cy="126.7" rx="1.92" ry="1.92" fill="url(#yb)"/>
<ellipse cx="833.3" cy="120.3" rx="1.20" ry="2.04" fill="url(#yb)"/>
<ellipse cx="801.3" cy="102.9" rx="1.28" ry="2.31" fill="url(#yb)"/>
<ellipse cx="805.7" cy="104.7" rx="1.28" ry="1.28" fill="url(#yb)"/>
<ellipse cx="810.0" cy="106.7" rx="1.28" ry="1.28" fill="url(#yb)"/>
<ellipse cx="814.3" cy="108.3" rx="1.15" ry="1.15" fill="url(#yb)"/>
<ellipse cx="823.7" cy="112.7" rx="1.36" ry="1.45" fill="url(#yb)"/>
<ellipse cx="829.1" cy="110.7" rx="1.28" ry="2.31" fill="url(#yb)"/>
<ellipse cx="833.3" cy="113.3" rx="1.36" ry="1.45" fill="url(#yb)"/>
<ellipse cx="840.3" cy="114.0" rx="1.23" ry="1.30" fill="url(#yb)"/>
<ellipse cx="841.6" cy="108.0" rx="1.03" ry="1.03" fill="url(#yb)"/>
<ellipse cx="742.9" cy="127.3" rx="1.54" ry="1.54" fill="url(#yb)"/>
<ellipse cx="742.9" cy="130.7" rx="1.03" ry="1.03" fill="url(#yb)"/>
<ellipse cx="737.7" cy="132.0" rx="1.39" ry="2.52" fill="url(#yb)"/>
<ellipse cx="732.0" cy="136.7" rx="1.20" ry="2.04" fill="url(#yb)"/>
<ellipse cx="726.3" cy="138.0" rx="1.62" ry="2.94" fill="url(#yb)"/>
<ellipse cx="758.0" cy="132.7" rx="1.15" ry="1.15" fill="url(#yb)"/>
<ellipse cx="795.6" cy="134.7" rx="1.28" ry="2.31" fill="url(#yb)"/>
<ellipse cx="822.3" cy="138.0" rx="1.31" ry="2.23" fill="url(#yb)"/>
<ellipse cx="609.1" cy="5.5" rx="1.16" ry="1.16" fill="url(#rd)"/>
<ellipse cx="619.7" cy="6.5" rx="1.48" ry="1.24" fill="url(#rd)"/>
<ellipse cx="619.8" cy="9.2" rx="1.82" ry="1.65" fill="url(#rd)"/>
<ellipse cx="632.5" cy="10.9" rx="2.08" ry="2.08" fill="url(#rd)"/>
<ellipse cx="647.9" cy="6.6" rx="1.39" ry="1.39" fill="url(#rd)"/>
<ellipse cx="655.9" cy="6.8" rx="1.39" ry="1.39" fill="url(#rd)"/>
<ellipse cx="642.9" cy="14.2" rx="1.16" ry="1.16" fill="url(#rd)"/>
<ellipse cx="649.8" cy="20.4" rx="0.93" ry="0.93" fill="url(#rd)"/>
<ellipse cx="696.1" cy="27.4" rx="1.40" ry="1.09" fill="url(#rd)"/>
<ellipse cx="695.3" cy="29.8" rx="1.37" ry="1.15" fill="url(#rd)"/>
<ellipse cx="675.1" cy="32.2" rx="1.74" ry="1.71" fill="url(#rd)"/>
<ellipse cx="676.9" cy="35.2" rx="1.62" ry="1.30" fill="url(#rd)"/>
<ellipse cx="681.7" cy="32.1" rx="0.81" ry="0.81" fill="url(#rd)"/>
<ellipse cx="595.3" cy="41.0" rx="1.22" ry="1.04" fill="url(#rd)"/>
<ellipse cx="594.0" cy="43.2" rx="1.01" ry="1.05" fill="url(#rd)"/>
<ellipse cx="604.6" cy="41.8" rx="1.27" ry="1.27" fill="url(#rd)"/>
<ellipse cx="629.0" cy="40.3" rx="1.27" ry="1.27" fill="url(#rd)"/>
<ellipse cx="637.4" cy="36.2" rx="1.16" ry="1.16" fill="url(#rd)"/>
<ellipse cx="644.7" cy="34.9" rx="1.32" ry="1.19" fill="url(#rd)"/>
<ellipse cx="645.5" cy="36.7" rx="1.16" ry="0.88" fill="url(#rd)"/>
<ellipse cx="664.6" cy="40.6" rx="1.16" ry="1.16" fill="url(#rd)"/>
<ellipse cx="677.2" cy="46.5" rx="1.39" ry="1.39" fill="url(#rd)"/>
<ellipse cx="561.2" cy="49.0" rx="1.16" ry="1.16" fill="url(#rd)"/>
<ellipse cx="572.2" cy="50.4" rx="1.14" ry="1.24" fill="url(#rd)"/>
<ellipse cx="573.9" cy="52.3" rx="1.27" ry="1.24" fill="url(#rd)"/>
<ellipse cx="579.1" cy="50.1" rx="1.16" ry="1.16" fill="url(#rd)"/>
<ellipse cx="593.2" cy="61.6" rx="1.16" ry="1.16" fill="url(#rd)"/>
<ellipse cx="597.8" cy="65.6" rx="1.04" ry="1.04" fill="url(#rd)"/>
<ellipse cx="619.8" cy="65.4" rx="1.16" ry="1.13" fill="url(#rd)"/>
<ellipse cx="619.7" cy="67.8" rx="1.37" ry="0.99" fill="url(#rd)"/>
<ellipse cx="668.7" cy="53.9" rx="1.00" ry="0.84" fill="url(#rd)"/>
<ellipse cx="668.6" cy="55.5" rx="1.11" ry="0.93" fill="url(#rd)"/>
<ellipse cx="684.5" cy="55.0" rx="1.16" ry="1.16" fill="url(#rd)"/>
<ellipse cx="689.5" cy="55.4" rx="1.16" ry="1.16" fill="url(#rd)"/>
<ellipse cx="585.5" cy="70.8" rx="0.69" ry="0.69" fill="url(#rd)"/>
<ellipse cx="718.8" cy="11.0" rx="1.09" ry="0.90" fill="url(#rd)"/>
<ellipse cx="718.0" cy="12.7" rx="1.03" ry="0.95" fill="url(#rd)"/>
<ellipse cx="706.3" cy="15.6" rx="1.27" ry="1.27" fill="url(#rd)"/>
<ellipse cx="717.9" cy="25.2" rx="1.05" ry="1.10" fill="url(#rd)"/>
<ellipse cx="719.4" cy="26.8" rx="0.91" ry="1.00" fill="url(#rd)"/>
<ellipse cx="760.0" cy="20.4" rx="1.13" ry="0.95" fill="url(#rd)"/>
<ellipse cx="759.2" cy="22.4" rx="1.12" ry="1.18" fill="url(#rd)"/>
<ellipse cx="767.6" cy="20.0" rx="0.93" ry="0.93" fill="url(#rd)"/>
<ellipse cx="772.5" cy="18.8" rx="0.93" ry="0.93" fill="url(#rd)"/>
<ellipse cx="780.2" cy="18.8" rx="1.18" ry="1.14" fill="url(#rd)"/>
<ellipse cx="779.8" cy="20.7" rx="1.26" ry="1.11" fill="url(#rd)"/>
<ellipse cx="787.5" cy="18.6" rx="1.51" ry="1.46" fill="url(#rd)"/>
<ellipse cx="787.9" cy="21.3" rx="1.75" ry="1.26" fill="url(#rd)"/>
<ellipse cx="754.6" cy="33.3" rx="0.94" ry="0.91" fill="url(#rd)"/>
<ellipse cx="755.2" cy="34.9" rx="1.07" ry="0.88" fill="url(#rd)"/>
<ellipse cx="745.2" cy="45.9" rx="1.19" ry="1.27" fill="url(#rd)"/>
<ellipse cx="746.3" cy="48.2" rx="1.33" ry="1.09" fill="url(#rd)"/>
<ellipse cx="735.5" cy="48.4" rx="1.27" ry="0.96" fill="url(#rd)"/>
<ellipse cx="734.6" cy="50.8" rx="0.99" ry="1.10" fill="url(#rd)"/>
<ellipse cx="707.6" cy="60.3" rx="1.50" ry="1.50" fill="url(#rd)"/>
<ellipse cx="729.3" cy="62.9" rx="1.04" ry="1.04" fill="url(#rd)"/>
<ellipse cx="734.1" cy="63.3" rx="1.04" ry="1.04" fill="url(#rd)"/>
<ellipse cx="752.5" cy="71.1" rx="0.69" ry="0.69" fill="url(#rd)"/>
<ellipse cx="791.2" cy="68.4" rx="0.97" ry="1.08" fill="url(#rd)"/>
<ellipse cx="790.1" cy="70.5" rx="0.97" ry="1.00" fill="url(#rd)"/>
<ellipse cx="816.7" cy="37.7" rx="1.05" ry="0.80" fill="url(#rd)"/>
<ellipse cx="815.3" cy="39.3" rx="0.94" ry="1.00" fill="url(#rd)"/>
<ellipse cx="833.1" cy="45.4" rx="1.27" ry="1.27" fill="url(#rd)"/>
<ellipse cx="818.8" cy="49.8" rx="0.96" ry="1.01" fill="url(#rd)"/>
<ellipse cx="819.8" cy="51.6" rx="0.91" ry="0.90" fill="url(#rd)"/>
<ellipse cx="610.0" cy="82.3" rx="1.04" ry="1.04" fill="url(#rd)"/>
<ellipse cx="616.1" cy="83.8" rx="1.05" ry="0.76" fill="url(#rd)"/>
<ellipse cx="614.6" cy="85.7" rx="1.11" ry="0.81" fill="url(#rd)"/>
<ellipse cx="620.6" cy="90.6" rx="0.89" ry="0.92" fill="url(#rd)"/>
<ellipse cx="622.0" cy="92.0" rx="0.91" ry="0.79" fill="url(#rd)"/>
<ellipse cx="629.2" cy="95.7" rx="1.32" ry="1.13" fill="url(#rd)"/>
<ellipse cx="628.9" cy="98.0" rx="1.19" ry="1.27" fill="url(#rd)"/>
<ellipse cx="635.2" cy="96.9" rx="0.98" ry="0.77" fill="url(#rd)"/>
<ellipse cx="634.7" cy="98.7" rx="0.83" ry="0.90" fill="url(#rd)"/>
<ellipse cx="670.0" cy="80.0" rx="1.09" ry="0.87" fill="url(#rd)"/>
<ellipse cx="670.0" cy="82.0" rx="1.08" ry="0.94" fill="url(#rd)"/>
<ellipse cx="675.7" cy="79.9" rx="1.10" ry="0.97" fill="url(#rd)"/>
<ellipse cx="676.9" cy="81.5" rx="1.21" ry="0.92" fill="url(#rd)"/>
<ellipse cx="692.7" cy="105.6" rx="1.27" ry="0.98" fill="url(#rd)"/>
<ellipse cx="694.5" cy="107.6" rx="1.19" ry="1.24" fill="url(#rd)"/>
<ellipse cx="558.4" cy="112.8" rx="1.25" ry="1.00" fill="url(#rd)"/>
<ellipse cx="559.5" cy="115.0" rx="1.25" ry="1.14" fill="url(#rd)"/>
<ellipse cx="612.3" cy="115.2" rx="1.42" ry="1.38" fill="url(#rd)"/>
<ellipse cx="613.0" cy="117.6" rx="1.46" ry="1.07" fill="url(#rd)"/>
<ellipse cx="573.8" cy="126.9" rx="1.55" ry="1.23" fill="url(#rd)"/>
<ellipse cx="574.2" cy="129.3" rx="1.41" ry="1.19" fill="url(#rd)"/>
<ellipse cx="577.6" cy="130.8" rx="1.31" ry="1.32" fill="url(#rd)"/>
<ellipse cx="576.6" cy="133.2" rx="1.44" ry="0.99" fill="url(#rd)"/>
<ellipse cx="580.1" cy="136.6" rx="1.12" ry="1.06" fill="url(#rd)"/>
<ellipse cx="580.7" cy="138.5" rx="0.91" ry="1.10" fill="url(#rd)"/>
<ellipse cx="602.2" cy="141.2" rx="1.16" ry="1.16" fill="url(#rd)"/>
<ellipse cx="606.8" cy="137.8" rx="1.04" ry="1.04" fill="url(#rd)"/>
<ellipse cx="609.9" cy="135.0" rx="0.95" ry="0.82" fill="url(#rd)"/>
<ellipse cx="611.4" cy="136.8" rx="0.94" ry="0.89" fill="url(#rd)"/>
<ellipse cx="634.3" cy="134.9" rx="1.25" ry="1.19" fill="url(#rd)"/>
<ellipse cx="632.3" cy="137.2" rx="1.23" ry="1.27" fill="url(#rd)"/>
<ellipse cx="649.0" cy="133.3" rx="1.34" ry="1.27" fill="url(#rd)"/>
<ellipse cx="648.3" cy="136.0" rx="1.09" ry="1.05" fill="url(#rd)"/>
<ellipse cx="659.9" cy="133.3" rx="1.26" ry="1.11" fill="url(#rd)"/>
<ellipse cx="659.6" cy="135.3" rx="1.42" ry="1.36" fill="url(#rd)"/>
<ellipse cx="670.0" cy="141.4" rx="1.04" ry="1.04" fill="url(#rd)"/>
<ellipse cx="674.1" cy="131.3" rx="1.27" ry="1.27" fill="url(#rd)"/>
<ellipse cx="680.7" cy="118.1" rx="0.86" ry="1.00" fill="url(#rd)"/>
<ellipse cx="682.0" cy="120.0" rx="0.94" ry="0.92" fill="url(#rd)"/>
<ellipse cx="686.7" cy="122.4" rx="0.87" ry="0.66" fill="url(#rd)"/>
<ellipse cx="686.1" cy="124.0" rx="0.83" ry="0.88" fill="url(#rd)"/>
<ellipse cx="693.6" cy="131.1" rx="1.10" ry="1.00" fill="url(#rd)"/>
<ellipse cx="694.4" cy="133.1" rx="1.41" ry="1.04" fill="url(#rd)"/>
<ellipse cx="738.9" cy="73.6" rx="1.16" ry="1.16" fill="url(#rd)"/>
<ellipse cx="740.9" cy="76.7" rx="1.17" ry="1.23" fill="url(#rd)"/>
<ellipse cx="739.9" cy="79.3" rx="1.08" ry="1.20" fill="url(#rd)"/>
<ellipse cx="752.0" cy="72.9" rx="1.04" ry="1.04" fill="url(#rd)"/>
<ellipse cx="762.2" cy="73.8" rx="1.16" ry="1.16" fill="url(#rd)"/>
<ellipse cx="790.3" cy="73.6" rx="1.48" ry="1.37" fill="url(#rd)"/>
<ellipse cx="791.8" cy="75.8" rx="1.21" ry="1.34" fill="url(#rd)"/>
<ellipse cx="728.5" cy="100.5" rx="1.85" ry="1.85" fill="url(#rd)"/>
<ellipse cx="719.8" cy="100.7" rx="1.27" ry="1.27" fill="url(#rd)"/>
<ellipse cx="706.8" cy="104.8" rx="1.27" ry="1.27" fill="url(#rd)"/>
<ellipse cx="700.9" cy="105.5" rx="0.93" ry="0.93" fill="url(#rd)"/>
<ellipse cx="746.0" cy="110.4" rx="1.00" ry="0.82" fill="url(#rd)"/>
<ellipse cx="746.5" cy="112.5" rx="1.10" ry="0.80" fill="url(#rd)"/>
<ellipse cx="756.0" cy="123.1" rx="2.08" ry="2.08" fill="url(#rd)"/>
<ellipse cx="762.3" cy="121.7" rx="0.93" ry="0.93" fill="url(#rd)"/>
<ellipse cx="780.7" cy="110.8" rx="1.26" ry="1.20" fill="url(#rd)"/>
<ellipse cx="782.5" cy="113.3" rx="1.35" ry="1.09" fill="url(#rd)"/>
<ellipse cx="787.6" cy="116.0" rx="1.27" ry="1.27" fill="url(#rd)"/>
<ellipse cx="799.4" cy="126.9" rx="1.16" ry="0.95" fill="url(#rd)"/>
<ellipse cx="798.5" cy="129.0" rx="1.07" ry="1.01" fill="url(#rd)"/>
<ellipse cx="819.0" cy="125.8" rx="1.65" ry="1.55" fill="url(#rd)"/>
<ellipse cx="817.8" cy="128.6" rx="1.69" ry="1.28" fill="url(#rd)"/>
<ellipse cx="800.6" cy="102.1" rx="1.00" ry="1.10" fill="url(#rd)"/>
<ellipse cx="802.0" cy="104.0" rx="0.95" ry="0.92" fill="url(#rd)"/>
<ellipse cx="823.6" cy="112.8" rx="1.16" ry="1.16" fill="url(#rd)"/>
<ellipse cx="828.6" cy="109.8" rx="0.96" ry="0.87" fill="url(#rd)"/>
<ellipse cx="829.5" cy="111.4" rx="1.21" ry="0.83" fill="url(#rd)"/>
<ellipse cx="833.2" cy="113.1" rx="1.16" ry="1.16" fill="url(#rd)"/>
<ellipse cx="840.2" cy="114.1" rx="1.04" ry="1.04" fill="url(#rd)"/>
<ellipse cx="738.5" cy="131.0" rx="1.25" ry="0.90" fill="url(#rd)"/>
<ellipse cx="736.9" cy="132.8" rx="1.05" ry="1.02" fill="url(#rd)"/>
<ellipse cx="725.3" cy="136.7" rx="1.53" ry="1.05" fill="url(#rd)"/>
<ellipse cx="727.2" cy="139.2" rx="1.55" ry="1.18" fill="url(#rd)"/>
<ellipse cx="795.8" cy="133.7" rx="1.21" ry="0.96" fill="url(#rd)"/>
<ellipse cx="795.4" cy="135.6" rx="1.00" ry="1.05" fill="url(#rd)"/>
</g></g>
<polygon points="557.0,71.9 584.0,72.4 585.0,73.5 584.0,74.5 557.0,74.4" fill="#fff" stroke="#fff" stroke-width="0.5" stroke-linejoin="round"/>
<rect x="557.0" y="144.7" width="286.5" height="2.5" fill="#ececec"/>
<clipPath id="kb2"><rect x="557.0" y="147.0" width="286.4" height="141.8"/></clipPath>
<g clip-path="url(#kb2)">
<rect x="555.0" y="145.0" width="290.4" height="145.8" fill="#8a8a8a"/>
<g filter="url(#jag)">
<polygon points="556.0,172.7 702.7,172.7 702.7,292.7 556.0,292.7" fill="#b3b3b3"/>
<polygon points="556.0,146.0 588.7,146.0 586.0,162.0 582.7,174.0 579.3,182.0 582.0,188.9 573.3,194.0 564.0,195.6 556.0,192.7" fill="#9e9e9e"/>
<polygon points="588.0,146.0 641.3,146.0 648.0,150.0 641.3,156.7 649.3,163.3 651.7,176.9 630.7,178.7 612.0,184.7 596.0,185.6 589.3,184.7 582.7,187.6 579.3,183.3 582.7,174.0 586.0,162.0" fill="#4e4e4e"/>
<polygon points="641.3,146.0 716.0,146.0 716.0,154.0 700.0,167.3 689.3,176.7 680.0,187.6 676.0,190.0 662.7,182.3 654.7,178.3 651.5,176.9 649.3,163.3 641.3,156.7 648.0,150.0" fill="#d0d0d0"/>
<polygon points="556.0,192.7 564.0,195.6 566.0,203.3 562.7,210.0 561.3,218.7 556.0,218.7" fill="#7e7e7e"/>
<polygon points="670.7,166.0 677.3,165.3 678.7,170.0 676.7,174.7 681.3,176.4 678.9,179.6 674.7,176.4 671.3,171.3" fill="#505050"/>
<polygon points="564.0,195.6 573.3,194.0 578.7,195.6 589.3,206.0 600.0,213.3 604.0,220.7 561.3,220.7 562.7,210.0 566.0,203.3" fill="#cbcbcb"/>
<polygon points="582.0,188.9 589.3,184.9 596.0,185.9 612.0,184.9 630.7,178.9 651.5,177.2 662.7,182.5 676.0,190.3 681.3,198.3 657.3,198.9 646.7,204.3 637.3,204.9 625.3,206.9 614.7,210.3 600.0,213.3 589.3,206.0 578.7,195.6" fill="#a8a8a8"/>
<polygon points="700.0,168.7 702.7,167.3 708.0,158.0 717.3,151.3 714.0,146.0 763.3,146.0 765.3,155.3 756.0,168.7 753.3,176.7 745.3,192.9 733.3,192.9 720.0,203.6 700.0,199.3 680.0,198.0 681.3,187.6 689.3,176.7" fill="#787878"/>
<polygon points="762.7,146.0 796.7,146.0 797.6,154.0 793.3,159.6 780.0,162.3 769.3,159.6 765.3,155.3" fill="#6a6a6a"/>
<polygon points="765.3,155.3 769.3,159.6 780.0,162.3 793.3,159.6 797.6,154.0 796.3,146.0 806.7,146.0 806.7,168.7 824.0,172.7 816.0,182.0 820.0,182.3 829.3,187.6 813.3,196.3 805.3,204.9 793.3,215.6 792.0,220.7 742.7,220.7 738.7,212.7 726.7,208.7 713.3,203.3 700.0,199.3 720.0,203.6 733.3,192.9 745.3,192.9 753.3,176.7 756.0,168.7" fill="#868686"/>
<polygon points="804.0,146.0 846.7,146.0 846.7,188.9 829.3,187.6 820.0,182.3 816.0,182.0 824.0,172.7 806.7,168.7" fill="#9c9c9c"/>
<polygon points="829.3,187.6 846.7,188.9 846.7,220.7 792.0,220.7 793.3,215.6 805.3,204.9 813.3,196.3" fill="#707070"/>
<polygon points="556.0,215.7 600.0,215.7 606.7,227.7 617.3,238.3 622.7,246.3 618.7,254.3 612.0,263.7 614.7,273.0 609.3,279.7 602.7,287.7 601.3,291.7 582.7,291.7 573.3,277.0 564.0,265.0 556.0,257.7" fill="#cbcbcb"/>
<polygon points="618.7,254.3 622.7,246.3 617.3,238.3 638.7,238.6 653.3,237.9 669.3,237.0 672.0,225.0 702.7,225.0 702.7,251.9 689.3,254.6 682.7,261.3 676.0,270.6 672.0,279.9 649.3,283.9 636.0,281.3 630.7,286.6 625.3,278.6 614.7,273.3 612.0,263.7" fill="#b3b3b3"/>
<polygon points="556.0,257.7 564.0,265.0 573.3,277.0 583.3,291.7 556.0,291.7" fill="#a6a6a6"/>
<polygon points="612.0,273.0 618.7,277.0 628.0,279.7 634.0,291.7 600.7,291.7 609.3,279.7" fill="#5e5e5e"/>
<polygon points="702.7,251.9 689.3,254.6 682.7,261.3 676.0,270.6 672.0,279.9 649.3,283.9 636.0,281.3 630.7,286.6 634.0,291.7 702.7,291.7" fill="#d6d6d6"/>
<polygon points="689.3,254.6 694.7,253.0 700.0,253.7 700.7,261.3 696.0,261.7 692.0,259.9" fill="#4c4c4c"/>
<polygon points="678.0,266.6 682.7,265.7 684.7,269.3 680.0,270.6" fill="#585858"/>
<polygon points="682.7,269.7 693.3,269.3 690.9,277.0 684.3,275.7" fill="#4c4c4c"/>
<polygon points="689.3,281.7 697.6,282.3 696.0,285.3 690.7,284.3" fill="#585858"/>
<polygon points="670.0,223.0 674.0,223.4 673.3,227.7 670.4,227.4" fill="#707070"/>
<polygon points="697.3,201.0 741.3,215.7 738.7,223.7 728.0,241.0 720.0,249.0 706.7,251.9 697.3,250.3" fill="#b3b3b3"/>
<polygon points="740.7,216.3 753.3,217.7 769.3,219.4 786.0,222.3 789.6,234.3 788.3,250.3 782.7,258.6 772.0,263.9 758.7,269.3 750.7,267.9 745.3,258.6 736.0,250.6 727.7,242.3 738.7,223.7" fill="#c3c3c3"/>
<polygon points="744.0,211.7 792.0,211.7 786.0,222.3 769.3,219.4 753.3,217.7" fill="#888888"/>
<polygon points="790.7,214.3 846.7,214.3 846.7,258.6 833.3,259.9 820.0,255.9 806.7,250.6 798.7,246.6 792.0,239.9 789.6,234.3 786.0,222.3" fill="#787878"/>
<polygon points="697.3,250.3 706.7,251.9 714.7,251.9 717.3,261.0 720.0,273.0 725.3,283.7 727.3,291.7 697.3,291.7" fill="#dbdbdb"/>
<polygon points="714.7,251.9 726.7,243.7 736.0,250.6 745.3,258.6 748.3,267.7 745.3,273.3 734.7,279.9 729.6,286.6 725.3,283.7 720.0,273.0 717.3,261.0 712.0,255.9" fill="#4a4a4a"/>
<polygon points="698.7,253.3 705.3,251.7 702.9,258.3 698.7,259.9" fill="#505050"/>
<polygon points="712.0,285.0 720.0,283.7 721.3,287.7 713.3,289.7" fill="#505050"/>
<polygon points="745.3,273.3 750.7,267.9 758.7,269.3 772.0,263.9 782.7,258.6 790.7,262.6 793.3,270.6 796.3,275.9 796.3,291.7 727.3,291.7 729.6,286.6 734.7,279.9" fill="#6e6e6e"/>
<polygon points="789.6,234.3 792.0,239.9 798.7,246.6 806.7,250.6 820.0,255.9 833.3,259.9 836.3,267.7 828.0,273.3 813.3,275.9 796.3,275.9 793.3,270.6 790.7,262.6 782.7,258.6 788.3,250.3" fill="#dcdcdc"/>
<polygon points="788.0,255.7 796.0,257.0 805.3,261.0 810.9,267.7 813.6,273.3 801.3,274.6 793.3,270.6 790.7,263.7" fill="#484848"/>
<polygon points="796.3,275.9 813.3,275.9 828.0,273.3 836.3,267.7 833.3,259.9 846.7,258.6 846.7,291.7 796.3,291.7" fill="#9a9a9a"/>
<polygon points="797.2,250.7 798.9,249.8 801.3,250.9 800.6,253.4 798.5,254.1" fill="#505050"/>
<polygon points="801.3,248.9 802.4,248.3 803.9,249.0 803.5,250.6 802.1,251.0" fill="#505050"/>
<polygon points="804.8,252.1 806.3,251.4 808.3,252.3 807.8,254.6 805.9,255.1" fill="#505050"/>
<polygon points="810.4,253.5 811.5,253.0 812.9,253.7 812.5,255.3 811.2,255.7" fill="#505050"/>
<polygon points="813.2,254.9 814.6,254.2 816.5,255.1 816.0,257.1 814.2,257.7" fill="#505050"/>
<polygon points="818.7,258.2 820.3,257.4 822.5,258.4 821.9,260.8 819.9,261.4" fill="#505050"/>
<polygon points="823.1,260.0 824.3,259.4 826.1,260.2 825.6,262.1 824.0,262.6" fill="#505050"/>
<polygon points="827.9,261.7 829.6,260.9 831.9,261.9 831.3,264.5 829.1,265.1" fill="#505050"/>
<polygon points="832.0,264.2 833.1,263.7 834.5,264.3 834.1,265.9 832.8,266.3" fill="#505050"/>
<polygon points="820.3,270.0 821.7,269.3 823.6,270.1 823.0,272.2 821.3,272.7" fill="#505050"/>
<polygon points="816.0,262.9 817.1,262.3 818.5,263.0 818.1,264.6 816.8,265.0" fill="#505050"/>
<polygon points="824.3,268.6 825.1,268.2 826.3,268.7 826.0,270.0 824.9,270.3" fill="#505050"/>
<circle cx="585.3" cy="186.7" r="1.0" fill="#e0e0e0"/>
<circle cx="591.8" cy="185.4" r="0.7" fill="#e0e0e0"/>
<circle cx="597.5" cy="185.7" r="1.1" fill="#e0e0e0"/>
<circle cx="601.7" cy="185.0" r="0.9" fill="#e0e0e0"/>
<circle cx="607.0" cy="184.6" r="0.8" fill="#e0e0e0"/>
<circle cx="614.3" cy="183.7" r="1.0" fill="#e0e0e0"/>
<circle cx="618.7" cy="182.2" r="0.7" fill="#e0e0e0"/>
<circle cx="624.5" cy="180.3" r="1.1" fill="#e0e0e0"/>
<circle cx="630.9" cy="179.1" r="0.9" fill="#e0e0e0"/>
<circle cx="636.8" cy="178.6" r="1.0" fill="#e0e0e0"/>
<circle cx="644.3" cy="177.4" r="0.8" fill="#e0e0e0"/>
<circle cx="648.3" cy="176.7" r="0.8" fill="#e0e0e0"/>
<circle cx="580.7" cy="198.2" r="0.8" fill="#484848"/>
<circle cx="586.2" cy="202.6" r="0.8" fill="#484848"/>
<circle cx="591.4" cy="206.9" r="1.1" fill="#484848"/>
<circle cx="596.1" cy="210.9" r="0.7" fill="#484848"/>
<circle cx="654.1" cy="200.6" r="0.7" fill="#484848"/>
<circle cx="648.7" cy="203.5" r="0.8" fill="#484848"/>
<circle cx="641.8" cy="205.1" r="0.8" fill="#484848"/>
<circle cx="634.7" cy="205.6" r="0.7" fill="#484848"/>
<circle cx="627.2" cy="207.0" r="0.7" fill="#484848"/>
<circle cx="618.2" cy="208.9" r="0.9" fill="#484848"/>
<circle cx="665.5" cy="184.4" r="0.9" fill="#484848"/>
<circle cx="671.2" cy="187.0" r="0.7" fill="#484848"/>
<circle cx="676.6" cy="191.1" r="0.7" fill="#484848"/>
<circle cx="680.0" cy="195.5" r="0.9" fill="#484848"/>
<circle cx="609.3" cy="148.0" r="1.3" fill="#e8e8e8"/>
<circle cx="619.3" cy="150.3" r="1.3" fill="#e8e8e8"/>
<circle cx="632.7" cy="153.3" r="1.3" fill="#e8e8e8"/>
<circle cx="588.7" cy="151.3" r="1.3" fill="#e8e8e8"/>
<circle cx="768.2" cy="158.6" r="0.9" fill="#e0e0e0"/>
<circle cx="774.8" cy="161.5" r="0.7" fill="#e0e0e0"/>
<circle cx="783.5" cy="161.3" r="1.1" fill="#e0e0e0"/>
<circle cx="792.9" cy="160.0" r="0.8" fill="#e0e0e0"/>
<circle cx="762.7" cy="159.0" r="0.9" fill="#e0e0e0"/>
<circle cx="758.9" cy="165.5" r="1.2" fill="#e0e0e0"/>
<circle cx="754.8" cy="172.5" r="0.9" fill="#e0e0e0"/>
<circle cx="752.0" cy="178.8" r="0.9" fill="#e0e0e0"/>
<circle cx="748.2" cy="188.2" r="0.9" fill="#e0e0e0"/>
<circle cx="742.7" cy="192.7" r="1.1" fill="#e0e0e0"/>
<circle cx="733.4" cy="193.2" r="1.1" fill="#e0e0e0"/>
<circle cx="821.6" cy="176.0" r="0.9" fill="#e0e0e0"/>
<circle cx="816.4" cy="182.0" r="1.1" fill="#e0e0e0"/>
<circle cx="824.6" cy="185.5" r="1.0" fill="#e0e0e0"/>
<circle cx="825.3" cy="189.6" r="0.8" fill="#e0e0e0"/>
<circle cx="818.0" cy="194.0" r="1.0" fill="#e0e0e0"/>
<circle cx="810.5" cy="199.3" r="1.1" fill="#e0e0e0"/>
<circle cx="804.1" cy="206.3" r="1.1" fill="#e0e0e0"/>
<circle cx="798.1" cy="212.3" r="1.0" fill="#e0e0e0"/>
<circle cx="601.5" cy="220.3" r="1.1" fill="#484848"/>
<circle cx="605.8" cy="226.2" r="1.0" fill="#484848"/>
<circle cx="609.9" cy="230.7" r="1.0" fill="#484848"/>
<circle cx="614.6" cy="235.8" r="1.0" fill="#484848"/>
<circle cx="619.0" cy="241.2" r="0.9" fill="#484848"/>
<circle cx="621.5" cy="248.2" r="1.0" fill="#484848"/>
<circle cx="619.2" cy="252.9" r="0.7" fill="#484848"/>
<circle cx="615.7" cy="257.9" r="0.8" fill="#484848"/>
<circle cx="612.6" cy="262.7" r="1.0" fill="#484848"/>
<circle cx="565.9" cy="268.2" r="0.7" fill="#484848"/>
<circle cx="570.1" cy="273.1" r="0.7" fill="#484848"/>
<circle cx="575.3" cy="279.2" r="1.0" fill="#484848"/>
<circle cx="579.1" cy="284.2" r="0.9" fill="#484848"/>
<circle cx="621.2" cy="238.3" r="1.0" fill="#484848"/>
<circle cx="628.3" cy="238.1" r="0.9" fill="#484848"/>
<circle cx="636.3" cy="239.0" r="0.9" fill="#484848"/>
<circle cx="642.9" cy="237.9" r="0.7" fill="#484848"/>
<circle cx="650.0" cy="237.7" r="1.0" fill="#484848"/>
<circle cx="658.2" cy="237.6" r="0.8" fill="#484848"/>
<circle cx="665.3" cy="237.1" r="1.1" fill="#484848"/>
</g>
<polygon points="557.0,215.3 570.0,215.6 582.0,216.9 583.2,218.3 582.0,219.3 557.0,219.5" fill="#060606" stroke="#060606" stroke-width="0.5" stroke-linejoin="round"/>
</g>
<rect x="801.9" y="5.8" width="37.3" height="19.8" fill="#fff"/>
<text x="809.0" y="20.8" font-size="18.8" fill="#111">SC</text>
<rect x="803.6" y="148.3" width="37.2" height="19.7" fill="#fff"/>
<text x="810.6" y="163.9" font-size="18.5" fill="#111">FC</text>
<clipPath id="kc1"><rect x="268.9" y="346.1" width="301.4" height="148.7"/></clipPath>
<rect x="268.9" y="346.1" width="301.4" height="148.7" fill="#00007d"/>
<g clip-path="url(#kc1)"><g filter="url(#dj)">
<rect x="265.9" y="343.1" width="307.4" height="154.7" fill="#00007d"/>
<ellipse cx="271.1" cy="348.9" rx="1.40" ry="1.40" fill="url(#ha)"/>
<ellipse cx="281.1" cy="350.5" rx="2.21" ry="3.77" fill="url(#ha)"/>
<ellipse cx="288.8" cy="352.0" rx="1.80" ry="1.80" fill="url(#ha)"/>
<ellipse cx="295.0" cy="352.7" rx="1.70" ry="2.90" fill="url(#ha)"/>
<ellipse cx="300.3" cy="354.3" rx="1.53" ry="2.61" fill="url(#ha)"/>
<ellipse cx="304.3" cy="356.3" rx="1.60" ry="1.60" fill="url(#ha)"/>
<ellipse cx="309.4" cy="354.9" rx="1.87" ry="3.19" fill="url(#ha)"/>
<ellipse cx="318.8" cy="354.7" rx="1.70" ry="2.90" fill="url(#ha)"/>
<ellipse cx="322.9" cy="358.7" rx="1.80" ry="1.80" fill="url(#ha)"/>
<ellipse cx="329.5" cy="358.8" rx="1.70" ry="2.90" fill="url(#ha)"/>
<ellipse cx="333.9" cy="360.8" rx="1.80" ry="1.80" fill="url(#ha)"/>
<ellipse cx="340.4" cy="360.8" rx="1.53" ry="2.61" fill="url(#ha)"/>
<ellipse cx="346.8" cy="360.3" rx="2.00" ry="2.00" fill="url(#ha)"/>
<ellipse cx="353.8" cy="355.4" rx="1.70" ry="2.90" fill="url(#ha)"/>
<ellipse cx="353.2" cy="358.4" rx="1.20" ry="1.20" fill="url(#gb)"/>
<ellipse cx="360.4" cy="351.9" rx="2.04" ry="3.48" fill="url(#ha)"/>
<ellipse cx="365.7" cy="347.6" rx="1.60" ry="1.60" fill="url(#ha)"/>
<ellipse cx="368.2" cy="358.8" rx="1.00" ry="1.00" fill="url(#gb)"/>
<ellipse cx="386.7" cy="360.1" rx="2.60" ry="2.60" fill="url(#ha)"/>
<ellipse cx="386.9" cy="357.9" rx="1.40" ry="1.40" fill="url(#ha)"/>
<ellipse cx="337.0" cy="376.7" rx="1.40" ry="1.40" fill="url(#gb)"/>
<ellipse cx="332.3" cy="392.9" rx="1.60" ry="1.60" fill="url(#ha)"/>
<ellipse cx="332.5" cy="410.6" rx="2.80" ry="2.80" fill="url(#ha)"/>
<ellipse cx="332.7" cy="408.3" rx="1.60" ry="1.60" fill="url(#ha)"/>
<ellipse cx="322.2" cy="416.2" rx="1.70" ry="2.90" fill="url(#ha)"/>
<ellipse cx="313.7" cy="419.3" rx="1.60" ry="1.60" fill="url(#ha)"/>
<ellipse cx="315.3" cy="421.2" rx="1.20" ry="1.20" fill="url(#ha)"/>
<ellipse cx="402.4" cy="373.9" rx="1.60" ry="1.60" fill="url(#ha)"/>
<ellipse cx="400.0" cy="376.7" rx="1.60" ry="1.60" fill="url(#ha)"/>
<ellipse cx="407.1" cy="372.3" rx="1.80" ry="1.80" fill="url(#ha)"/>
<ellipse cx="415.5" cy="371.7" rx="2.40" ry="2.40" fill="url(#ha)"/>
<ellipse cx="415.8" cy="374.8" rx="1.40" ry="1.40" fill="url(#ha)"/>
<ellipse cx="399.6" cy="394.3" rx="1.40" ry="1.40" fill="url(#ha)"/>
<ellipse cx="401.7" cy="397.1" rx="1.80" ry="1.80" fill="url(#ha)"/>
<ellipse cx="407.6" cy="400.0" rx="1.60" ry="1.60" fill="url(#ha)"/>
<ellipse cx="414.7" cy="397.9" rx="1.80" ry="1.80" fill="url(#ha)"/>
<ellipse cx="419.5" cy="405.1" rx="1.80" ry="1.80" fill="url(#ha)"/>
<ellipse cx="406.6" cy="384.7" rx="1.00" ry="1.00" fill="url(#gb)"/>
<ellipse cx="401.0" cy="391.4" rx="1.00" ry="1.00" fill="url(#gb)"/>
<ellipse cx="422.5" cy="372.4" rx="1.60" ry="1.60" fill="url(#ha)"/>
<ellipse cx="425.4" cy="369.3" rx="1.53" ry="2.61" fill="url(#ha)"/>
<ellipse cx="424.9" cy="367.2" rx="1.20" ry="1.20" fill="url(#ha)"/>
<ellipse cx="432.5" cy="370.6" rx="1.60" ry="1.60" fill="url(#ha)"/>
<ellipse cx="437.0" cy="374.3" rx="1.70" ry="2.90" fill="url(#ha)"/>
<ellipse cx="444.1" cy="377.0" rx="1.70" ry="2.90" fill="url(#ha)"/>
<ellipse cx="441.0" cy="363.2" rx="1.60" ry="1.60" fill="url(#ha)"/>
<ellipse cx="446.1" cy="359.8" rx="1.53" ry="2.61" fill="url(#ha)"/>
<ellipse cx="453.7" cy="356.1" rx="1.36" ry="2.32" fill="url(#ha)"/>
<ellipse cx="460.4" cy="355.6" rx="1.70" ry="2.90" fill="url(#ha)"/>
<ellipse cx="467.6" cy="351.9" rx="1.53" ry="2.61" fill="url(#ha)"/>
<ellipse cx="467.9" cy="347.1" rx="1.20" ry="1.20" fill="url(#ha)"/>
<ellipse cx="484.3" cy="349.5" rx="1.60" ry="1.60" fill="url(#ha)"/>
<ellipse cx="501.4" cy="348.1" rx="1.40" ry="1.40" fill="url(#ha)"/>
<ellipse cx="481.5" cy="361.4" rx="1.80" ry="1.80" fill="url(#ha)"/>
<ellipse cx="497.2" cy="360.7" rx="2.04" ry="3.48" fill="url(#ha)"/>
<ellipse cx="497.4" cy="359.0" rx="1.60" ry="1.60" fill="url(#ha)"/>
<ellipse cx="498.7" cy="373.2" rx="1.87" ry="3.19" fill="url(#ha)"/>
<ellipse cx="500.2" cy="378.8" rx="1.00" ry="1.00" fill="url(#gb)"/>
<ellipse cx="538.2" cy="370.5" rx="1.60" ry="1.60" fill="url(#ha)"/>
<ellipse cx="543.6" cy="381.3" rx="0.90" ry="0.90" fill="url(#gb)"/>
<ellipse cx="540.3" cy="390.7" rx="1.20" ry="1.20" fill="url(#gb)"/>
<ellipse cx="541.7" cy="398.2" rx="1.00" ry="1.00" fill="url(#gb)"/>
<ellipse cx="540.2" cy="402.8" rx="1.53" ry="2.61" fill="url(#ha)"/>
<ellipse cx="450.5" cy="384.4" rx="1.60" ry="1.60" fill="url(#ha)"/>
<ellipse cx="448.9" cy="388.5" rx="1.80" ry="1.80" fill="url(#ha)"/>
<ellipse cx="452.8" cy="395.0" rx="1.40" ry="1.40" fill="url(#ha)"/>
<ellipse cx="475.6" cy="387.7" rx="1.80" ry="1.80" fill="url(#ha)"/>
<ellipse cx="493.9" cy="386.5" rx="1.20" ry="1.20" fill="url(#gb)"/>
<ellipse cx="496.0" cy="389.9" rx="1.60" ry="1.60" fill="url(#ha)"/>
<ellipse cx="462.8" cy="399.8" rx="2.04" ry="3.48" fill="url(#ha)"/>
<ellipse cx="473.3" cy="400.4" rx="2.00" ry="2.00" fill="url(#ha)"/>
<ellipse cx="474.9" cy="403.8" rx="1.20" ry="1.20" fill="url(#gb)"/>
<ellipse cx="473.2" cy="406.6" rx="1.20" ry="1.20" fill="url(#gb)"/>
<ellipse cx="468.4" cy="407.1" rx="2.04" ry="3.48" fill="url(#ha)"/>
<ellipse cx="468.6" cy="410.0" rx="1.40" ry="1.40" fill="url(#ha)"/>
<ellipse cx="488.9" cy="402.5" rx="2.40" ry="2.40" fill="url(#ha)"/>
<ellipse cx="420.9" cy="403.2" rx="2.00" ry="2.00" fill="url(#ha)"/>
<ellipse cx="434.1" cy="409.0" rx="2.21" ry="3.77" fill="url(#ha)"/>
<ellipse cx="435.8" cy="413.9" rx="2.04" ry="3.48" fill="url(#ha)"/>
<ellipse cx="443.5" cy="411.5" rx="1.87" ry="3.19" fill="url(#ha)"/>
<ellipse cx="475.7" cy="415.3" rx="1.70" ry="2.90" fill="url(#ha)"/>
<ellipse cx="484.7" cy="410.0" rx="1.00" ry="1.00" fill="url(#gb)"/>
<ellipse cx="469.3" cy="412.6" rx="1.00" ry="1.00" fill="url(#gb)"/>
<ellipse cx="270.4" cy="431.3" rx="1.80" ry="1.80" fill="url(#ha)"/>
<ellipse cx="274.8" cy="429.2" rx="1.80" ry="1.80" fill="url(#ha)"/>
<ellipse cx="280.4" cy="429.2" rx="1.80" ry="1.80" fill="url(#ha)"/>
<ellipse cx="283.9" cy="425.7" rx="1.80" ry="1.80" fill="url(#ha)"/>
<ellipse cx="288.2" cy="426.9" rx="1.70" ry="2.90" fill="url(#ha)"/>
<ellipse cx="293.2" cy="425.1" rx="1.80" ry="1.80" fill="url(#ha)"/>
<ellipse cx="301.6" cy="423.7" rx="1.80" ry="1.80" fill="url(#ha)"/>
<ellipse cx="308.1" cy="424.2" rx="1.20" ry="1.20" fill="url(#gb)"/>
<ellipse cx="314.4" cy="422.3" rx="1.53" ry="2.61" fill="url(#ha)"/>
<ellipse cx="320.8" cy="422.1" rx="1.60" ry="1.60" fill="url(#ha)"/>
<ellipse cx="273.9" cy="427.0" rx="1.00" ry="1.00" fill="url(#gb)"/>
<ellipse cx="269.6" cy="437.6" rx="1.53" ry="2.61" fill="url(#ha)"/>
<ellipse cx="269.8" cy="450.6" rx="1.20" ry="1.20" fill="url(#ha)"/>
<ellipse cx="269.6" cy="464.4" rx="1.20" ry="1.20" fill="url(#ha)"/>
<ellipse cx="269.6" cy="477.9" rx="1.20" ry="1.20" fill="url(#ha)"/>
<ellipse cx="269.7" cy="492.1" rx="1.60" ry="1.60" fill="url(#ha)"/>
<ellipse cx="329.1" cy="430.3" rx="2.00" ry="2.00" fill="url(#ha)"/>
<ellipse cx="333.0" cy="434.4" rx="1.20" ry="1.20" fill="url(#gb)"/>
<ellipse cx="332.7" cy="443.1" rx="1.87" ry="3.19" fill="url(#ha)"/>
<ellipse cx="337.4" cy="455.5" rx="1.40" ry="1.40" fill="url(#gb)"/>
<ellipse cx="343.8" cy="457.7" rx="1.70" ry="2.90" fill="url(#ha)"/>
<ellipse cx="345.4" cy="465.3" rx="1.20" ry="1.20" fill="url(#gb)"/>
<ellipse cx="346.8" cy="462.2" rx="0.90" ry="0.90" fill="url(#gb)"/>
<ellipse cx="348.9" cy="477.5" rx="2.00" ry="2.00" fill="url(#ha)"/>
<ellipse cx="363.4" cy="492.0" rx="2.00" ry="2.00" fill="url(#ha)"/>
<ellipse cx="369.9" cy="485.5" rx="1.70" ry="2.90" fill="url(#ha)"/>
<ellipse cx="370.7" cy="475.6" rx="1.20" ry="1.20" fill="url(#gb)"/>
<ellipse cx="368.6" cy="477.7" rx="0.90" ry="0.90" fill="url(#gb)"/>
<ellipse cx="376.8" cy="468.8" rx="1.70" ry="2.90" fill="url(#ha)"/>
<ellipse cx="382.9" cy="463.5" rx="1.87" ry="3.19" fill="url(#ha)"/>
<ellipse cx="389.6" cy="454.8" rx="1.87" ry="3.19" fill="url(#ha)"/>
<ellipse cx="388.3" cy="444.3" rx="1.80" ry="1.80" fill="url(#ha)"/>
<ellipse cx="386.9" cy="446.7" rx="1.00" ry="1.00" fill="url(#gb)"/>
<ellipse cx="395.9" cy="438.2" rx="1.70" ry="2.90" fill="url(#ha)"/>
<ellipse cx="402.4" cy="428.2" rx="1.53" ry="2.61" fill="url(#ha)"/>
<ellipse cx="402.3" cy="430.8" rx="1.70" ry="2.90" fill="url(#ha)"/>
<ellipse cx="409.9" cy="427.0" rx="1.53" ry="2.61" fill="url(#ha)"/>
<ellipse cx="419.3" cy="430.6" rx="1.20" ry="1.20" fill="url(#gb)"/>
<ellipse cx="383.7" cy="490.8" rx="1.53" ry="2.61" fill="url(#ha)"/>
<ellipse cx="390.4" cy="486.8" rx="1.70" ry="2.90" fill="url(#ha)"/>
<ellipse cx="396.8" cy="481.9" rx="2.04" ry="3.48" fill="url(#ha)"/>
<ellipse cx="402.3" cy="477.7" rx="2.20" ry="2.20" fill="url(#ha)"/>
<ellipse cx="408.6" cy="477.1" rx="1.70" ry="2.90" fill="url(#ha)"/>
<ellipse cx="414.5" cy="471.8" rx="1.70" ry="2.90" fill="url(#ha)"/>
<ellipse cx="419.6" cy="468.7" rx="1.53" ry="2.61" fill="url(#ha)"/>
<ellipse cx="420.7" cy="430.6" rx="1.40" ry="1.40" fill="url(#ha)"/>
<ellipse cx="453.4" cy="424.8" rx="1.80" ry="1.80" fill="url(#ha)"/>
<ellipse cx="467.1" cy="428.6" rx="3.40" ry="3.40" fill="url(#ha)"/>
<ellipse cx="469.3" cy="431.3" rx="1.80" ry="1.80" fill="url(#ha)"/>
<ellipse cx="472.4" cy="430.1" rx="1.80" ry="1.80" fill="url(#ha)"/>
<ellipse cx="490.5" cy="423.6" rx="2.80" ry="2.80" fill="url(#ha)"/>
<ellipse cx="486.4" cy="432.9" rx="1.60" ry="1.60" fill="url(#ha)"/>
<ellipse cx="485.0" cy="438.0" rx="1.60" ry="1.60" fill="url(#ha)"/>
<ellipse cx="486.4" cy="440.8" rx="1.20" ry="1.20" fill="url(#gb)"/>
<ellipse cx="481.2" cy="442.5" rx="1.40" ry="1.40" fill="url(#ha)"/>
<ellipse cx="428.7" cy="442.3" rx="1.87" ry="3.19" fill="url(#ha)"/>
<ellipse cx="433.7" cy="451.3" rx="2.00" ry="2.00" fill="url(#ha)"/>
<ellipse cx="437.9" cy="454.3" rx="1.40" ry="1.40" fill="url(#ha)"/>
<ellipse cx="446.2" cy="451.6" rx="1.80" ry="1.80" fill="url(#ha)"/>
<ellipse cx="454.3" cy="453.1" rx="2.55" ry="4.35" fill="url(#ha)"/>
<ellipse cx="454.9" cy="451.7" rx="1.80" ry="1.80" fill="url(#ha)"/>
<ellipse cx="464.8" cy="456.9" rx="1.20" ry="1.20" fill="url(#gb)"/>
<ellipse cx="468.1" cy="453.4" rx="1.40" ry="1.40" fill="url(#ha)"/>
<ellipse cx="472.8" cy="454.1" rx="1.80" ry="1.80" fill="url(#ha)"/>
<ellipse cx="477.6" cy="455.0" rx="1.80" ry="1.80" fill="url(#ha)"/>
<ellipse cx="481.9" cy="457.3" rx="1.00" ry="1.00" fill="url(#gb)"/>
<ellipse cx="487.3" cy="455.5" rx="2.40" ry="2.40" fill="url(#ha)"/>
<ellipse cx="492.2" cy="458.0" rx="1.20" ry="1.20" fill="url(#gb)"/>
<ellipse cx="496.4" cy="460.7" rx="1.80" ry="1.80" fill="url(#ha)"/>
<ellipse cx="430.1" cy="459.4" rx="1.53" ry="2.61" fill="url(#ha)"/>
<ellipse cx="425.8" cy="463.0" rx="1.70" ry="2.90" fill="url(#ha)"/>
<ellipse cx="420.9" cy="468.8" rx="1.80" ry="1.80" fill="url(#ha)"/>
<ellipse cx="500.9" cy="465.0" rx="1.40" ry="1.40" fill="url(#ha)"/>
<ellipse cx="505.1" cy="467.5" rx="2.00" ry="2.00" fill="url(#ha)"/>
<ellipse cx="500.2" cy="473.7" rx="1.53" ry="2.61" fill="url(#ha)"/>
<ellipse cx="500.2" cy="480.2" rx="1.53" ry="2.61" fill="url(#ha)"/>
<ellipse cx="495.0" cy="479.2" rx="1.70" ry="2.90" fill="url(#ha)"/>
<ellipse cx="504.6" cy="481.9" rx="1.53" ry="2.61" fill="url(#ha)"/>
<ellipse cx="516.5" cy="468.8" rx="2.21" ry="3.77" fill="url(#ha)"/>
<ellipse cx="517.8" cy="473.3" rx="2.04" ry="3.48" fill="url(#ha)"/>
<ellipse cx="516.0" cy="467.1" rx="1.60" ry="1.60" fill="url(#ha)"/>
<ellipse cx="521.6" cy="465.7" rx="1.36" ry="2.32" fill="url(#ha)"/>
<ellipse cx="523.9" cy="459.5" rx="2.04" ry="3.48" fill="url(#ha)"/>
<ellipse cx="528.5" cy="452.9" rx="1.80" ry="1.80" fill="url(#ha)"/>
<ellipse cx="525.7" cy="478.3" rx="2.20" ry="2.20" fill="url(#ha)"/>
<ellipse cx="535.4" cy="447.9" rx="1.20" ry="1.20" fill="url(#gb)"/>
<ellipse cx="539.6" cy="440.8" rx="2.21" ry="3.77" fill="url(#ha)"/>
<ellipse cx="539.4" cy="438.0" rx="1.60" ry="1.60" fill="url(#ha)"/>
<ellipse cx="544.6" cy="435.6" rx="2.40" ry="2.40" fill="url(#ha)"/>
<ellipse cx="541.0" cy="431.8" rx="1.60" ry="1.60" fill="url(#ha)"/>
<ellipse cx="538.2" cy="427.3" rx="1.60" ry="1.60" fill="url(#ha)"/>
<ellipse cx="541.7" cy="422.5" rx="1.60" ry="1.60" fill="url(#ha)"/>
<ellipse cx="543.9" cy="427.0" rx="1.00" ry="1.00" fill="url(#gb)"/>
<ellipse cx="553.9" cy="433.1" rx="2.00" ry="2.00" fill="url(#ha)"/>
<ellipse cx="558.9" cy="433.6" rx="1.80" ry="1.80" fill="url(#ha)"/>
<ellipse cx="566.8" cy="430.8" rx="1.70" ry="2.90" fill="url(#ha)"/>
<ellipse cx="488.8" cy="484.7" rx="2.21" ry="3.77" fill="url(#ha)"/>
<ellipse cx="487.0" cy="489.5" rx="2.04" ry="3.48" fill="url(#ha)"/>
<ellipse cx="489.7" cy="487.8" rx="1.80" ry="1.80" fill="url(#ha)"/>
<ellipse cx="479.4" cy="490.7" rx="1.87" ry="3.19" fill="url(#ha)"/>
<ellipse cx="532.3" cy="487.2" rx="1.60" ry="1.60" fill="url(#ha)"/>
<ellipse cx="536.8" cy="490.8" rx="1.53" ry="2.61" fill="url(#ha)"/>
<ellipse cx="503.0" cy="491.8" rx="1.00" ry="1.00" fill="url(#gb)"/>
<ellipse cx="281.4" cy="350.3" rx="1.46" ry="2.64" fill="url(#yb)"/>
<ellipse cx="288.8" cy="352.0" rx="1.12" ry="1.12" fill="url(#yb)"/>
<ellipse cx="295.2" cy="352.7" rx="1.12" ry="2.03" fill="url(#yb)"/>
<ellipse cx="300.1" cy="354.6" rx="1.01" ry="1.83" fill="url(#yb)"/>
<ellipse cx="309.5" cy="354.6" rx="1.23" ry="2.23" fill="url(#yb)"/>
<ellipse cx="319.0" cy="354.6" rx="1.12" ry="2.03" fill="url(#yb)"/>
<ellipse cx="322.9" cy="358.4" rx="1.12" ry="1.12" fill="url(#yb)"/>
<ellipse cx="329.5" cy="358.8" rx="1.12" ry="2.03" fill="url(#yb)"/>
<ellipse cx="333.9" cy="360.5" rx="1.12" ry="1.12" fill="url(#yb)"/>
<ellipse cx="340.2" cy="360.8" rx="1.01" ry="1.83" fill="url(#yb)"/>
<ellipse cx="346.8" cy="360.2" rx="1.32" ry="1.40" fill="url(#yb)"/>
<ellipse cx="353.6" cy="355.1" rx="1.12" ry="2.03" fill="url(#yb)"/>
<ellipse cx="360.5" cy="351.8" rx="1.35" ry="2.43" fill="url(#yb)"/>
<ellipse cx="365.5" cy="347.8" rx="1.06" ry="1.12" fill="url(#yb)"/>
<ellipse cx="386.9" cy="360.2" rx="1.71" ry="1.82" fill="url(#yb)"/>
<ellipse cx="332.7" cy="410.9" rx="1.85" ry="1.96" fill="url(#yb)"/>
<ellipse cx="322.2" cy="416.1" rx="1.05" ry="1.80" fill="url(#yb)"/>
<ellipse cx="315.1" cy="421.0" rx="0.79" ry="0.84" fill="url(#yb)"/>
<ellipse cx="407.1" cy="372.0" rx="1.12" ry="1.12" fill="url(#yb)"/>
<ellipse cx="415.4" cy="371.7" rx="1.58" ry="1.68" fill="url(#yb)"/>
<ellipse cx="401.7" cy="397.4" rx="1.12" ry="1.12" fill="url(#yb)"/>
<ellipse cx="407.6" cy="399.9" rx="0.99" ry="0.99" fill="url(#yb)"/>
<ellipse cx="414.7" cy="397.8" rx="1.12" ry="1.12" fill="url(#yb)"/>
<ellipse cx="419.6" cy="404.8" rx="1.19" ry="1.26" fill="url(#yb)"/>
<ellipse cx="422.5" cy="372.4" rx="0.99" ry="0.99" fill="url(#yb)"/>
<ellipse cx="425.6" cy="369.6" rx="1.01" ry="1.83" fill="url(#yb)"/>
<ellipse cx="432.4" cy="370.3" rx="1.06" ry="1.12" fill="url(#yb)"/>
<ellipse cx="436.9" cy="374.3" rx="1.12" ry="2.03" fill="url(#yb)"/>
<ellipse cx="443.9" cy="376.7" rx="1.12" ry="2.03" fill="url(#yb)"/>
<ellipse cx="441.1" cy="363.0" rx="1.06" ry="1.12" fill="url(#yb)"/>
<ellipse cx="446.0" cy="359.8" rx="1.01" ry="1.83" fill="url(#yb)"/>
<ellipse cx="453.4" cy="356.0" rx="0.90" ry="1.62" fill="url(#yb)"/>
<ellipse cx="460.1" cy="355.6" rx="1.12" ry="2.03" fill="url(#yb)"/>
<ellipse cx="467.6" cy="351.8" rx="1.01" ry="1.83" fill="url(#yb)"/>
<ellipse cx="484.3" cy="349.2" rx="0.99" ry="0.99" fill="url(#yb)"/>
<ellipse cx="481.5" cy="361.2" rx="1.12" ry="1.12" fill="url(#yb)"/>
<ellipse cx="497.4" cy="360.8" rx="1.35" ry="2.43" fill="url(#yb)"/>
<ellipse cx="497.4" cy="358.8" rx="0.99" ry="0.99" fill="url(#yb)"/>
<ellipse cx="498.4" cy="373.1" rx="1.23" ry="2.23" fill="url(#yb)"/>
<ellipse cx="538.2" cy="370.3" rx="0.99" ry="0.99" fill="url(#yb)"/>
<ellipse cx="539.9" cy="402.4" rx="1.01" ry="1.83" fill="url(#yb)"/>
<ellipse cx="450.3" cy="384.7" rx="1.06" ry="1.12" fill="url(#yb)"/>
<ellipse cx="448.9" cy="388.6" rx="1.12" ry="1.12" fill="url(#yb)"/>
<ellipse cx="475.6" cy="387.9" rx="1.12" ry="1.12" fill="url(#yb)"/>
<ellipse cx="496.0" cy="389.8" rx="0.99" ry="0.99" fill="url(#yb)"/>
<ellipse cx="462.6" cy="400.2" rx="1.35" ry="2.43" fill="url(#yb)"/>
<ellipse cx="473.2" cy="400.2" rx="1.32" ry="1.40" fill="url(#yb)"/>
<ellipse cx="468.6" cy="406.9" rx="1.35" ry="2.43" fill="url(#yb)"/>
<ellipse cx="488.7" cy="402.4" rx="1.58" ry="1.68" fill="url(#yb)"/>
<ellipse cx="420.7" cy="403.4" rx="1.32" ry="1.40" fill="url(#yb)"/>
<ellipse cx="434.1" cy="409.0" rx="1.46" ry="2.64" fill="url(#yb)"/>
<ellipse cx="435.8" cy="413.7" rx="1.35" ry="2.43" fill="url(#yb)"/>
<ellipse cx="443.2" cy="411.2" rx="1.23" ry="2.23" fill="url(#yb)"/>
<ellipse cx="475.6" cy="415.4" rx="1.12" ry="2.03" fill="url(#yb)"/>
<ellipse cx="270.5" cy="431.0" rx="1.19" ry="1.26" fill="url(#yb)"/>
<ellipse cx="275.0" cy="429.1" rx="1.19" ry="1.26" fill="url(#yb)"/>
<ellipse cx="280.4" cy="429.1" rx="1.12" ry="1.12" fill="url(#yb)"/>
<ellipse cx="283.9" cy="425.6" rx="1.12" ry="1.12" fill="url(#yb)"/>
<ellipse cx="288.4" cy="427.3" rx="1.12" ry="2.03" fill="url(#yb)"/>
<ellipse cx="293.3" cy="425.3" rx="1.19" ry="1.26" fill="url(#yb)"/>
<ellipse cx="301.4" cy="423.5" rx="1.19" ry="1.26" fill="url(#yb)"/>
<ellipse cx="314.4" cy="422.1" rx="1.01" ry="1.83" fill="url(#yb)"/>
<ellipse cx="269.7" cy="437.6" rx="1.01" ry="1.83" fill="url(#yb)"/>
<ellipse cx="269.7" cy="450.7" rx="0.79" ry="0.84" fill="url(#yb)"/>
<ellipse cx="269.7" cy="464.8" rx="0.79" ry="0.84" fill="url(#yb)"/>
<ellipse cx="269.7" cy="478.0" rx="0.79" ry="0.84" fill="url(#yb)"/>
<ellipse cx="329.2" cy="430.1" rx="1.32" ry="1.40" fill="url(#yb)"/>
<ellipse cx="332.7" cy="443.2" rx="1.16" ry="1.98" fill="url(#yb)"/>
<ellipse cx="343.6" cy="458.0" rx="1.12" ry="2.03" fill="url(#yb)"/>
<ellipse cx="348.9" cy="477.7" rx="1.24" ry="1.24" fill="url(#yb)"/>
<ellipse cx="363.7" cy="491.8" rx="1.32" ry="1.40" fill="url(#yb)"/>
<ellipse cx="370.0" cy="485.4" rx="1.12" ry="2.03" fill="url(#yb)"/>
<ellipse cx="376.8" cy="468.6" rx="1.12" ry="2.03" fill="url(#yb)"/>
<ellipse cx="382.7" cy="463.3" rx="1.23" ry="2.23" fill="url(#yb)"/>
<ellipse cx="389.5" cy="454.5" rx="1.23" ry="2.23" fill="url(#yb)"/>
<ellipse cx="388.3" cy="444.2" rx="1.12" ry="1.12" fill="url(#yb)"/>
<ellipse cx="395.8" cy="438.6" rx="1.12" ry="2.03" fill="url(#yb)"/>
<ellipse cx="402.4" cy="431.0" rx="1.12" ry="2.03" fill="url(#yb)"/>
<ellipse cx="409.9" cy="426.8" rx="0.95" ry="1.62" fill="url(#yb)"/>
<ellipse cx="383.4" cy="491.1" rx="1.01" ry="1.83" fill="url(#yb)"/>
<ellipse cx="390.4" cy="486.9" rx="1.05" ry="1.80" fill="url(#yb)"/>
<ellipse cx="396.8" cy="481.9" rx="1.35" ry="2.43" fill="url(#yb)"/>
<ellipse cx="402.1" cy="478.0" rx="1.45" ry="1.54" fill="url(#yb)"/>
<ellipse cx="408.7" cy="477.4" rx="1.12" ry="2.03" fill="url(#yb)"/>
<ellipse cx="414.8" cy="472.1" rx="1.12" ry="2.03" fill="url(#yb)"/>
<ellipse cx="419.7" cy="468.6" rx="1.01" ry="1.83" fill="url(#yb)"/>
<ellipse cx="453.4" cy="424.9" rx="1.12" ry="1.12" fill="url(#yb)"/>
<ellipse cx="467.1" cy="428.7" rx="2.24" ry="2.38" fill="url(#yb)"/>
<ellipse cx="472.4" cy="430.1" rx="1.12" ry="1.12" fill="url(#yb)"/>
<ellipse cx="490.4" cy="423.5" rx="1.85" ry="1.96" fill="url(#yb)"/>
<ellipse cx="486.4" cy="432.9" rx="0.99" ry="0.99" fill="url(#yb)"/>
<ellipse cx="485.0" cy="438.0" rx="0.99" ry="0.99" fill="url(#yb)"/>
<ellipse cx="428.7" cy="442.5" rx="1.16" ry="1.98" fill="url(#yb)"/>
<ellipse cx="433.4" cy="451.0" rx="1.32" ry="1.40" fill="url(#yb)"/>
<ellipse cx="437.9" cy="454.2" rx="0.87" ry="0.87" fill="url(#yb)"/>
<ellipse cx="446.0" cy="451.2" rx="1.19" ry="1.26" fill="url(#yb)"/>
<ellipse cx="454.1" cy="453.5" rx="1.68" ry="3.04" fill="url(#yb)"/>
<ellipse cx="472.8" cy="454.1" rx="1.19" ry="1.26" fill="url(#yb)"/>
<ellipse cx="477.4" cy="455.2" rx="1.19" ry="1.26" fill="url(#yb)"/>
<ellipse cx="487.3" cy="455.2" rx="1.58" ry="1.68" fill="url(#yb)"/>
<ellipse cx="496.4" cy="460.4" rx="1.12" ry="1.12" fill="url(#yb)"/>
<ellipse cx="430.1" cy="459.1" rx="0.95" ry="1.62" fill="url(#yb)"/>
<ellipse cx="425.9" cy="463.3" rx="1.12" ry="2.03" fill="url(#yb)"/>
<ellipse cx="420.7" cy="469.0" rx="1.19" ry="1.26" fill="url(#yb)"/>
<ellipse cx="504.9" cy="467.1" rx="1.32" ry="1.40" fill="url(#yb)"/>
<ellipse cx="500.2" cy="473.8" rx="0.95" ry="1.62" fill="url(#yb)"/>
<ellipse cx="495.0" cy="479.4" rx="1.12" ry="2.03" fill="url(#yb)"/>
<ellipse cx="504.9" cy="482.2" rx="1.01" ry="1.83" fill="url(#yb)"/>
<ellipse cx="516.4" cy="469.0" rx="1.46" ry="2.64" fill="url(#yb)"/>
<ellipse cx="518.1" cy="473.2" rx="1.35" ry="2.43" fill="url(#yb)"/>
<ellipse cx="523.9" cy="459.1" rx="1.35" ry="2.43" fill="url(#yb)"/>
<ellipse cx="528.7" cy="453.1" rx="1.19" ry="1.26" fill="url(#yb)"/>
<ellipse cx="525.6" cy="478.0" rx="1.45" ry="1.54" fill="url(#yb)"/>
<ellipse cx="539.4" cy="441.1" rx="1.46" ry="2.64" fill="url(#yb)"/>
<ellipse cx="544.6" cy="435.5" rx="1.49" ry="1.49" fill="url(#yb)"/>
<ellipse cx="541.0" cy="431.5" rx="1.06" ry="1.12" fill="url(#yb)"/>
<ellipse cx="553.7" cy="433.4" rx="1.32" ry="1.40" fill="url(#yb)"/>
<ellipse cx="559.1" cy="433.8" rx="1.19" ry="1.26" fill="url(#yb)"/>
<ellipse cx="566.8" cy="431.0" rx="1.05" ry="1.80" fill="url(#yb)"/>
<ellipse cx="489.0" cy="485.0" rx="1.46" ry="2.64" fill="url(#yb)"/>
<ellipse cx="486.9" cy="489.7" rx="1.35" ry="2.43" fill="url(#yb)"/>
<ellipse cx="479.1" cy="491.1" rx="1.23" ry="2.23" fill="url(#yb)"/>
<ellipse cx="532.3" cy="487.3" rx="0.99" ry="0.99" fill="url(#yb)"/>
<ellipse cx="536.8" cy="491.1" rx="0.95" ry="1.62" fill="url(#yb)"/>
<ellipse cx="282.0" cy="349.5" rx="1.39" ry="1.13" fill="url(#rd)"/>
<ellipse cx="280.8" cy="351.2" rx="1.28" ry="1.12" fill="url(#rd)"/>
<ellipse cx="294.7" cy="351.9" rx="0.88" ry="0.94" fill="url(#rd)"/>
<ellipse cx="295.6" cy="353.6" rx="0.89" ry="0.94" fill="url(#rd)"/>
<ellipse cx="300.1" cy="353.9" rx="0.89" ry="0.67" fill="url(#rd)"/>
<ellipse cx="300.1" cy="355.2" rx="0.86" ry="0.72" fill="url(#rd)"/>
<ellipse cx="309.4" cy="353.8" rx="0.89" ry="0.94" fill="url(#rd)"/>
<ellipse cx="309.6" cy="355.6" rx="1.15" ry="0.81" fill="url(#rd)"/>
<ellipse cx="318.8" cy="353.9" rx="1.06" ry="0.78" fill="url(#rd)"/>
<ellipse cx="319.1" cy="355.5" rx="0.95" ry="0.78" fill="url(#rd)"/>
<ellipse cx="329.8" cy="357.8" rx="0.89" ry="0.92" fill="url(#rd)"/>
<ellipse cx="329.2" cy="359.7" rx="1.05" ry="0.87" fill="url(#rd)"/>
<ellipse cx="340.9" cy="360.2" rx="0.82" ry="0.65" fill="url(#rd)"/>
<ellipse cx="339.5" cy="361.5" rx="0.93" ry="0.83" fill="url(#rd)"/>
<ellipse cx="346.8" cy="360.1" rx="1.12" ry="1.12" fill="url(#rd)"/>
<ellipse cx="353.8" cy="354.1" rx="0.92" ry="0.79" fill="url(#rd)"/>
<ellipse cx="353.3" cy="355.8" rx="1.02" ry="0.91" fill="url(#rd)"/>
<ellipse cx="359.7" cy="351.0" rx="1.23" ry="0.90" fill="url(#rd)"/>
<ellipse cx="361.2" cy="352.5" rx="1.13" ry="1.05" fill="url(#rd)"/>
<ellipse cx="365.7" cy="347.8" rx="0.90" ry="0.90" fill="url(#rd)"/>
<ellipse cx="386.7" cy="360.2" rx="1.45" ry="1.45" fill="url(#rd)"/>
<ellipse cx="332.7" cy="411.0" rx="1.57" ry="1.57" fill="url(#rd)"/>
<ellipse cx="315.3" cy="420.9" rx="0.67" ry="0.67" fill="url(#rd)"/>
<ellipse cx="415.3" cy="371.5" rx="1.34" ry="1.34" fill="url(#rd)"/>
<ellipse cx="419.6" cy="404.9" rx="1.01" ry="1.01" fill="url(#rd)"/>
<ellipse cx="425.1" cy="368.9" rx="0.86" ry="0.83" fill="url(#rd)"/>
<ellipse cx="426.1" cy="370.4" rx="0.85" ry="0.78" fill="url(#rd)"/>
<ellipse cx="432.3" cy="370.3" rx="0.90" ry="0.90" fill="url(#rd)"/>
<ellipse cx="437.5" cy="373.4" rx="0.88" ry="0.81" fill="url(#rd)"/>
<ellipse cx="436.3" cy="375.2" rx="1.04" ry="0.90" fill="url(#rd)"/>
<ellipse cx="444.6" cy="375.8" rx="1.05" ry="0.86" fill="url(#rd)"/>
<ellipse cx="443.3" cy="377.7" rx="0.80" ry="0.85" fill="url(#rd)"/>
<ellipse cx="441.0" cy="362.9" rx="0.90" ry="0.90" fill="url(#rd)"/>
<ellipse cx="445.4" cy="358.9" rx="0.72" ry="0.71" fill="url(#rd)"/>
<ellipse cx="446.6" cy="360.4" rx="0.82" ry="0.75" fill="url(#rd)"/>
<ellipse cx="452.9" cy="355.2" rx="0.66" ry="0.66" fill="url(#rd)"/>
<ellipse cx="453.8" cy="356.8" rx="0.85" ry="0.75" fill="url(#rd)"/>
<ellipse cx="460.3" cy="354.6" rx="0.97" ry="0.90" fill="url(#rd)"/>
<ellipse cx="459.9" cy="356.6" rx="0.93" ry="0.71" fill="url(#rd)"/>
<ellipse cx="468.1" cy="351.0" rx="0.80" ry="0.83" fill="url(#rd)"/>
<ellipse cx="467.1" cy="352.4" rx="0.90" ry="0.76" fill="url(#rd)"/>
<ellipse cx="497.3" cy="359.5" rx="0.99" ry="0.98" fill="url(#rd)"/>
<ellipse cx="497.5" cy="361.8" rx="1.06" ry="1.13" fill="url(#rd)"/>
<ellipse cx="498.9" cy="372.2" rx="0.87" ry="0.94" fill="url(#rd)"/>
<ellipse cx="497.9" cy="374.2" rx="1.08" ry="0.98" fill="url(#rd)"/>
<ellipse cx="540.2" cy="401.7" rx="0.86" ry="0.84" fill="url(#rd)"/>
<ellipse cx="539.6" cy="403.0" rx="0.94" ry="0.64" fill="url(#rd)"/>
<ellipse cx="450.2" cy="384.5" rx="0.90" ry="0.90" fill="url(#rd)"/>
<ellipse cx="462.0" cy="399.0" rx="1.21" ry="1.10" fill="url(#rd)"/>
<ellipse cx="463.3" cy="401.3" rx="1.17" ry="0.97" fill="url(#rd)"/>
<ellipse cx="473.2" cy="400.3" rx="1.12" ry="1.12" fill="url(#rd)"/>
<ellipse cx="468.0" cy="405.8" rx="1.06" ry="1.14" fill="url(#rd)"/>
<ellipse cx="469.2" cy="408.0" rx="1.09" ry="0.96" fill="url(#rd)"/>
<ellipse cx="488.8" cy="402.3" rx="1.34" ry="1.34" fill="url(#rd)"/>
<ellipse cx="420.5" cy="403.6" rx="1.12" ry="1.12" fill="url(#rd)"/>
<ellipse cx="434.9" cy="407.8" rx="1.09" ry="1.27" fill="url(#rd)"/>
<ellipse cx="433.3" cy="409.9" rx="1.15" ry="1.24" fill="url(#rd)"/>
<ellipse cx="436.0" cy="412.9" rx="1.27" ry="1.06" fill="url(#rd)"/>
<ellipse cx="435.5" cy="414.6" rx="0.96" ry="0.85" fill="url(#rd)"/>
<ellipse cx="444.0" cy="410.4" rx="0.98" ry="1.06" fill="url(#rd)"/>
<ellipse cx="442.4" cy="412.0" rx="1.04" ry="1.07" fill="url(#rd)"/>
<ellipse cx="475.9" cy="414.4" rx="0.99" ry="0.77" fill="url(#rd)"/>
<ellipse cx="475.3" cy="416.1" rx="0.95" ry="0.71" fill="url(#rd)"/>
<ellipse cx="270.6" cy="430.9" rx="1.01" ry="1.01" fill="url(#rd)"/>
<ellipse cx="275.2" cy="429.0" rx="1.01" ry="1.01" fill="url(#rd)"/>
<ellipse cx="288.6" cy="426.3" rx="0.80" ry="0.85" fill="url(#rd)"/>
<ellipse cx="288.3" cy="428.0" rx="1.02" ry="0.74" fill="url(#rd)"/>
<ellipse cx="293.3" cy="425.4" rx="1.01" ry="1.01" fill="url(#rd)"/>
<ellipse cx="301.5" cy="423.3" rx="1.01" ry="1.01" fill="url(#rd)"/>
<ellipse cx="314.0" cy="421.3" rx="0.88" ry="0.87" fill="url(#rd)"/>
<ellipse cx="314.9" cy="422.8" rx="0.88" ry="0.86" fill="url(#rd)"/>
<ellipse cx="269.4" cy="436.9" rx="0.88" ry="0.81" fill="url(#rd)"/>
<ellipse cx="270.0" cy="438.3" rx="0.96" ry="0.72" fill="url(#rd)"/>
<ellipse cx="269.6" cy="450.7" rx="0.67" ry="0.67" fill="url(#rd)"/>
<ellipse cx="269.8" cy="464.5" rx="0.67" ry="0.67" fill="url(#rd)"/>
<ellipse cx="269.8" cy="477.9" rx="0.67" ry="0.67" fill="url(#rd)"/>
<ellipse cx="329.3" cy="430.2" rx="1.12" ry="1.12" fill="url(#rd)"/>
<ellipse cx="343.3" cy="457.1" rx="0.87" ry="0.90" fill="url(#rd)"/>
<ellipse cx="343.9" cy="458.9" rx="0.97" ry="0.77" fill="url(#rd)"/>
<ellipse cx="363.6" cy="491.9" rx="1.12" ry="1.12" fill="url(#rd)"/>
<ellipse cx="369.6" cy="484.8" rx="1.03" ry="0.85" fill="url(#rd)"/>
<ellipse cx="370.5" cy="486.4" rx="0.92" ry="0.80" fill="url(#rd)"/>
<ellipse cx="376.7" cy="467.8" rx="0.85" ry="0.74" fill="url(#rd)"/>
<ellipse cx="376.9" cy="469.5" rx="0.94" ry="0.84" fill="url(#rd)"/>
<ellipse cx="383.4" cy="462.6" rx="1.10" ry="1.06" fill="url(#rd)"/>
<ellipse cx="382.0" cy="464.1" rx="1.02" ry="0.83" fill="url(#rd)"/>
<ellipse cx="390.2" cy="453.7" rx="1.13" ry="0.82" fill="url(#rd)"/>
<ellipse cx="388.8" cy="455.4" rx="0.91" ry="0.97" fill="url(#rd)"/>
<ellipse cx="396.3" cy="437.9" rx="0.87" ry="0.91" fill="url(#rd)"/>
<ellipse cx="395.3" cy="439.3" rx="0.95" ry="0.88" fill="url(#rd)"/>
<ellipse cx="402.9" cy="430.0" rx="0.98" ry="0.92" fill="url(#rd)"/>
<ellipse cx="401.9" cy="431.9" rx="0.87" ry="0.81" fill="url(#rd)"/>
<ellipse cx="383.6" cy="490.3" rx="0.72" ry="0.70" fill="url(#rd)"/>
<ellipse cx="383.3" cy="491.7" rx="0.87" ry="0.68" fill="url(#rd)"/>
<ellipse cx="397.5" cy="481.1" rx="1.13" ry="1.13" fill="url(#rd)"/>
<ellipse cx="396.0" cy="482.9" rx="1.06" ry="0.95" fill="url(#rd)"/>
<ellipse cx="402.3" cy="477.8" rx="1.23" ry="1.23" fill="url(#rd)"/>
<ellipse cx="409.4" cy="476.6" rx="0.96" ry="0.94" fill="url(#rd)"/>
<ellipse cx="408.1" cy="478.1" rx="0.88" ry="0.77" fill="url(#rd)"/>
<ellipse cx="415.1" cy="471.3" rx="0.95" ry="0.92" fill="url(#rd)"/>
<ellipse cx="414.5" cy="473.0" rx="0.83" ry="0.72" fill="url(#rd)"/>
<ellipse cx="419.6" cy="467.9" rx="0.92" ry="0.81" fill="url(#rd)"/>
<ellipse cx="419.9" cy="469.2" rx="0.82" ry="0.71" fill="url(#rd)"/>
<ellipse cx="467.2" cy="428.9" rx="1.90" ry="1.90" fill="url(#rd)"/>
<ellipse cx="490.2" cy="423.7" rx="1.57" ry="1.57" fill="url(#rd)"/>
<ellipse cx="433.4" cy="451.0" rx="1.12" ry="1.12" fill="url(#rd)"/>
<ellipse cx="446.2" cy="451.0" rx="1.01" ry="1.01" fill="url(#rd)"/>
<ellipse cx="454.8" cy="452.0" rx="1.31" ry="1.26" fill="url(#rd)"/>
<ellipse cx="453.3" cy="454.8" rx="1.27" ry="1.34" fill="url(#rd)"/>
<ellipse cx="472.5" cy="454.2" rx="1.01" ry="1.01" fill="url(#rd)"/>
<ellipse cx="477.2" cy="455.4" rx="1.01" ry="1.01" fill="url(#rd)"/>
<ellipse cx="487.0" cy="455.4" rx="1.34" ry="1.34" fill="url(#rd)"/>
<ellipse cx="425.6" cy="462.5" rx="0.93" ry="0.94" fill="url(#rd)"/>
<ellipse cx="426.2" cy="464.1" rx="0.87" ry="0.96" fill="url(#rd)"/>
<ellipse cx="420.5" cy="469.1" rx="1.01" ry="1.01" fill="url(#rd)"/>
<ellipse cx="504.7" cy="467.4" rx="1.12" ry="1.12" fill="url(#rd)"/>
<ellipse cx="494.8" cy="478.6" rx="0.94" ry="0.71" fill="url(#rd)"/>
<ellipse cx="495.2" cy="480.3" rx="0.87" ry="0.81" fill="url(#rd)"/>
<ellipse cx="505.3" cy="481.5" rx="0.93" ry="0.70" fill="url(#rd)"/>
<ellipse cx="504.4" cy="483.1" rx="0.74" ry="0.85" fill="url(#rd)"/>
<ellipse cx="516.2" cy="468.1" rx="1.18" ry="1.19" fill="url(#rd)"/>
<ellipse cx="516.7" cy="470.3" rx="1.15" ry="1.26" fill="url(#rd)"/>
<ellipse cx="517.9" cy="472.3" rx="1.18" ry="0.99" fill="url(#rd)"/>
<ellipse cx="518.3" cy="474.2" rx="1.10" ry="0.87" fill="url(#rd)"/>
<ellipse cx="523.0" cy="458.3" rx="1.25" ry="1.01" fill="url(#rd)"/>
<ellipse cx="524.8" cy="460.0" rx="1.08" ry="0.99" fill="url(#rd)"/>
<ellipse cx="528.5" cy="452.9" rx="1.01" ry="1.01" fill="url(#rd)"/>
<ellipse cx="525.4" cy="477.7" rx="1.23" ry="1.23" fill="url(#rd)"/>
<ellipse cx="540.1" cy="440.0" rx="1.05" ry="1.18" fill="url(#rd)"/>
<ellipse cx="538.6" cy="442.0" rx="1.07" ry="0.94" fill="url(#rd)"/>
<ellipse cx="541.1" cy="431.7" rx="0.90" ry="0.90" fill="url(#rd)"/>
<ellipse cx="553.9" cy="433.4" rx="1.12" ry="1.12" fill="url(#rd)"/>
<ellipse cx="559.0" cy="433.6" rx="1.01" ry="1.01" fill="url(#rd)"/>
<ellipse cx="488.6" cy="484.1" rx="1.12" ry="1.13" fill="url(#rd)"/>
<ellipse cx="489.3" cy="485.9" rx="1.08" ry="1.13" fill="url(#rd)"/>
<ellipse cx="486.4" cy="488.8" rx="0.97" ry="0.87" fill="url(#rd)"/>
<ellipse cx="487.3" cy="490.6" rx="1.06" ry="1.01" fill="url(#rd)"/>
<ellipse cx="479.9" cy="490.2" rx="1.05" ry="0.90" fill="url(#rd)"/>
<ellipse cx="478.4" cy="492.0" rx="1.09" ry="0.89" fill="url(#rd)"/>
</g></g>
<polygon points="268.9,418.1 297.5,418.4 298.7,419.5 297.5,420.7 268.9,420.7" fill="#fff" stroke="#fff" stroke-width="0.5" stroke-linejoin="round"/>
<clipPath id="kc2"><rect x="272.4" y="497.0" width="301.2" height="149.5"/></clipPath>
<g clip-path="url(#kc2)">
<rect x="270.4" y="495.0" width="305.2" height="153.5" fill="#5a5a5a"/>
<g filter="url(#jag)">
<polygon points="271.0,496.0 282.3,496.0 282.3,498.8 289.3,503.7 306.2,505.9 324.5,509.4 337.2,511.8 335.7,529.8 331.5,547.4 330.1,562.2 323.1,570.6 320.3,574.8 271.0,574.8" fill="#4c4c4c"/>
<polygon points="282.3,496.0 368.8,496.0 362.5,501.6 355.4,505.9 348.4,510.1 342.8,512.0 335.7,511.5 324.5,509.4 306.2,505.9 289.3,503.7 282.3,498.8" fill="#888888"/>
<polygon points="337.2,511.8 342.8,512.0 348.4,510.1 355.4,505.9 362.5,501.6 368.4,497.7 370.9,505.1 386.4,509.4 403.3,525.6 406.1,538.2 404.7,546.7 407.5,557.9 408.2,574.8 320.3,574.8 323.1,570.6 330.1,562.2 331.5,547.4 335.7,529.8" fill="#5b5b5b"/>
<polygon points="368.1,496.0 425.8,496.0 425.8,522.7 414.6,524.9 403.3,525.6 386.4,509.4 370.9,505.1" fill="#505050"/>
<polygon points="403.3,525.6 414.6,524.9 425.8,522.7 425.8,574.8 408.2,574.8 407.5,557.9 404.7,546.7 406.1,538.2" fill="#888888"/>
<polygon points="419.2,496.0 470.6,496.0 468.4,501.6 455.8,505.1 447.3,510.1 441.7,514.3 434.7,519.9 426.2,520.6 419.2,523.0" fill="#4e4e4e"/>
<polygon points="469.9,496.0 491.7,496.0 488.2,508.7 483.9,524.1 482.5,536.8 478.3,545.3 475.5,559.3 469.9,556.5 464.2,550.9 453.0,538.2 444.5,527.0 440.3,521.3 441.7,514.3 447.3,510.1 455.8,505.1 468.4,501.6" fill="#6c6c6c"/>
<polygon points="419.2,523.0 426.2,520.6 434.7,519.9 440.3,521.3 444.5,527.0 453.0,538.2 464.2,550.9 469.9,556.5 475.5,559.3 476.6,574.8 419.2,574.8" fill="#888888"/>
<polygon points="491.0,496.0 507.2,496.0 503.6,504.4 500.8,517.1 499.4,531.2 498.0,541.0 495.2,549.5 492.4,556.5 488.2,565.0 488.2,574.8 476.6,574.8 476.2,563.6 475.5,559.3 478.3,545.3 482.5,536.8 483.9,524.1 488.2,508.7" fill="#cfcfcf"/>
<polygon points="506.4,496.0 534.6,496.0 534.6,517.1 543.0,518.5 547.3,527.0 545.9,542.4 548.7,557.9 549.4,574.8 488.2,574.8 488.2,565.0 492.4,556.5 495.2,549.5 498.0,541.0 499.4,531.2 500.8,517.1 503.6,504.4" fill="#b0b0b0"/>
<polygon points="534.6,496.0 576.8,496.0 576.8,574.8 549.4,574.8 548.7,557.9 545.9,542.4 547.3,527.0 543.0,518.5 534.6,517.1" fill="#4a4a4a"/>
<polygon points="271.0,569.6 320.3,569.6 320.3,574.5 309.0,577.3 297.7,576.6 289.3,578.7 278.0,580.9 271.0,582.5" fill="#4c4c4c"/>
<polygon points="271.0,582.5 278.0,580.9 289.3,578.7 297.7,576.6 309.0,577.3 320.3,574.5 325.2,578.7 331.5,588.6 336.4,602.7 342.8,613.2 348.4,624.5 352.6,638.6 357.6,647.7 271.0,647.7" fill="#858585"/>
<polygon points="320.3,569.6 407.5,569.6 410.3,578.0 396.3,592.8 390.6,601.3 387.8,609.0 382.2,618.1 376.6,624.5 372.3,632.9 369.5,641.4 366.0,647.7 357.6,647.7 352.6,638.6 348.4,624.5 342.8,613.2 336.4,602.7 331.5,588.6 325.2,578.7 320.3,574.5" fill="#5b5b5b"/>
<polygon points="410.3,578.0 425.8,584.4 425.8,623.4 418.8,627.3 411.7,634.3 400.5,639.3 393.4,644.2 390.6,647.7 366.0,647.7 369.5,641.4 372.3,632.9 376.6,624.5 382.2,618.1 387.8,609.0 390.6,601.3 396.3,592.8" fill="#727272"/>
<polygon points="407.2,569.6 425.8,569.6 425.8,584.4 410.3,578.0" fill="#888888"/>
<polygon points="425.8,623.4 418.8,627.3 411.7,634.3 400.5,639.3 393.4,644.2 390.6,647.7 425.8,647.7" fill="#525252"/>
<polygon points="419.2,569.6 480.0,569.6 481.1,585.1 485.3,593.5 491.0,603.4 495.5,610.7 488.2,611.4 478.3,610.0 469.9,611.4 458.6,608.6 450.1,605.8 443.1,608.6 436.1,613.5 429.0,620.5 419.2,626.6" fill="#8a8a8a"/>
<polygon points="419.2,584.4 422.0,585.1 433.3,597.7 436.1,606.2 436.1,613.5 429.0,620.5 419.2,626.6" fill="#7c7c7c"/>
<polygon points="419.2,626.6 429.0,620.5 436.1,613.5 443.1,608.6 450.1,605.8 458.6,608.6 469.9,611.4 478.3,610.0 488.2,611.4 495.5,610.7 502.2,617.4 509.3,624.5 509.3,628.7 502.2,631.5 498.0,638.6 488.9,647.7 419.2,647.7" fill="#505050"/>
<polygon points="492.4,569.6 547.5,569.6 548.0,582.3 545.9,592.1 540.2,602.0 533.2,610.4 527.6,618.9 523.3,623.8 520.5,624.8 509.3,624.8 502.2,617.4 495.5,610.7 491.0,603.4 488.2,589.3 489.6,576.6" fill="#b2b2b2"/>
<polygon points="479.7,569.6 492.7,569.6 492.4,576.6 491.0,589.3 492.4,596.3 488.2,596.3 485.3,593.5 481.1,585.1" fill="#c8c8c8"/>
<polygon points="509.3,624.5 520.5,623.4 523.6,624.1 526.2,627.3 533.2,637.2 539.5,647.7 488.9,647.7 498.0,638.6 502.2,631.5 509.3,628.7" fill="#bababa"/>
<polygon points="547.3,569.6 576.8,569.6 576.8,583.7 571.9,584.4 562.7,587.2 554.3,588.6 548.0,582.3" fill="#4c4c4c"/>
<polygon points="548.0,582.3 554.3,588.6 562.7,587.2 571.9,584.4 576.8,583.7 576.8,647.7 539.5,647.7 533.2,637.2 526.2,627.3 523.6,624.1 527.6,618.9 533.2,610.4 540.2,602.0 545.9,592.1" fill="#828282"/>
<polygon points="479.7,578.0 492.4,577.3 491.0,583.7 481.1,584.4" fill="#484848"/>
<polygon points="481.8,573.5 489.6,573.1 489.3,577.3 482.5,577.8" fill="#e8e8e8"/>
<circle cx="284.7" cy="500.6" r="1.2" fill="#e6e6e6"/>
<circle cx="289.8" cy="503.9" r="0.8" fill="#e6e6e6"/>
<circle cx="296.0" cy="504.9" r="0.8" fill="#e6e6e6"/>
<circle cx="301.1" cy="505.6" r="1.0" fill="#e6e6e6"/>
<circle cx="306.8" cy="506.3" r="1.0" fill="#e6e6e6"/>
<circle cx="312.3" cy="506.6" r="1.0" fill="#e6e6e6"/>
<circle cx="317.3" cy="507.8" r="0.7" fill="#e6e6e6"/>
<circle cx="323.4" cy="509.5" r="1.0" fill="#e6e6e6"/>
<circle cx="329.9" cy="510.6" r="0.9" fill="#e6e6e6"/>
<circle cx="335.9" cy="511.9" r="1.1" fill="#e6e6e6"/>
<circle cx="341.9" cy="511.7" r="0.8" fill="#e6e6e6"/>
<circle cx="347.1" cy="510.5" r="1.1" fill="#e6e6e6"/>
<circle cx="352.4" cy="508.3" r="0.7" fill="#e6e6e6"/>
<circle cx="357.0" cy="505.2" r="1.2" fill="#e6e6e6"/>
<circle cx="361.2" cy="502.3" r="1.1" fill="#e6e6e6"/>
<circle cx="365.8" cy="499.0" r="1.2" fill="#e6e6e6"/>
<circle cx="336.5" cy="514.5" r="0.8" fill="#e6e6e6"/>
<circle cx="336.8" cy="519.4" r="1.0" fill="#e6e6e6"/>
<circle cx="335.8" cy="525.9" r="0.8" fill="#e6e6e6"/>
<circle cx="334.8" cy="532.1" r="0.8" fill="#e6e6e6"/>
<circle cx="334.4" cy="537.8" r="0.9" fill="#e6e6e6"/>
<circle cx="331.9" cy="544.4" r="1.1" fill="#e6e6e6"/>
<circle cx="330.8" cy="551.4" r="0.8" fill="#e6e6e6"/>
<circle cx="330.9" cy="556.3" r="0.9" fill="#e6e6e6"/>
<circle cx="329.8" cy="561.5" r="0.8" fill="#e6e6e6"/>
<circle cx="326.4" cy="566.5" r="1.2" fill="#e6e6e6"/>
<circle cx="373.9" cy="506.3" r="0.8" fill="#e6e6e6"/>
<circle cx="379.3" cy="507.6" r="0.8" fill="#e6e6e6"/>
<circle cx="384.2" cy="509.1" r="0.8" fill="#e6e6e6"/>
<circle cx="390.3" cy="512.8" r="0.9" fill="#e6e6e6"/>
<circle cx="393.1" cy="516.7" r="0.8" fill="#e6e6e6"/>
<circle cx="398.2" cy="521.2" r="1.0" fill="#e6e6e6"/>
<circle cx="402.1" cy="525.0" r="0.7" fill="#e6e6e6"/>
<circle cx="404.0" cy="528.8" r="1.0" fill="#e6e6e6"/>
<circle cx="405.6" cy="533.6" r="0.7" fill="#e6e6e6"/>
<circle cx="405.9" cy="538.9" r="0.8" fill="#e6e6e6"/>
<circle cx="405.1" cy="544.7" r="0.9" fill="#e6e6e6"/>
<circle cx="406.5" cy="552.2" r="1.0" fill="#e6e6e6"/>
<circle cx="407.2" cy="557.8" r="0.7" fill="#e6e6e6"/>
<circle cx="408.1" cy="566.0" r="0.7" fill="#e6e6e6"/>
<circle cx="406.3" cy="525.6" r="0.9" fill="#e6e6e6"/>
<circle cx="413.4" cy="524.9" r="1.1" fill="#e6e6e6"/>
<circle cx="421.1" cy="523.5" r="1.1" fill="#e6e6e6"/>
<circle cx="424.5" cy="521.6" r="1.1" fill="#e6e6e6"/>
<circle cx="431.6" cy="520.5" r="1.1" fill="#e6e6e6"/>
<circle cx="438.0" cy="520.6" r="0.9" fill="#e6e6e6"/>
<circle cx="442.2" cy="524.6" r="1.1" fill="#e6e6e6"/>
<circle cx="447.2" cy="530.1" r="1.0" fill="#e6e6e6"/>
<circle cx="450.7" cy="535.7" r="0.7" fill="#e6e6e6"/>
<circle cx="454.6" cy="540.7" r="0.9" fill="#e6e6e6"/>
<circle cx="458.9" cy="544.7" r="1.0" fill="#e6e6e6"/>
<circle cx="463.3" cy="549.6" r="0.8" fill="#e6e6e6"/>
<circle cx="467.9" cy="554.5" r="1.1" fill="#e6e6e6"/>
<circle cx="473.6" cy="558.8" r="0.8" fill="#e6e6e6"/>
<circle cx="468.7" cy="499.9" r="1.0" fill="#e6e6e6"/>
<circle cx="463.5" cy="503.0" r="0.9" fill="#e6e6e6"/>
<circle cx="457.3" cy="504.6" r="1.1" fill="#e6e6e6"/>
<circle cx="451.5" cy="508.2" r="0.8" fill="#e6e6e6"/>
<circle cx="446.8" cy="510.2" r="0.8" fill="#e6e6e6"/>
<circle cx="442.2" cy="514.0" r="0.8" fill="#e6e6e6"/>
<circle cx="440.9" cy="520.7" r="0.7" fill="#e6e6e6"/>
<circle cx="544.8" cy="520.7" r="1.0" fill="#e6e6e6"/>
<circle cx="547.0" cy="527.2" r="0.7" fill="#e6e6e6"/>
<circle cx="546.8" cy="531.5" r="1.0" fill="#e6e6e6"/>
<circle cx="546.0" cy="537.0" r="1.0" fill="#e6e6e6"/>
<circle cx="546.2" cy="543.6" r="1.0" fill="#e6e6e6"/>
<circle cx="547.5" cy="550.4" r="0.9" fill="#e6e6e6"/>
<circle cx="547.8" cy="555.8" r="1.0" fill="#e6e6e6"/>
<circle cx="548.6" cy="561.0" r="1.0" fill="#e6e6e6"/>
<circle cx="549.3" cy="567.6" r="0.9" fill="#e6e6e6"/>
<circle cx="490.5" cy="500.4" r="1.1" fill="#3c3c3c"/>
<circle cx="487.7" cy="508.9" r="1.0" fill="#3c3c3c"/>
<circle cx="485.6" cy="517.8" r="1.1" fill="#3c3c3c"/>
<circle cx="484.1" cy="526.1" r="1.0" fill="#3c3c3c"/>
<circle cx="483.2" cy="533.1" r="1.0" fill="#3c3c3c"/>
<circle cx="480.3" cy="541.1" r="1.1" fill="#3c3c3c"/>
<circle cx="477.5" cy="549.7" r="0.8" fill="#3c3c3c"/>
<circle cx="476.0" cy="558.2" r="0.7" fill="#3c3c3c"/>
<circle cx="475.9" cy="566.0" r="0.9" fill="#3c3c3c"/>
<circle cx="476.5" cy="571.4" r="1.0" fill="#3c3c3c"/>
<circle cx="504.9" cy="500.9" r="0.7" fill="#3c3c3c"/>
<circle cx="503.1" cy="507.0" r="1.1" fill="#3c3c3c"/>
<circle cx="501.7" cy="514.9" r="1.1" fill="#3c3c3c"/>
<circle cx="500.1" cy="521.2" r="0.8" fill="#3c3c3c"/>
<circle cx="499.7" cy="529.6" r="1.1" fill="#3c3c3c"/>
<circle cx="498.3" cy="537.3" r="1.1" fill="#3c3c3c"/>
<circle cx="496.0" cy="546.5" r="1.1" fill="#3c3c3c"/>
<circle cx="493.7" cy="553.1" r="0.9" fill="#3c3c3c"/>
<circle cx="490.5" cy="559.9" r="1.1" fill="#3c3c3c"/>
<circle cx="275.5" cy="581.8" r="1.0" fill="#e6e6e6"/>
<circle cx="281.8" cy="579.8" r="1.0" fill="#e6e6e6"/>
<circle cx="287.8" cy="579.5" r="0.8" fill="#e6e6e6"/>
<circle cx="292.9" cy="577.7" r="1.1" fill="#e6e6e6"/>
<circle cx="300.4" cy="576.6" r="0.8" fill="#e6e6e6"/>
<circle cx="307.3" cy="576.8" r="1.1" fill="#e6e6e6"/>
<circle cx="311.3" cy="576.4" r="1.0" fill="#e6e6e6"/>
<circle cx="317.0" cy="575.4" r="0.8" fill="#e6e6e6"/>
<circle cx="322.6" cy="576.8" r="0.8" fill="#e6e6e6"/>
<circle cx="326.5" cy="580.7" r="0.9" fill="#e6e6e6"/>
<circle cx="329.7" cy="585.4" r="0.8" fill="#e6e6e6"/>
<circle cx="332.7" cy="591.5" r="1.1" fill="#e6e6e6"/>
<circle cx="335.0" cy="597.3" r="1.1" fill="#e6e6e6"/>
<circle cx="337.7" cy="603.9" r="0.9" fill="#e6e6e6"/>
<circle cx="340.8" cy="610.8" r="1.1" fill="#e6e6e6"/>
<circle cx="343.3" cy="615.0" r="0.8" fill="#e6e6e6"/>
<circle cx="346.2" cy="619.3" r="1.1" fill="#e6e6e6"/>
<circle cx="348.0" cy="624.1" r="0.7" fill="#e6e6e6"/>
<circle cx="350.0" cy="629.4" r="1.2" fill="#e6e6e6"/>
<circle cx="351.2" cy="634.2" r="1.0" fill="#e6e6e6"/>
<circle cx="353.3" cy="639.7" r="0.8" fill="#e6e6e6"/>
<circle cx="356.2" cy="644.3" r="1.0" fill="#e6e6e6"/>
<circle cx="408.0" cy="579.9" r="1.1" fill="#e6e6e6"/>
<circle cx="403.5" cy="585.2" r="0.7" fill="#e6e6e6"/>
<circle cx="398.0" cy="591.2" r="0.9" fill="#e6e6e6"/>
<circle cx="394.3" cy="595.7" r="1.0" fill="#e6e6e6"/>
<circle cx="391.8" cy="600.1" r="0.8" fill="#e6e6e6"/>
<circle cx="389.4" cy="605.1" r="0.8" fill="#e6e6e6"/>
<circle cx="387.2" cy="609.6" r="1.1" fill="#e6e6e6"/>
<circle cx="383.7" cy="616.3" r="1.0" fill="#e6e6e6"/>
<circle cx="380.1" cy="620.6" r="1.2" fill="#e6e6e6"/>
<circle cx="375.5" cy="626.5" r="1.1" fill="#e6e6e6"/>
<circle cx="373.0" cy="632.2" r="1.1" fill="#e6e6e6"/>
<circle cx="370.5" cy="639.3" r="1.1" fill="#e6e6e6"/>
<circle cx="367.7" cy="643.8" r="0.9" fill="#e6e6e6"/>
<circle cx="420.0" cy="626.0" r="1.0" fill="#e6e6e6"/>
<circle cx="415.4" cy="630.9" r="1.0" fill="#e6e6e6"/>
<circle cx="411.7" cy="634.5" r="1.0" fill="#e6e6e6"/>
<circle cx="406.7" cy="636.9" r="1.0" fill="#e6e6e6"/>
<circle cx="400.5" cy="639.1" r="1.0" fill="#e6e6e6"/>
<circle cx="394.2" cy="643.4" r="0.7" fill="#e6e6e6"/>
<circle cx="424.2" cy="623.6" r="0.8" fill="#e6e6e6"/>
<circle cx="430.0" cy="619.4" r="1.1" fill="#e6e6e6"/>
<circle cx="434.9" cy="615.0" r="1.0" fill="#e6e6e6"/>
<circle cx="438.3" cy="612.0" r="0.7" fill="#e6e6e6"/>
<circle cx="444.0" cy="607.8" r="0.8" fill="#e6e6e6"/>
<circle cx="450.2" cy="605.1" r="1.1" fill="#e6e6e6"/>
<circle cx="455.7" cy="607.4" r="0.8" fill="#e6e6e6"/>
<circle cx="461.2" cy="609.0" r="0.8" fill="#e6e6e6"/>
<circle cx="467.4" cy="610.1" r="0.8" fill="#e6e6e6"/>
<circle cx="472.0" cy="610.9" r="0.9" fill="#e6e6e6"/>
<circle cx="479.7" cy="609.4" r="1.1" fill="#e6e6e6"/>
<circle cx="486.3" cy="611.3" r="0.9" fill="#e6e6e6"/>
<circle cx="493.3" cy="610.4" r="0.9" fill="#e6e6e6"/>
<circle cx="498.9" cy="613.9" r="1.1" fill="#e6e6e6"/>
<circle cx="503.8" cy="618.5" r="1.0" fill="#e6e6e6"/>
<circle cx="507.6" cy="622.7" r="0.9" fill="#e6e6e6"/>
<circle cx="547.3" cy="585.4" r="0.9" fill="#e6e6e6"/>
<circle cx="546.3" cy="590.5" r="1.0" fill="#e6e6e6"/>
<circle cx="544.0" cy="596.6" r="1.0" fill="#e6e6e6"/>
<circle cx="540.5" cy="601.3" r="1.0" fill="#e6e6e6"/>
<circle cx="536.7" cy="605.8" r="1.0" fill="#e6e6e6"/>
<circle cx="533.0" cy="611.0" r="1.0" fill="#e6e6e6"/>
<circle cx="529.7" cy="615.8" r="1.1" fill="#e6e6e6"/>
<circle cx="525.2" cy="620.6" r="0.8" fill="#e6e6e6"/>
<circle cx="550.2" cy="584.0" r="0.9" fill="#e6e6e6"/>
<circle cx="553.2" cy="588.1" r="0.9" fill="#e6e6e6"/>
<circle cx="559.6" cy="587.7" r="0.8" fill="#e6e6e6"/>
<circle cx="565.6" cy="586.7" r="0.7" fill="#e6e6e6"/>
<circle cx="570.5" cy="585.0" r="1.0" fill="#e6e6e6"/>
<circle cx="423.9" cy="587.1" r="1.0" fill="#e6e6e6"/>
<circle cx="428.0" cy="592.1" r="0.8" fill="#e6e6e6"/>
<circle cx="432.3" cy="596.8" r="0.9" fill="#e6e6e6"/>
<circle cx="434.1" cy="601.8" r="0.7" fill="#e6e6e6"/>
<circle cx="528.0" cy="629.7" r="1.0" fill="#e6e6e6"/>
<circle cx="531.4" cy="633.9" r="0.8" fill="#e6e6e6"/>
<circle cx="534.5" cy="639.5" r="1.0" fill="#e6e6e6"/>
<circle cx="538.5" cy="644.8" r="0.8" fill="#e6e6e6"/>
<circle cx="331.8" cy="547.4" r="1.5" fill="#f0f0f0"/>
<circle cx="370.9" cy="505.6" r="1.5" fill="#f0f0f0"/>
<circle cx="403.3" cy="525.8" r="1.5" fill="#f0f0f0"/>
<circle cx="289.3" cy="503.7" r="1.5" fill="#f0f0f0"/>
<circle cx="324.5" cy="509.8" r="1.5" fill="#f0f0f0"/>
</g>
<polygon points="272.4,569.7 297.5,570.2 298.8,571.4 297.5,572.6 272.4,572.8" fill="#060606" stroke="#060606" stroke-width="0.5" stroke-linejoin="round"/>
</g>
<rect x="529.7" y="346.1" width="37.2" height="19.9" fill="#fff"/>
<text x="537.1" y="361.7" font-size="18.6" fill="#111">SC</text>
<rect x="532.8" y="497.7" width="37.2" height="19.2" fill="#fff"/>
<text x="539.8" y="512.7" font-size="18.2" fill="#111">FC</text>
<clipPath id="c2477"><rect x="330.6" y="12.5" width="147.4" height="98.4"/></clipPath>
<path d="M330.56 78.22C331.11 75.93 332.78 68.78 333.89 64.44C335.00 60.11 336.11 55.37 337.22 52.22C338.33 49.07 339.63 46.93 340.56 45.56C341.48 44.19 342.04 44.07 342.78 44.00C343.52 43.93 344.07 43.93 345.00 45.11C345.93 46.30 347.22 48.93 348.33 51.11C349.44 53.30 350.37 55.81 351.67 58.22C352.96 60.63 354.63 63.59 356.11 65.56C357.59 67.52 359.07 68.52 360.56 70.00C362.04 71.48 363.52 72.96 365.00 74.44C366.48 75.93 367.96 77.41 369.44 78.89C370.93 80.37 372.41 82.15 373.89 83.33C375.37 84.52 376.85 85.19 378.33 86.00C379.81 86.81 381.30 87.44 382.78 88.22C384.26 89.00 385.74 90.00 387.22 90.67C388.70 91.33 390.37 91.96 391.67 92.22C392.96 92.48 393.89 92.48 395.00 92.22C396.11 91.96 397.04 91.59 398.33 90.67C399.63 89.74 401.30 88.00 402.78 86.67C404.26 85.33 405.74 83.67 407.22 82.67C408.70 81.67 410.19 81.19 411.67 80.67C413.15 80.15 414.63 79.96 416.11 79.56C417.59 79.15 419.07 78.59 420.56 78.22C422.04 77.85 423.52 77.67 425.00 77.33C426.48 77.00 427.96 77.07 429.44 76.22C430.93 75.37 432.41 73.63 433.89 72.22C435.37 70.81 437.22 68.70 438.33 67.78C439.44 66.85 439.63 66.74 440.56 66.67C441.48 66.59 442.78 67.22 443.89 67.33C445.00 67.44 445.93 67.81 447.22 67.33C448.52 66.85 450.19 65.48 451.67 64.44C453.15 63.41 454.63 62.04 456.11 61.11C457.59 60.19 459.26 59.26 460.56 58.89C461.85 58.52 462.78 58.52 463.89 58.89C465.00 59.26 465.93 59.63 467.22 61.11C468.52 62.59 470.37 65.19 471.67 67.78C472.96 70.37 474.04 73.89 475.00 76.67C475.96 79.44 477.04 83.15 477.44 84.44" fill="none" stroke="#52a959" stroke-width="1.55" stroke-linejoin="round" clip-path="url(#c2477)"/>
<rect x="330.60" y="14.50" width="146.80" height="95.40" fill="none" stroke="#a6a6a6" stroke-width="1.3"/>
<line x1="330.6" y1="109.9" x2="330.6" y2="108.1" stroke="#777" stroke-width="0.7"/>
<text x="330.6" y="120.3" font-size="11.00" text-anchor="middle" fill="#222" >0</text>
<line x1="379.5" y1="109.9" x2="379.5" y2="108.1" stroke="#777" stroke-width="0.7"/>
<text x="379.5" y="120.3" font-size="11.00" text-anchor="middle" fill="#222" >20</text>
<line x1="428.5" y1="109.9" x2="428.5" y2="108.1" stroke="#777" stroke-width="0.7"/>
<text x="428.5" y="120.3" font-size="11.00" text-anchor="middle" fill="#222" >40</text>
<line x1="477.4" y1="109.9" x2="477.4" y2="108.1" stroke="#777" stroke-width="0.7"/>
<text x="477.4" y="120.3" font-size="11.00" text-anchor="middle" fill="#222" >60</text>
<line x1="330.6" y1="109.9" x2="332.4" y2="109.9" stroke="#777" stroke-width="0.7"/>
<text x="328.4" y="114.3" font-size="11.00" text-anchor="end" fill="#222" >0.00</text>
<line x1="330.6" y1="86.1" x2="332.4" y2="86.1" stroke="#777" stroke-width="0.7"/>
<text x="328.4" y="90.5" font-size="11.00" text-anchor="end" fill="#222" >0.01</text>
<line x1="330.6" y1="62.2" x2="332.4" y2="62.2" stroke="#777" stroke-width="0.7"/>
<text x="328.4" y="66.6" font-size="11.00" text-anchor="end" fill="#222" >0.02</text>
<line x1="330.6" y1="38.4" x2="332.4" y2="38.4" stroke="#777" stroke-width="0.7"/>
<text x="328.4" y="42.8" font-size="11.00" text-anchor="end" fill="#222" >0.03</text>
<line x1="330.6" y1="14.5" x2="332.4" y2="14.5" stroke="#777" stroke-width="0.7"/>
<text x="328.4" y="18.9" font-size="11.00" text-anchor="end" fill="#222" >0.04</text>
<text x="404.0" y="134.0" font-size="15.40" text-anchor="middle" fill="#222" >Grain orientation (degrees)</text>
<text transform="translate(303.5 62.2) rotate(-90)" font-size="15.40" text-anchor="middle" fill="#222">Arb. units</text>
<text x="438.5" y="31.5" font-size="17.00" text-anchor="start" fill="#111" >AD</text>
<clipPath id="c2501"><rect x="336.3" y="154.4" width="183.3" height="104.6"/></clipPath>
<path d="M336.28 257.48C337.36 257.56 336.08 257.88 342.78 257.96C349.48 258.04 370.06 258.08 376.48 257.96C382.90 257.84 379.89 258.04 381.29 257.24C382.70 256.43 383.70 255.43 384.90 253.14C386.11 250.86 387.31 247.93 388.51 243.51C389.72 239.10 390.92 232.48 392.13 226.66C393.33 220.85 394.53 213.62 395.74 208.61C396.94 203.59 398.14 199.46 399.35 196.57C400.55 193.68 401.96 192.20 402.96 191.28C403.96 190.35 404.36 190.55 405.37 191.04C406.37 191.52 407.77 192.64 408.98 194.16C410.18 195.69 411.18 197.98 412.59 200.18C413.99 202.39 415.80 205.20 417.40 207.40C419.01 209.61 420.61 211.22 422.22 213.42C423.82 215.63 425.43 218.44 427.03 220.65C428.64 222.85 430.24 225.06 431.85 226.66C433.45 228.27 435.06 229.07 436.66 230.27C438.27 231.48 439.87 232.80 441.48 233.89C443.08 234.97 445.09 236.17 446.29 236.77C447.49 237.38 447.69 237.66 448.70 237.50C449.70 237.34 451.10 236.81 452.31 235.81C453.51 234.81 454.52 233.00 455.92 231.48C457.32 229.95 459.13 227.87 460.73 226.66C462.34 225.46 463.94 225.06 465.55 224.26C467.15 223.45 468.76 222.53 470.36 221.85C471.97 221.17 473.97 220.56 475.18 220.16C476.38 219.76 476.58 220.16 477.59 219.44C478.59 218.72 479.99 217.11 481.20 215.83C482.40 214.55 483.60 212.74 484.81 211.74C486.01 210.74 487.21 210.05 488.42 209.81C489.62 209.57 490.83 210.49 492.03 210.29C493.23 210.09 494.44 209.49 495.64 208.61C496.84 207.73 498.05 206.00 499.25 205.00C500.45 203.99 501.66 202.99 502.86 202.59C504.07 202.19 505.27 201.99 506.47 202.59C507.68 203.19 508.88 204.20 510.08 206.20C511.29 208.21 512.61 211.62 513.70 214.63C514.78 217.64 515.70 221.53 516.58 224.26C517.47 226.98 518.59 229.87 518.99 231.00" fill="none" stroke="#52a959" stroke-width="1.55" stroke-linejoin="round" clip-path="url(#c2501)"/>
<rect x="336.30" y="156.40" width="182.70" height="101.60" fill="none" stroke="#a6a6a6" stroke-width="1.3"/>
<line x1="336.3" y1="258.0" x2="336.3" y2="256.2" stroke="#777" stroke-width="0.7"/>
<text x="336.3" y="268.4" font-size="11.00" text-anchor="middle" fill="#222" >0</text>
<line x1="377.7" y1="258.0" x2="377.7" y2="256.2" stroke="#777" stroke-width="0.7"/>
<text x="377.7" y="268.4" font-size="11.00" text-anchor="middle" fill="#222" >50</text>
<line x1="419.1" y1="258.0" x2="419.1" y2="256.2" stroke="#777" stroke-width="0.7"/>
<text x="419.1" y="268.4" font-size="11.00" text-anchor="middle" fill="#222" >100</text>
<line x1="460.5" y1="258.0" x2="460.5" y2="256.2" stroke="#777" stroke-width="0.7"/>
<text x="460.5" y="268.4" font-size="11.00" text-anchor="middle" fill="#222" >150</text>
<line x1="501.9" y1="258.0" x2="501.9" y2="256.2" stroke="#777" stroke-width="0.7"/>
<text x="501.9" y="268.4" font-size="11.00" text-anchor="middle" fill="#222" >200</text>
<line x1="336.3" y1="258.0" x2="338.1" y2="258.0" stroke="#777" stroke-width="0.7"/>
<text x="334.1" y="262.4" font-size="11.00" text-anchor="end" fill="#222" >0.000</text>
<line x1="336.3" y1="224.1" x2="338.1" y2="224.1" stroke="#777" stroke-width="0.7"/>
<text x="334.1" y="228.5" font-size="11.00" text-anchor="end" fill="#222" >0.005</text>
<line x1="336.3" y1="190.3" x2="338.1" y2="190.3" stroke="#777" stroke-width="0.7"/>
<text x="334.1" y="194.7" font-size="11.00" text-anchor="end" fill="#222" >0.010</text>
<line x1="336.3" y1="156.4" x2="338.1" y2="156.4" stroke="#777" stroke-width="0.7"/>
<text x="334.1" y="160.8" font-size="11.00" text-anchor="end" fill="#222" >0.015</text>
<text x="427.6" y="284.0" font-size="16.20" text-anchor="middle" fill="#222" >Pixel value</text>
<text transform="translate(302.0 207.2) rotate(-90)" font-size="16.20" text-anchor="middle" fill="#222">Arb. units</text>
<text x="484.8" y="172.8" font-size="17.00" text-anchor="start" fill="#111" >PD</text>
<text x="345.0" y="206.0" font-size="22.00" text-anchor="start" fill="#111" >Crack</text>
<line x1="365.6" y1="212.2" x2="348.6" y2="241.3" stroke="#111" stroke-width="1"/>
<polygon points="342.8,251.2 345.0,239.2 352.2,243.4" fill="#111"/>
<clipPath id="c2528"><rect x="885.1" y="8.0" width="153.9" height="102.5"/></clipPath>
<path d="M885.11 90.00C885.56 88.70 886.85 84.44 887.78 82.22C888.70 80.00 889.74 77.85 890.67 76.67C891.59 75.48 892.44 75.11 893.33 75.11C894.22 75.11 895.07 75.48 896.00 76.67C896.93 77.85 897.85 80.37 898.89 82.22C899.93 84.07 901.11 86.37 902.22 87.78C903.33 89.19 904.63 90.11 905.56 90.67C906.48 91.22 906.85 91.41 907.78 91.11C908.70 90.81 909.81 90.00 911.11 88.89C912.41 87.78 914.07 86.11 915.56 84.44C917.04 82.78 918.52 81.11 920.00 78.89C921.48 76.67 922.96 74.44 924.44 71.11C925.93 67.78 927.59 62.78 928.89 58.89C930.19 55.00 931.19 50.93 932.22 47.78C933.26 44.63 934.19 41.59 935.11 40.00C936.04 38.41 936.89 38.04 937.78 38.22C938.67 38.41 939.52 38.96 940.44 41.11C941.37 43.26 942.30 46.48 943.33 51.11C944.37 55.74 945.56 63.70 946.67 68.89C947.78 74.07 948.89 78.89 950.00 82.22C951.11 85.56 952.22 87.22 953.33 88.89C954.44 90.56 955.56 91.30 956.67 92.22C957.78 93.15 959.07 94.00 960.00 94.44C960.93 94.89 961.48 95.07 962.22 94.89C962.96 94.70 963.52 94.70 964.44 93.33C965.37 91.96 966.67 89.44 967.78 86.67C968.89 83.89 970.00 79.63 971.11 76.67C972.22 73.70 973.52 70.48 974.44 68.89C975.37 67.30 975.93 67.30 976.67 67.11C977.41 66.93 977.96 67.11 978.89 67.78C979.81 68.44 981.11 70.19 982.22 71.11C983.33 72.04 984.63 73.33 985.56 73.33C986.48 73.33 986.85 73.52 987.78 71.11C988.70 68.70 990.00 63.52 991.11 58.89C992.22 54.26 993.41 47.41 994.44 43.33C995.48 39.26 996.48 36.22 997.33 34.44C998.19 32.67 998.74 32.56 999.56 32.67C1000.37 32.78 1001.22 32.96 1002.22 35.11C1003.22 37.26 1004.44 41.41 1005.56 45.56C1006.67 49.70 1007.78 55.56 1008.89 60.00C1010.00 64.44 1011.30 69.70 1012.22 72.22C1013.15 74.74 1013.70 74.93 1014.44 75.11C1015.19 75.30 1015.81 75.48 1016.67 73.33C1017.52 71.19 1018.63 65.93 1019.56 62.22C1020.48 58.52 1021.33 53.59 1022.22 51.11C1023.11 48.63 1024.04 47.78 1024.89 47.33C1025.74 46.89 1026.48 46.89 1027.33 48.44C1028.19 50.00 1029.00 53.26 1030.00 56.67C1031.00 60.07 1032.22 65.07 1033.33 68.89C1034.44 72.70 1035.81 77.04 1036.67 79.56C1037.52 82.07 1038.15 83.26 1038.44 84.00" fill="none" stroke="#f76b66" stroke-width="1.55" stroke-linejoin="round" clip-path="url(#c2528)"/>
<rect x="885.10" y="10.00" width="153.30" height="99.50" fill="none" stroke="#a6a6a6" stroke-width="1.3"/>
<line x1="885.1" y1="109.5" x2="885.1" y2="107.7" stroke="#777" stroke-width="0.7"/>
<text x="885.1" y="120.4" font-size="11.50" text-anchor="middle" fill="#222" >0</text>
<line x1="936.2" y1="109.5" x2="936.2" y2="107.7" stroke="#777" stroke-width="0.7"/>
<text x="936.2" y="120.4" font-size="11.50" text-anchor="middle" fill="#222" >20</text>
<line x1="987.3" y1="109.5" x2="987.3" y2="107.7" stroke="#777" stroke-width="0.7"/>
<text x="987.3" y="120.4" font-size="11.50" text-anchor="middle" fill="#222" >40</text>
<line x1="1038.4" y1="109.5" x2="1038.4" y2="107.7" stroke="#777" stroke-width="0.7"/>
<text x="1038.4" y="120.4" font-size="11.50" text-anchor="middle" fill="#222" >60</text>
<line x1="885.1" y1="109.5" x2="886.9" y2="109.5" stroke="#777" stroke-width="0.7"/>
<text x="882.9" y="114.1" font-size="11.50" text-anchor="end" fill="#222" >0.00</text>
<line x1="885.1" y1="84.6" x2="886.9" y2="84.6" stroke="#777" stroke-width="0.7"/>
<text x="882.9" y="89.2" font-size="11.50" text-anchor="end" fill="#222" >0.01</text>
<line x1="885.1" y1="59.8" x2="886.9" y2="59.8" stroke="#777" stroke-width="0.7"/>
<text x="882.9" y="64.3" font-size="11.50" text-anchor="end" fill="#222" >0.02</text>
<line x1="885.1" y1="34.9" x2="886.9" y2="34.9" stroke="#777" stroke-width="0.7"/>
<text x="882.9" y="39.5" font-size="11.50" text-anchor="end" fill="#222" >0.03</text>
<line x1="885.1" y1="10.0" x2="886.9" y2="10.0" stroke="#777" stroke-width="0.7"/>
<text x="882.9" y="14.6" font-size="11.50" text-anchor="end" fill="#222" >0.04</text>
<text x="962.0" y="134.4" font-size="16.00" text-anchor="middle" fill="#222" >Grain orientation (degrees)</text>
<text transform="translate(857.0 59.8) rotate(-90)" font-size="16.00" text-anchor="middle" fill="#222">Arb. units</text>
<text x="1006.5" y="27.5" font-size="18.00" text-anchor="start" fill="#111" >AD</text>
<clipPath id="c2552"><rect x="892.5" y="152.0" width="184.8" height="105.0"/></clipPath>
<path d="M892.48 254.99C893.45 255.14 891.12 255.76 898.31 255.92C905.50 256.07 928.63 256.07 935.63 255.92C942.62 255.76 938.93 255.84 940.29 254.99C941.65 254.13 942.62 252.85 943.79 250.79C944.96 248.73 946.12 245.73 947.29 242.62C948.45 239.51 949.62 235.16 950.79 232.13C951.95 229.10 953.31 225.99 954.29 224.43C955.26 222.88 955.84 222.80 956.62 222.80C957.40 222.80 957.98 222.68 958.95 224.43C959.92 226.18 961.28 230.73 962.45 233.29C963.62 235.86 964.98 238.66 965.95 239.83C966.92 240.99 967.31 240.68 968.28 240.29C969.25 239.90 970.42 239.05 971.78 237.49C973.14 235.94 974.89 233.41 976.44 230.96C978.00 228.51 979.55 226.49 981.11 222.80C982.66 219.11 984.41 213.86 985.77 208.80C987.13 203.75 988.22 197.14 989.27 192.48C990.32 187.81 991.21 183.54 992.07 180.82C992.93 178.10 993.62 176.54 994.40 176.15C995.18 175.76 995.84 175.76 996.73 178.48C997.63 181.21 998.68 186.45 999.77 192.48C1000.86 198.50 1002.10 208.22 1003.27 214.64C1004.43 221.05 1005.60 227.07 1006.76 230.96C1007.93 234.85 1009.10 236.21 1010.26 237.96C1011.43 239.71 1012.79 241.07 1013.76 241.46C1014.73 241.85 1015.12 242.04 1016.09 240.29C1017.07 238.54 1018.43 234.66 1019.59 230.96C1020.76 227.27 1022.00 221.32 1023.09 218.13C1024.18 214.95 1025.15 212.81 1026.12 211.84C1027.09 210.86 1027.99 211.76 1028.92 212.30C1029.85 212.85 1030.86 214.79 1031.72 215.10C1032.58 215.41 1033.16 216.38 1034.05 214.17C1034.95 211.95 1036.07 206.98 1037.08 201.81C1038.10 196.64 1039.26 188.01 1040.12 183.15C1040.97 178.29 1041.63 175.96 1042.22 172.65C1042.80 169.35 1043.11 165.19 1043.62 163.32C1044.12 161.46 1044.74 161.15 1045.25 161.46C1045.75 161.77 1046.18 162.93 1046.65 165.19C1047.11 167.44 1047.50 171.41 1048.05 174.99C1048.59 178.56 1049.02 181.59 1049.91 186.65C1050.81 191.70 1052.32 200.45 1053.41 205.31C1054.50 210.17 1055.55 213.86 1056.44 215.80C1057.34 217.75 1058.00 217.94 1058.78 216.97C1059.55 216.00 1060.25 213.66 1061.11 209.97C1061.96 206.28 1063.05 198.19 1063.91 194.81C1064.76 191.43 1065.46 189.87 1066.24 189.68C1067.02 189.48 1067.60 190.26 1068.57 193.64C1069.54 197.03 1070.98 205.11 1072.07 209.97C1073.16 214.83 1074.32 219.77 1075.10 222.80C1075.88 225.83 1076.46 227.27 1076.73 228.16" fill="none" stroke="#f76b66" stroke-width="1.55" stroke-linejoin="round" clip-path="url(#c2552)"/>
<rect x="1040.6" y="156.0" width="28.0" height="19.2" fill="#fff"/>
<rect x="892.50" y="154.00" width="184.20" height="102.00" fill="none" stroke="#a6a6a6" stroke-width="1.3"/>
<line x1="892.5" y1="256.0" x2="892.5" y2="254.2" stroke="#777" stroke-width="0.7"/>
<text x="892.5" y="266.9" font-size="11.50" text-anchor="middle" fill="#222" >0</text>
<line x1="934.2" y1="256.0" x2="934.2" y2="254.2" stroke="#777" stroke-width="0.7"/>
<text x="934.2" y="266.9" font-size="11.50" text-anchor="middle" fill="#222" >50</text>
<line x1="975.8" y1="256.0" x2="975.8" y2="254.2" stroke="#777" stroke-width="0.7"/>
<text x="975.8" y="266.9" font-size="11.50" text-anchor="middle" fill="#222" >100</text>
<line x1="1017.5" y1="256.0" x2="1017.5" y2="254.2" stroke="#777" stroke-width="0.7"/>
<text x="1017.5" y="266.9" font-size="11.50" text-anchor="middle" fill="#222" >150</text>
<line x1="1059.2" y1="256.0" x2="1059.2" y2="254.2" stroke="#777" stroke-width="0.7"/>
<text x="1059.2" y="266.9" font-size="11.50" text-anchor="middle" fill="#222" >200</text>
<line x1="892.5" y1="256.0" x2="894.3" y2="256.0" stroke="#777" stroke-width="0.7"/>
<text x="890.3" y="260.6" font-size="11.50" text-anchor="end" fill="#222" >0.000</text>
<line x1="892.5" y1="222.0" x2="894.3" y2="222.0" stroke="#777" stroke-width="0.7"/>
<text x="890.3" y="226.6" font-size="11.50" text-anchor="end" fill="#222" >0.005</text>
<line x1="892.5" y1="188.0" x2="894.3" y2="188.0" stroke="#777" stroke-width="0.7"/>
<text x="890.3" y="192.6" font-size="11.50" text-anchor="end" fill="#222" >0.010</text>
<line x1="892.5" y1="154.0" x2="894.3" y2="154.0" stroke="#777" stroke-width="0.7"/>
<text x="890.3" y="158.6" font-size="11.50" text-anchor="end" fill="#222" >0.015</text>
<text x="984.6" y="282.6" font-size="16.50" text-anchor="middle" fill="#222" >Pixel value</text>
<text transform="translate(857.0 205.0) rotate(-90)" font-size="16.50" text-anchor="middle" fill="#222">Arb. units</text>
<text x="1044.0" y="169.5" font-size="17.60" text-anchor="start" fill="#111" >PD</text>
<text x="901.0" y="204.5" font-size="22.00" text-anchor="start" fill="#111" >Crack</text>
<line x1="921.0" y1="210.5" x2="904.4" y2="238.6" stroke="#111" stroke-width="1"/>
<polygon points="898.5,248.5 900.7,236.5 908.0,240.7" fill="#111"/>
<clipPath id="c2580"><rect x="613.8" y="356.0" width="158.6" height="105.1"/></clipPath>
<path d="M613.44 445.92C613.96 442.71 615.53 433.89 616.57 426.66C617.62 419.44 618.70 409.21 619.70 402.59C620.70 395.97 621.63 390.55 622.59 386.94C623.55 383.33 624.60 381.85 625.48 380.92C626.36 380.00 626.96 380.40 627.89 381.41C628.81 382.41 629.89 384.01 631.02 386.94C632.14 389.87 633.42 393.96 634.63 398.98C635.83 403.99 637.03 410.82 638.24 417.03C639.44 423.25 640.77 431.28 641.85 436.29C642.93 441.31 643.73 444.60 644.74 447.13C645.74 449.65 646.94 450.74 647.87 451.46C648.79 452.18 649.27 452.38 650.27 451.46C651.28 450.54 652.68 448.25 653.89 445.92C655.09 443.59 656.29 439.98 657.50 437.50C658.70 435.01 659.90 432.80 661.11 431.00C662.31 429.19 663.72 428.39 664.72 426.66C665.72 424.94 666.32 423.45 667.13 420.65C667.93 417.84 668.73 413.22 669.53 409.81C670.34 406.40 671.14 402.47 671.94 400.18C672.74 397.90 673.55 396.29 674.35 396.09C675.15 395.89 675.95 396.69 676.75 398.98C677.56 401.27 678.16 405.20 679.16 409.81C680.17 414.43 681.57 421.65 682.77 426.66C683.98 431.68 685.18 436.29 686.38 439.90C687.59 443.51 688.59 445.92 690.00 448.33C691.40 450.74 693.20 452.86 694.81 454.35C696.41 455.83 698.02 456.63 699.62 457.24C701.23 457.84 702.03 457.76 704.44 457.96C706.85 458.16 711.86 458.64 714.07 458.44C716.28 458.24 716.56 458.04 717.68 456.75C718.80 455.47 719.81 453.55 720.81 450.74C721.81 447.93 722.73 443.51 723.70 439.90C724.66 436.29 725.66 431.60 726.59 429.07C727.51 426.54 728.43 425.46 729.23 424.74C730.04 424.02 730.64 423.94 731.40 424.74C732.16 425.54 732.89 426.82 733.81 429.55C734.73 432.28 735.81 437.50 736.94 441.11C738.06 444.72 739.35 448.81 740.55 451.22C741.75 453.63 742.96 454.71 744.16 455.55C745.36 456.39 746.37 456.35 747.77 456.27C749.18 456.19 750.98 455.71 752.59 455.07C754.19 454.43 755.80 453.14 757.40 452.42C759.00 451.70 760.81 450.82 762.21 450.74C763.62 450.66 764.62 451.26 765.83 451.94C767.03 452.62 768.43 454.03 769.44 454.83C770.44 455.63 771.44 456.43 771.84 456.75" fill="none" stroke="#5a5af4" stroke-width="1.55" stroke-linejoin="round" clip-path="url(#c2580)"/>
<rect x="613.80" y="358.00" width="158.00" height="102.10" fill="none" stroke="#a6a6a6" stroke-width="1.3"/>
<line x1="613.8" y1="460.1" x2="613.8" y2="458.3" stroke="#777" stroke-width="0.7"/>
<text x="613.8" y="471.4" font-size="12.00" text-anchor="middle" fill="#222" >0</text>
<line x1="666.5" y1="460.1" x2="666.5" y2="458.3" stroke="#777" stroke-width="0.7"/>
<text x="666.5" y="471.4" font-size="12.00" text-anchor="middle" fill="#222" >20</text>
<line x1="719.1" y1="460.1" x2="719.1" y2="458.3" stroke="#777" stroke-width="0.7"/>
<text x="719.1" y="471.4" font-size="12.00" text-anchor="middle" fill="#222" >40</text>
<line x1="771.8" y1="460.1" x2="771.8" y2="458.3" stroke="#777" stroke-width="0.7"/>
<text x="771.8" y="471.4" font-size="12.00" text-anchor="middle" fill="#222" >60</text>
<line x1="613.8" y1="460.1" x2="615.6" y2="460.1" stroke="#777" stroke-width="0.7"/>
<text x="611.6" y="464.9" font-size="12.00" text-anchor="end" fill="#222" >0.00</text>
<line x1="613.8" y1="430.7" x2="615.6" y2="430.7" stroke="#777" stroke-width="0.7"/>
<text x="611.6" y="435.5" font-size="12.00" text-anchor="end" fill="#222" >0.02</text>
<line x1="613.8" y1="401.3" x2="615.6" y2="401.3" stroke="#777" stroke-width="0.7"/>
<text x="611.6" y="406.1" font-size="12.00" text-anchor="end" fill="#222" >0.04</text>
<line x1="613.8" y1="371.9" x2="615.6" y2="371.9" stroke="#777" stroke-width="0.7"/>
<text x="611.6" y="376.7" font-size="12.00" text-anchor="end" fill="#222" >0.06</text>
<text x="692.4" y="485.6" font-size="16.50" text-anchor="middle" fill="#222" >Grain orientation (degrees)</text>
<text transform="translate(586.5 409.1) rotate(-90)" font-size="16.50" text-anchor="middle" fill="#222">Arb. units</text>
<text x="738.1" y="374.9" font-size="18.00" text-anchor="start" fill="#111" >AD</text>
<clipPath id="c2602"><rect x="619.8" y="499.5" width="200.6" height="112.7"/></clipPath>
<path d="M619.83 610.67C620.79 610.76 616.77 611.11 625.60 611.20C634.43 611.29 664.30 611.42 672.83 611.20C681.36 610.98 675.54 611.20 676.77 609.89C677.99 608.58 679.09 607.48 680.18 603.33C681.27 599.17 682.37 592.39 683.33 584.96C684.29 577.52 685.08 567.03 685.95 558.72C686.83 550.41 687.79 540.44 688.58 535.10C689.36 529.77 689.97 528.37 690.67 526.71C691.37 525.05 692.03 524.83 692.77 525.13C693.52 525.44 694.30 527.10 695.14 528.54C695.97 529.99 696.75 531.82 697.76 533.79C698.76 535.76 700.16 537.29 701.17 540.35C702.18 543.41 702.92 546.69 703.79 552.16C704.67 557.63 705.54 566.81 706.42 573.15C707.29 579.49 708.17 585.83 709.04 590.21C709.92 594.58 710.79 597.34 711.67 599.39C712.54 601.45 713.42 602.32 714.29 602.54C715.16 602.76 715.95 602.54 716.91 600.70C717.88 598.87 719.01 594.80 720.06 591.52C721.11 588.24 722.12 584.08 723.21 581.02C724.31 577.96 725.62 575.34 726.62 573.15C727.63 570.96 728.37 570.75 729.25 567.90C730.12 565.06 731.08 560.47 731.87 556.10C732.66 551.72 733.23 545.38 733.97 541.66C734.71 537.95 735.59 534.67 736.33 533.79C737.08 532.92 737.64 533.35 738.43 536.42C739.22 539.48 740.18 546.47 741.05 552.16C741.93 557.84 742.72 565.06 743.68 570.53C744.64 575.99 745.73 580.80 746.83 584.96C747.92 589.11 749.01 592.39 750.24 595.46C751.46 598.52 752.86 601.23 754.17 603.33C755.49 605.43 756.58 606.87 758.11 608.05C759.64 609.23 761.61 610.11 763.36 610.41C765.11 610.72 767.08 610.41 768.61 609.89C770.14 609.36 771.36 609.23 772.54 607.26C773.72 605.30 774.73 601.80 775.69 598.08C776.65 594.36 777.44 589.33 778.32 584.96C779.19 580.59 780.06 574.90 780.94 571.84C781.81 568.78 782.78 567.25 783.56 566.59C784.35 565.94 784.88 565.94 785.66 567.90C786.45 569.87 787.41 574.24 788.29 578.40C789.16 582.55 789.95 588.76 790.91 592.83C791.87 596.90 792.97 600.40 794.06 602.80C795.15 605.21 796.25 606.30 797.47 607.26C798.70 608.23 800.09 608.66 801.41 608.58C802.72 608.49 804.03 607.61 805.34 606.74C806.65 605.86 808.19 604.03 809.28 603.33C810.37 602.63 811.03 602.54 811.90 602.54C812.78 602.54 813.65 602.76 814.53 603.33C815.40 603.90 816.28 605.16 817.15 605.95C818.03 606.74 819.34 607.70 819.77 608.05" fill="none" stroke="#5a5af4" stroke-width="1.55" stroke-linejoin="round" clip-path="url(#c2602)"/>
<rect x="619.80" y="501.50" width="200.00" height="109.70" fill="none" stroke="#a6a6a6" stroke-width="1.3"/>
<line x1="619.8" y1="611.2" x2="619.8" y2="609.4" stroke="#777" stroke-width="0.7"/>
<text x="619.8" y="623.0" font-size="12.50" text-anchor="middle" fill="#222" >0</text>
<line x1="665.0" y1="611.2" x2="665.0" y2="609.4" stroke="#777" stroke-width="0.7"/>
<text x="665.0" y="623.0" font-size="12.50" text-anchor="middle" fill="#222" >50</text>
<line x1="710.3" y1="611.2" x2="710.3" y2="609.4" stroke="#777" stroke-width="0.7"/>
<text x="710.3" y="623.0" font-size="12.50" text-anchor="middle" fill="#222" >100</text>
<line x1="755.5" y1="611.2" x2="755.5" y2="609.4" stroke="#777" stroke-width="0.7"/>
<text x="755.5" y="623.0" font-size="12.50" text-anchor="middle" fill="#222" >150</text>
<line x1="800.8" y1="611.2" x2="800.8" y2="609.4" stroke="#777" stroke-width="0.7"/>
<text x="800.8" y="623.0" font-size="12.50" text-anchor="middle" fill="#222" >200</text>
<line x1="619.8" y1="611.2" x2="621.6" y2="611.2" stroke="#777" stroke-width="0.7"/>
<text x="617.6" y="616.2" font-size="12.50" text-anchor="end" fill="#222" >0.00</text>
<line x1="619.8" y1="567.0" x2="621.6" y2="567.0" stroke="#777" stroke-width="0.7"/>
<text x="617.6" y="572.0" font-size="12.50" text-anchor="end" fill="#222" >0.01</text>
<line x1="619.8" y1="522.8" x2="621.6" y2="522.8" stroke="#777" stroke-width="0.7"/>
<text x="617.6" y="527.8" font-size="12.50" text-anchor="end" fill="#222" >0.02</text>
<text x="719.8" y="639.5" font-size="17.70" text-anchor="middle" fill="#222" >Pixel value</text>
<text transform="translate(590.0 556.4) rotate(-90)" font-size="17.70" text-anchor="middle" fill="#222">Arb. units</text>
<text x="785.1" y="519.4" font-size="18.00" text-anchor="start" fill="#111" >PD</text>
<text x="625.6" y="558.7" font-size="21.50" text-anchor="start" fill="#111" >Crack</text>
<line x1="648.7" y1="563.4" x2="631.5" y2="592.1" stroke="#111" stroke-width="1"/>
<polygon points="625.6,602.0 627.9,590.0 635.1,594.3" fill="#111"/>
<text x="294.7" y="319.7" font-size="26.60" text-anchor="middle" fill="#111" >(a)</text>
<text x="854.4" y="317.4" font-size="26.60" text-anchor="middle" fill="#111" >(b)</text>
<text x="573.9" y="678.6" font-size="26.60" text-anchor="middle" fill="#111" >(c)</text>
</svg></body></html>
